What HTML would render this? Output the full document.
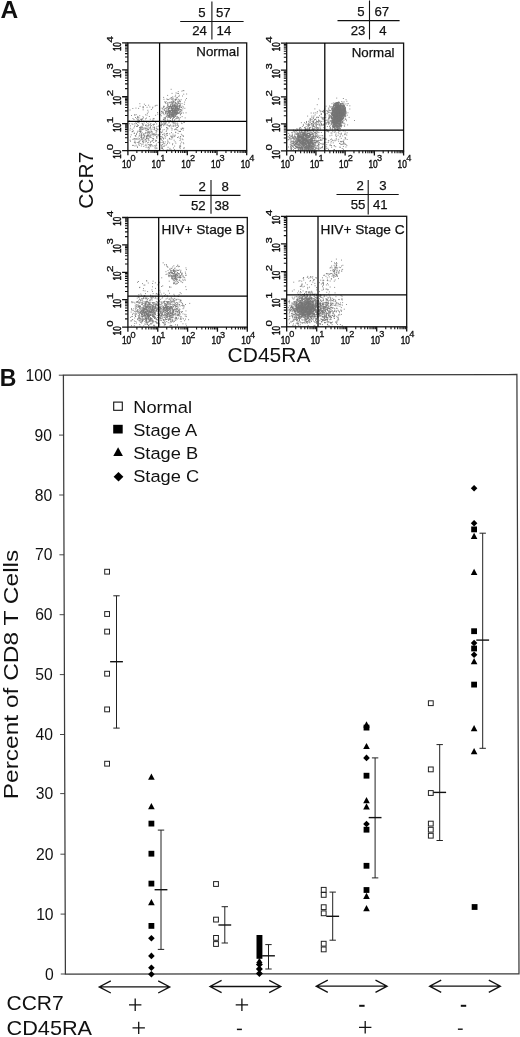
<!DOCTYPE html>
<html><head><meta charset="utf-8"><title>Figure</title>
<style>html,body{margin:0;padding:0;background:#fff}body{width:520px;height:1037px;overflow:hidden;font-family:"Liberation Sans",sans-serif}svg{display:block;will-change:transform}</style></head>
<body>
<svg width="520" height="1037" viewBox="0 0 520 1037">
<rect width="520" height="1037" fill="#fff"/>
<text x="0.4" y="18.3" font-family="Liberation Sans, sans-serif" font-size="24.5" font-weight="bold" fill="#111">A</text>
<text x="-0.3" y="386" font-family="Liberation Sans, sans-serif" font-size="23" font-weight="bold" fill="#111">B</text>
<path d="M171.2 113.6h0.9M171.4 108.4h0.9M167.9 110.2h0.9M177.9 110.8h0.9M177.6 109.9h0.9M174.4 110.5h0.9M164.3 118.0h0.9M175.0 112.3h0.9M164.2 101.9h0.9M168.1 108.5h0.9M174.0 109.2h0.9M175.1 105.2h0.9M174.0 111.9h0.9M169.3 121.7h0.9M175.2 116.5h0.9M169.5 106.4h0.9M170.8 109.9h0.9M175.6 110.5h0.9M170.3 104.8h0.9M169.9 118.4h0.9M168.5 112.8h0.9M174.6 100.1h0.9M172.7 118.0h0.9M162.6 111.2h0.9M172.0 105.1h0.9M174.9 108.8h0.9M165.3 117.5h0.9M175.8 114.8h0.9M179.6 109.9h0.9M173.1 101.8h0.9M175.5 105.2h0.9M170.3 102.9h0.9M167.8 108.3h0.9M178.8 95.3h0.9M165.4 113.8h0.9M179.6 111.3h0.9M163.2 97.4h0.9M174.3 104.9h0.9M167.0 117.8h0.9M177.9 109.2h0.9M173.7 112.3h0.9M180.3 111.3h0.9M175.0 112.6h0.9M164.8 120.5h0.9M177.2 111.8h0.9M162.8 109.2h0.9M176.6 97.4h0.9M171.6 116.6h0.9M166.1 122.1h0.9M175.2 108.2h0.9M174.1 113.5h0.9M173.1 116.9h0.9M169.3 108.5h0.9M177.6 108.5h0.9M168.2 117.3h0.9M179.7 104.9h0.9M165.7 111.4h0.9M171.8 108.4h0.9M179.4 101.4h0.9M178.7 100.1h0.9M168.6 115.2h0.9M178.0 113.5h0.9M174.2 110.3h0.9M173.2 113.3h0.9M171.6 112.0h0.9M175.3 109.1h0.9M176.2 112.3h0.9M182.4 108.8h0.9M170.4 108.4h0.9M172.4 115.7h0.9M170.9 112.9h0.9M181.5 91.2h0.9M167.0 113.3h0.9M174.5 110.8h0.9M170.4 114.7h0.9M173.9 106.3h0.9M184.4 108.3h0.9M169.8 110.3h0.9M171.4 110.0h0.9M159.1 111.3h0.9M177.4 101.1h0.9M172.2 116.0h0.9M176.7 117.9h0.9M164.2 110.5h0.9M170.8 114.4h0.9M177.8 91.6h0.9M177.8 99.3h0.9M175.8 99.7h0.9M173.4 117.1h0.9M171.8 111.4h0.9M176.4 109.6h0.9M172.1 119.6h0.9M177.6 106.5h0.9M186.0 98.5h0.9M177.0 106.9h0.9M173.1 114.2h0.9M173.6 113.6h0.9M165.0 103.1h0.9M175.5 103.0h0.9M167.5 102.5h0.9M178.7 112.6h0.9M179.7 101.8h0.9M172.5 102.9h0.9M176.3 118.6h0.9M168.1 121.1h0.9M177.3 107.3h0.9M162.8 121.9h0.9M172.0 106.4h0.9M174.5 111.9h0.9M179.8 101.3h0.9M178.1 117.4h0.9M179.6 106.6h0.9M168.9 117.5h0.9M173.1 110.6h0.9M179.5 106.1h0.9M161.2 111.3h0.9M163.4 118.0h0.9M174.1 105.7h0.9M172.5 115.2h0.9M172.9 118.1h0.9M172.2 116.5h0.9M179.8 117.6h0.9M169.2 116.5h0.9M163.3 106.3h0.9M162.9 119.8h0.9M166.5 111.9h0.9M171.6 110.1h0.9M169.6 112.4h0.9M181.3 107.4h0.9M175.1 115.4h0.9M171.5 102.5h0.9M169.8 117.5h0.9M164.4 108.9h0.9M177.4 113.3h0.9M172.5 115.0h0.9M173.3 102.4h0.9M164.8 108.5h0.9M177.0 105.0h0.9M168.1 106.7h0.9M165.0 111.7h0.9M166.7 114.1h0.9M160.9 115.8h0.9M169.4 99.0h0.9M176.1 107.1h0.9M161.6 108.1h0.9M173.9 106.7h0.9M176.3 113.4h0.9M175.8 111.0h0.9M179.0 112.0h0.9M174.7 96.4h0.9M176.9 116.7h0.9M171.0 107.6h0.9M182.0 96.0h0.9M174.8 124.3h0.9M168.0 115.8h0.9M181.7 106.2h0.9M175.2 114.7h0.9M168.1 110.9h0.9M173.9 114.6h0.9M172.3 108.8h0.9M167.5 109.4h0.9M176.9 109.2h0.9M168.3 106.1h0.9M185.6 112.8h0.9M175.6 92.9h0.9M175.5 112.0h0.9M180.8 110.0h0.9M172.2 113.3h0.9M163.0 119.5h0.9M174.1 105.1h0.9M179.0 119.1h0.9M165.6 108.1h0.9M173.9 110.7h0.9M170.5 104.6h0.9M182.9 113.0h0.9M166.6 103.6h0.9M180.8 113.4h0.9M181.4 112.1h0.9M168.2 113.0h0.9M161.9 108.8h0.9M172.2 113.3h0.9M168.9 110.4h0.9M174.7 111.6h0.9M175.6 110.3h0.9M170.9 115.4h0.9M172.7 104.8h0.9M169.4 111.0h0.9M172.0 111.1h0.9M172.5 111.1h0.9M171.8 102.4h0.9M174.6 115.9h0.9M174.6 108.1h0.9M174.7 103.3h0.9M163.2 113.4h0.9M167.9 116.1h0.9M167.2 95.4h0.9M167.4 121.4h0.9M170.6 102.1h0.9M168.8 114.4h0.9M174.9 110.3h0.9M179.8 112.0h0.9M172.4 113.7h0.9M180.6 113.4h0.9M177.5 101.7h0.9M171.8 114.8h0.9M171.0 117.1h0.9M175.4 114.7h0.9M171.5 126.1h0.9M178.6 106.7h0.9M172.9 125.9h0.9M170.8 116.0h0.9M177.3 108.5h0.9M166.8 113.0h0.9M174.3 116.4h0.9M176.3 108.9h0.9M176.7 112.0h0.9M173.5 110.0h0.9M171.3 114.6h0.9M167.3 107.8h0.9M172.5 100.9h0.9M170.4 98.2h0.9M169.2 114.6h0.9M175.3 108.8h0.9M171.4 101.6h0.9M181.5 110.3h0.9M177.9 102.8h0.9M171.6 99.0h0.9M176.3 114.5h0.9M163.2 112.7h0.9M175.6 98.1h0.9M163.6 106.3h0.9M169.4 102.3h0.9M172.7 111.5h0.9M175.6 113.3h0.9M179.9 114.8h0.9M166.1 109.0h0.9M167.3 105.0h0.9M172.1 110.2h0.9M174.9 99.4h0.9M166.4 111.8h0.9M171.5 108.4h0.9M172.2 105.4h0.9M175.9 111.1h0.9M172.1 106.0h0.9M171.6 93.4h0.9M167.7 111.8h0.9M165.1 113.6h0.9M173.2 101.2h0.9M171.3 108.5h0.9M174.8 113.1h0.9M172.3 104.8h0.9M171.8 109.8h0.9M176.1 110.6h0.9M169.0 102.8h0.9M170.7 106.0h0.9M167.1 111.1h0.9M170.1 111.4h0.9M175.1 106.6h0.9M183.9 104.3h0.9M177.9 109.0h0.9M178.0 93.5h0.9M168.8 112.7h0.9M175.5 123.5h0.9M174.1 117.4h0.9M176.3 114.6h0.9M175.0 108.2h0.9M175.0 102.5h0.9M178.3 101.8h0.9M173.7 122.7h0.9M171.4 110.5h0.9M178.2 108.3h0.9M168.5 112.9h0.9M175.4 113.5h0.9M168.7 122.1h0.9M180.7 107.4h0.9M173.8 106.9h0.9M179.4 103.4h0.9M175.8 105.9h0.9M169.1 115.6h0.9M179.0 107.8h0.9M169.2 116.1h0.9M172.3 112.0h0.9M180.0 114.6h0.9M170.0 125.0h0.9M172.5 114.9h0.9M169.3 110.8h0.9M163.9 123.9h0.9M179.2 100.3h0.9M165.1 102.4h0.9M178.3 105.3h0.9M172.2 108.2h0.9M171.9 103.5h0.9M172.6 101.1h0.9M172.1 112.0h0.9M174.8 107.8h0.9M168.1 112.4h0.9M170.1 120.5h0.9M176.3 108.1h0.9M170.2 106.4h0.9M167.9 109.3h0.9M173.9 112.7h0.9M175.3 122.1h0.9M169.0 111.2h0.9M186.2 94.0h0.9M169.9 111.9h0.9M173.3 112.3h0.9M171.3 112.7h0.9M172.8 114.7h0.9M163.2 107.5h0.9M172.5 103.6h0.9M167.4 115.6h0.9M169.3 115.0h0.9M176.2 110.7h0.9M175.0 108.5h0.9M165.6 112.1h0.9M174.7 106.0h0.9M172.0 114.8h0.9M168.2 115.4h0.9M181.6 103.6h0.9M173.2 108.8h0.9M180.0 109.5h0.9M176.9 104.3h0.9M172.4 110.0h0.9M163.8 121.8h0.9M176.9 97.7h0.9M176.1 108.0h0.9M174.7 111.6h0.9M165.2 111.1h0.9M179.8 104.0h0.9M167.5 103.2h0.9M166.5 114.0h0.9M180.8 110.0h0.9M173.7 123.4h0.9M170.0 106.7h0.9M175.1 112.6h0.9M167.5 104.4h0.9M173.9 111.1h0.9M166.1 110.8h0.9M169.8 113.7h0.9M171.9 109.7h0.9M170.8 117.1h0.9M179.3 105.5h0.9M176.6 104.0h0.9M172.9 114.5h0.9M179.9 105.2h0.9M172.1 111.3h0.9M165.2 112.5h0.9M169.2 113.4h0.9M167.0 99.6h0.9M172.7 111.6h0.9M169.8 116.4h0.9M171.2 106.7h0.9M174.8 99.5h0.9M169.2 111.0h0.9M176.7 107.6h0.9M174.0 105.4h0.9M174.0 119.8h0.9M169.1 125.8h0.9M169.3 111.1h0.9M173.3 116.1h0.9M166.4 99.0h0.9M175.5 114.0h0.9M175.6 125.3h0.9M173.5 111.2h0.9M177.1 110.8h0.9M180.7 99.7h0.9M170.7 89.3h0.9M176.5 106.4h0.9M177.0 121.9h0.9M172.5 108.4h0.9M170.1 105.6h0.9M169.4 115.0h0.9M172.7 110.4h0.9M171.7 115.9h0.9M174.9 108.3h0.9M175.8 108.0h0.9M166.9 120.9h0.9M174.8 103.3h0.9M177.8 110.4h0.9M164.8 122.5h0.9M174.1 115.0h0.9M173.5 108.8h0.9M164.9 118.5h0.9M172.6 108.2h0.9M174.2 109.9h0.9M175.8 106.6h0.9M172.3 96.8h0.9M170.4 114.9h0.9M179.0 105.6h0.9M171.9 120.0h0.9M170.9 115.1h0.9M180.7 107.6h0.9M178.5 103.6h0.9M173.5 109.2h0.9M173.1 116.8h0.9M184.2 102.1h0.9M169.7 114.0h0.9M167.3 114.8h0.9M175.3 107.4h0.9M175.1 99.5h0.9M176.2 99.2h0.9M169.1 107.7h0.9M170.5 116.0h0.9M172.9 107.4h0.9M175.2 118.9h0.9M172.5 112.3h0.9M178.6 109.7h0.9M166.2 127.5h0.9M183.3 94.2h0.9M172.3 112.6h0.9M177.2 112.6h0.9M171.2 103.9h0.9M173.0 116.2h0.9M167.2 105.4h0.9M172.4 98.0h0.9M171.2 107.7h0.9M174.7 104.9h0.9M168.2 109.0h0.9M172.3 106.0h0.9M172.6 114.6h0.9M178.3 118.7h0.9M168.7 108.7h0.9M160.3 125.7h0.9M168.9 111.0h0.9M175.1 100.7h0.9M174.8 109.1h0.9M163.6 114.7h0.9M178.4 96.5h0.9M176.5 110.0h0.9M174.8 112.0h0.9M178.9 106.5h0.9M176.8 106.1h0.9M176.1 103.8h0.9M172.0 120.9h0.9M174.7 108.3h0.9M166.9 106.9h0.9M173.4 115.5h0.9M174.6 112.6h0.9M172.3 118.4h0.9M170.6 107.2h0.9M176.9 109.0h0.9M171.1 106.9h0.9M171.2 114.3h0.9M174.2 101.9h0.9M174.6 110.4h0.9M167.6 116.4h0.9M171.1 108.4h0.9M176.4 116.9h0.9M169.1 113.8h0.9M168.2 125.7h0.9M170.1 118.2h0.9M169.3 116.1h0.9M183.4 90.7h0.9M170.4 113.8h0.9M172.0 106.0h0.9M183.0 107.0h0.9M164.4 117.9h0.9M164.1 119.9h0.9M169.7 111.8h0.9M178.7 108.7h0.9M165.7 101.7h0.9M178.3 112.7h0.9M168.5 116.6h0.9M174.9 113.2h0.9M161.4 111.7h0.9M176.9 113.1h0.9M176.8 93.4h0.9M173.3 112.8h0.9M185.0 100.0h0.9M170.9 110.7h0.9M176.8 105.8h0.9M178.1 103.3h0.9M173.8 106.3h0.9M173.3 105.5h0.9M164.7 119.3h0.9M174.0 106.1h0.9M173.5 115.8h0.9M167.7 110.9h0.9M175.1 112.4h0.9M170.9 97.5h0.9M178.6 110.0h0.9M172.6 108.3h0.9M173.8 106.9h0.9M167.5 107.1h0.9M169.6 107.2h0.9M166.8 115.8h0.9M166.1 116.2h0.9M167.5 113.8h0.9M179.2 109.1h0.9M168.9 111.5h0.9M173.2 99.0h0.9M169.5 112.0h0.9M170.2 111.2h0.9M176.1 113.6h0.9M176.9 112.2h0.9M171.1 110.3h0.9M171.2 108.5h0.9M171.6 99.6h0.9M170.9 110.4h0.9M167.7 111.4h0.9M175.0 108.2h0.9M182.7 90.5h0.9M171.5 99.0h0.9M177.3 124.9h0.9M160.2 114.8h0.9M175.0 107.3h0.9M175.2 95.2h0.9M176.7 110.9h0.9M172.6 106.3h0.9M175.6 106.0h0.9M173.6 106.5h0.9M161.5 113.4h0.9M173.5 114.4h0.9M168.2 111.2h0.9M175.5 109.9h0.9M178.6 120.4h0.9M168.0 99.6h0.9M176.7 118.1h0.9M177.0 113.6h0.9M169.5 106.6h0.9M176.9 102.9h0.9M163.6 106.7h0.9M184.7 117.9h0.9M169.1 106.6h0.9M173.6 105.0h0.9M178.9 107.4h0.9M167.2 119.8h0.9M169.6 112.3h0.9M172.4 108.1h0.9M174.1 105.2h0.9M163.5 99.3h0.9M166.3 107.3h0.9M172.4 110.4h0.9M175.2 109.9h0.9M168.6 106.9h0.9M162.1 112.3h0.9M174.9 112.5h0.9M171.9 109.1h0.9M177.1 108.6h0.9M176.1 112.4h0.9M147.8 144.5h0.9M141.1 131.1h0.9M139.1 127.6h0.9M159.2 148.1h0.9M146.2 138.5h0.9M156.0 140.5h0.9M156.2 123.9h0.9M140.6 137.6h0.9M158.2 134.8h0.9M138.7 131.2h0.9M140.4 127.1h0.9M158.8 129.0h0.9M156.1 136.7h0.9M140.8 137.3h0.9M159.8 139.0h0.9M156.7 134.8h0.9M150.4 132.4h0.9M149.6 144.4h0.9M133.8 133.5h0.9M148.0 129.4h0.9M143.4 140.3h0.9M163.0 139.0h0.9M148.8 121.6h0.9M162.4 134.6h0.9M145.7 125.1h0.9M145.5 125.2h0.9M146.6 137.7h0.9M146.3 136.2h0.9M138.8 145.4h0.9M140.4 119.5h0.9M144.4 127.9h0.9M137.4 131.2h0.9M148.5 124.5h0.9M144.8 145.4h0.9M151.8 132.8h0.9M147.1 133.0h0.9M145.6 139.9h0.9M145.2 114.8h0.9M145.8 126.9h0.9M151.5 129.1h0.9M137.1 125.0h0.9M134.0 114.8h0.9M130.0 136.9h0.9M140.6 119.1h0.9M133.4 138.9h0.9M139.4 131.1h0.9M148.8 144.9h0.9M162.5 142.3h0.9M147.2 135.5h0.9M161.3 145.4h0.9M143.4 137.7h0.9M148.4 134.4h0.9M141.7 123.4h0.9M141.5 121.6h0.9M156.4 138.3h0.9M135.7 145.2h0.9M153.6 118.7h0.9M161.7 140.5h0.9M163.5 124.2h0.9M150.5 137.4h0.9M147.7 135.4h0.9M155.0 122.0h0.9M135.4 122.8h0.9M141.3 129.2h0.9M149.1 136.1h0.9M146.3 128.6h0.9M142.2 141.6h0.9M152.5 134.8h0.9M143.3 146.4h0.9M140.9 139.2h0.9M155.8 131.9h0.9M153.0 125.1h0.9M154.6 135.6h0.9M132.5 139.4h0.9M138.4 144.3h0.9M140.2 132.7h0.9M148.4 131.3h0.9M148.2 129.6h0.9M151.7 134.0h0.9M147.8 112.0h0.9M155.9 134.3h0.9M130.8 134.8h0.9M150.0 142.6h0.9M136.8 146.4h0.9M144.8 139.4h0.9M142.9 125.1h0.9M155.3 141.3h0.9M159.1 140.9h0.9M141.1 120.7h0.9M140.5 128.6h0.9M139.1 138.7h0.9M148.8 131.8h0.9M147.5 132.8h0.9M147.8 140.0h0.9M154.2 128.5h0.9M133.2 145.4h0.9M147.0 142.8h0.9M132.0 131.4h0.9M146.2 122.5h0.9M141.6 139.8h0.9M155.2 146.8h0.9M138.7 122.8h0.9M150.4 141.5h0.9M147.6 123.6h0.9M152.6 140.3h0.9M150.7 130.1h0.9M148.6 140.3h0.9M141.3 119.3h0.9M148.8 137.8h0.9M146.1 141.1h0.9M141.0 133.3h0.9M143.4 138.6h0.9M159.6 132.0h0.9M163.5 146.2h0.9M152.7 138.7h0.9M161.1 132.6h0.9M145.0 125.5h0.9M150.0 144.8h0.9M150.5 137.4h0.9M144.3 135.4h0.9M133.9 142.4h0.9M142.5 125.2h0.9M139.6 127.4h0.9M153.3 142.5h0.9M134.5 141.4h0.9M153.5 129.4h0.9M133.4 128.0h0.9M140.6 136.7h0.9M143.0 117.8h0.9M148.0 121.7h0.9M153.7 124.3h0.9M140.1 127.2h0.9M141.4 144.4h0.9M153.2 138.8h0.9M148.7 121.6h0.9M141.6 129.6h0.9M137.7 138.1h0.9M139.7 128.3h0.9M137.1 117.5h0.9M151.1 144.6h0.9M147.5 126.2h0.9M156.3 136.4h0.9M153.9 145.8h0.9M155.6 130.5h0.9M154.9 140.2h0.9M132.9 130.8h0.9M133.9 133.1h0.9M150.9 125.5h0.9M149.2 145.8h0.9M134.7 142.5h0.9M144.2 136.2h0.9M144.7 142.0h0.9M154.8 134.7h0.9M134.4 139.9h0.9M142.0 139.0h0.9M148.2 147.0h0.9M155.7 130.4h0.9M149.0 148.1h0.9M141.4 137.5h0.9M156.1 144.1h0.9M150.4 123.4h0.9M135.3 136.0h0.9M138.7 143.1h0.9M152.5 120.6h0.9M139.0 135.3h0.9M141.8 132.8h0.9M150.0 127.5h0.9M150.0 128.9h0.9M141.4 138.3h0.9M141.1 136.3h0.9M159.6 134.2h0.9M144.8 139.9h0.9M142.9 142.7h0.9M135.1 138.9h0.9M141.6 127.6h0.9M161.0 127.2h0.9M160.9 139.3h0.9M158.4 126.2h0.9M156.2 145.7h0.9M145.0 133.0h0.9M166.9 135.4h0.9M142.4 129.0h0.9M149.8 136.6h0.9M147.5 147.8h0.9M143.2 137.8h0.9M158.4 126.0h0.9M154.8 148.7h0.9M134.5 125.2h0.9M137.2 119.2h0.9M149.8 119.2h0.9M150.2 145.6h0.9M132.3 131.5h0.9M129.7 140.2h0.9M139.7 131.9h0.9M146.5 138.4h0.9M143.1 134.1h0.9M141.4 134.9h0.9M136.0 134.5h0.9M129.6 130.1h0.9M162.3 134.6h0.9M135.3 136.1h0.9M137.7 120.8h0.9M139.7 139.9h0.9M149.3 133.2h0.9M138.1 125.4h0.9M157.5 136.0h0.9M137.9 117.1h0.9M136.2 133.4h0.9M147.8 132.7h0.9M143.6 123.0h0.9M137.1 147.5h0.9M139.6 140.8h0.9M131.6 131.8h0.9M148.2 142.3h0.9M136.5 138.8h0.9M149.3 128.1h0.9M150.1 126.8h0.9M139.2 133.8h0.9M137.5 122.3h0.9M142.4 140.1h0.9M142.6 144.1h0.9M136.1 123.5h0.9M159.2 137.2h0.9M154.0 127.4h0.9M152.8 136.1h0.9M151.5 134.2h0.9M156.3 128.8h0.9M137.8 122.2h0.9M155.9 128.1h0.9M137.1 126.5h0.9M142.2 123.8h0.9M143.5 129.0h0.9M141.3 126.3h0.9M146.3 130.3h0.9M147.0 136.0h0.9M148.9 116.5h0.9M141.4 127.6h0.9M152.6 121.4h0.9M139.9 131.6h0.9M143.1 141.9h0.9M142.2 141.7h0.9M133.5 119.5h0.9M156.4 137.5h0.9M150.1 135.0h0.9M150.1 124.3h0.9M154.1 129.7h0.9M154.4 134.7h0.9M129.2 123.7h0.9M155.6 132.9h0.9M142.6 135.9h0.9M142.4 129.6h0.9M146.9 135.2h0.9M158.9 134.4h0.9M162.0 148.4h0.9M160.6 142.5h0.9M147.1 135.1h0.9M144.8 128.2h0.9M145.4 128.9h0.9M159.9 138.3h0.9M142.2 118.7h0.9M145.5 130.7h0.9M136.8 124.9h0.9M145.7 132.8h0.9M158.3 135.1h0.9M147.4 131.0h0.9M140.9 146.0h0.9M154.5 147.7h0.9M143.0 134.2h0.9M138.5 141.7h0.9M134.2 138.5h0.9M155.3 145.3h0.9M138.0 142.7h0.9M139.9 127.9h0.9M134.8 143.2h0.9M160.0 129.2h0.9M139.5 131.3h0.9M167.3 142.0h0.9M141.4 119.6h0.9M140.3 143.5h0.9M161.9 131.9h0.9M140.1 129.9h0.9M130.0 141.3h0.9M136.8 142.5h0.9M131.5 123.8h0.9M148.5 127.9h0.9M152.6 134.1h0.9M136.0 139.0h0.9M153.2 118.7h0.9M161.5 138.0h0.9M152.5 119.1h0.9M139.9 131.2h0.9M155.2 122.3h0.9M138.5 117.8h0.9M144.0 136.8h0.9M131.7 129.3h0.9M150.3 146.7h0.9M151.6 131.6h0.9M136.0 126.5h0.9M140.4 135.2h0.9M145.6 147.3h0.9M148.4 125.4h0.9M159.1 141.6h0.9M146.9 128.2h0.9M130.1 125.8h0.9M153.7 127.6h0.9M134.8 135.6h0.9M148.1 138.9h0.9M151.6 145.3h0.9M138.9 141.8h0.9M137.6 139.6h0.9M147.5 135.9h0.9M154.2 133.9h0.9M155.5 141.0h0.9M147.2 129.5h0.9M139.6 129.8h0.9M144.3 133.8h0.9M171.3 139.1h0.9M152.5 127.1h0.9M140.0 131.4h0.9M147.6 125.7h0.9M159.7 129.5h0.9M155.2 115.3h0.9M145.9 136.2h0.9M147.6 138.8h0.9M148.4 135.3h0.9M129.9 128.3h0.9M148.6 132.4h0.9M139.0 129.3h0.9M161.7 147.8h0.9M145.5 144.3h0.9M132.5 118.5h0.9M141.9 127.0h0.9M141.2 135.5h0.9M171.7 128.7h0.9M146.4 136.2h0.9M145.7 141.4h0.9M161.1 124.1h0.9M147.4 131.9h0.9M149.0 121.7h0.9M131.1 115.5h0.9M150.5 135.5h0.9M146.6 115.1h0.9M142.8 128.0h0.9M134.0 126.7h0.9M151.9 138.4h0.9M145.8 138.1h0.9M140.9 134.6h0.9M146.3 138.4h0.9M145.4 132.9h0.9M144.9 128.8h0.9M165.0 138.1h0.9M157.9 121.5h0.9M151.9 140.7h0.9M162.0 144.5h0.9M152.6 124.6h0.9M138.6 136.2h0.9M150.3 125.8h0.9M175.1 126.0h0.9M165.3 123.6h0.9M177.1 137.5h0.9M163.5 146.4h0.9M166.4 133.5h0.9M163.7 129.6h0.9M180.1 131.4h0.9M164.0 135.7h0.9M167.6 147.3h0.9M162.7 149.4h0.9M161.4 147.1h0.9M176.0 127.9h0.9M171.5 130.0h0.9M166.2 127.6h0.9M168.7 149.7h0.9M184.0 147.9h0.9M162.3 130.1h0.9M181.5 123.6h0.9M177.4 130.2h0.9M183.5 122.4h0.9M179.4 131.5h0.9M163.4 122.1h0.9M180.0 136.7h0.9M164.5 134.2h0.9M181.9 128.1h0.9M173.7 125.9h0.9M164.3 143.6h0.9M177.1 127.5h0.9M161.9 124.4h0.9M174.6 135.9h0.9M166.6 127.8h0.9M174.7 141.8h0.9M179.5 138.3h0.9M164.9 123.8h0.9M177.6 133.4h0.9M177.3 123.6h0.9M179.5 131.4h0.9M180.2 146.2h0.9M171.8 122.4h0.9M181.8 135.3h0.9M180.9 129.5h0.9M164.5 145.3h0.9M168.8 126.6h0.9M168.9 138.7h0.9M160.1 136.6h0.9M170.7 136.4h0.9M162.9 142.0h0.9M179.6 146.2h0.9M167.7 141.9h0.9M169.2 143.0h0.9M161.5 146.4h0.9M182.9 135.9h0.9M172.3 136.9h0.9M172.9 122.6h0.9M183.2 128.3h0.9M164.4 124.9h0.9M166.0 144.9h0.9M160.7 124.7h0.9M176.8 127.5h0.9M160.4 138.8h0.9M173.8 136.6h0.9M176.9 124.9h0.9M180.9 142.1h0.9M161.1 125.4h0.9M171.8 136.0h0.9M166.7 125.4h0.9M169.7 125.8h0.9M174.2 146.1h0.9M163.5 138.0h0.9M177.9 126.6h0.9M179.8 148.3h0.9M169.3 133.8h0.9M180.2 136.7h0.9M169.5 148.4h0.9M178.6 131.5h0.9M165.8 131.4h0.9M170.5 149.5h0.9M179.3 147.6h0.9M179.6 145.7h0.9M161.3 136.5h0.9M183.0 148.2h0.9M166.0 133.8h0.9M175.2 132.2h0.9M172.7 123.9h0.9M170.4 136.1h0.9M160.5 125.9h0.9M183.3 143.7h0.9M182.5 139.7h0.9M179.4 146.8h0.9M181.2 123.0h0.9M175.4 129.4h0.9M176.3 129.7h0.9M173.0 147.9h0.9M174.9 129.0h0.9M172.5 134.1h0.9M182.8 130.1h0.9M167.3 140.1h0.9M162.9 138.6h0.9M182.9 136.4h0.9M166.4 135.1h0.9M172.8 126.2h0.9M163.0 125.7h0.9M167.0 133.4h0.9M166.9 128.8h0.9M162.1 137.3h0.9M180.2 139.1h0.9M173.7 140.2h0.9M164.8 141.9h0.9M171.1 137.3h0.9M174.7 135.1h0.9M167.5 128.8h0.9M165.3 136.3h0.9M169.2 138.4h0.9M160.3 131.9h0.9M180.7 128.7h0.9M173.4 135.8h0.9M166.8 149.7h0.9M167.1 143.6h0.9M163.8 123.9h0.9M180.9 134.3h0.9M132.4 124.3h0.9M153.2 138.9h0.9M135.0 117.5h0.9M181.8 139.0h0.9M137.5 122.2h0.9M148.4 136.4h0.9M162.9 143.7h0.9M174.2 129.7h0.9M169.6 139.2h0.9M170.8 128.0h0.9M172.2 137.8h0.9M179.3 113.3h0.9M176.9 108.2h0.9M171.1 132.6h0.9M156.4 148.4h0.9M160.5 125.6h0.9M172.1 144.7h0.9M162.4 123.9h0.9M153.9 127.2h0.9M168.8 120.3h0.9M150.5 131.3h0.9M150.1 121.5h0.9M172.3 143.7h0.9M156.5 126.6h0.9M139.1 120.8h0.9M137.0 132.2h0.9M161.0 111.7h0.9M179.6 121.6h0.9M175.4 143.2h0.9M181.7 116.6h0.9M152.5 146.2h0.9M129.6 110.0h0.9M160.1 128.9h0.9M179.6 140.5h0.9M157.5 129.7h0.9M166.7 124.4h0.9M148.7 133.0h0.9M148.3 147.8h0.9M166.2 130.1h0.9M134.4 123.7h0.9M151.0 131.6h0.9M160.6 145.0h0.9M182.0 128.4h0.9M153.2 134.2h0.9M183.8 122.4h0.9M158.2 142.3h0.9M138.4 121.4h0.9M182.8 142.7h0.9M157.2 112.6h0.9M178.2 137.0h0.9M174.1 149.6h0.9M177.8 125.7h0.9M137.6 120.2h0.9M157.1 129.2h0.9M139.3 115.7h0.9M163.7 133.3h0.9M148.4 149.7h0.9M164.0 109.8h0.9M151.6 141.1h0.9M145.9 137.0h0.9M129.2 120.8h0.9M175.3 132.6h0.9M165.7 116.3h0.9M156.4 131.2h0.9M143.6 135.2h0.9M160.6 125.3h0.9M135.7 114.6h0.9M170.8 112.5h0.9M134.5 115.2h0.9M157.7 142.6h0.9M162.7 141.9h0.9M132.4 108.5h0.9M171.4 121.6h0.9M168.4 122.9h0.9M138.3 119.2h0.9M134.5 146.0h0.9M161.0 122.7h0.9M153.7 124.2h0.9M132.0 145.4h0.9M161.0 148.3h0.9M153.2 134.0h0.9M142.7 109.8h0.9M180.2 143.9h0.9M146.3 145.8h0.9M173.9 120.8h0.9M162.1 148.3h0.9M156.3 147.9h0.9M142.4 124.4h0.9M152.4 107.2h0.9M141.3 119.6h0.9M146.1 118.1h0.9M139.6 106.3h0.9M142.7 106.5h0.9M159.2 108.5h0.9M148.2 105.2h0.9M147.4 110.3h0.9M143.9 104.2h0.9M136.3 118.7h0.9M142.5 107.7h0.9M138.2 108.4h0.9M139.4 103.7h0.9M150.9 109.5h0.9M137.2 116.4h0.9M135.5 108.1h0.9M155.5 105.4h0.9M145.0 118.9h0.9M154.7 106.0h0.9M142.5 116.7h0.9M143.2 121.2h0.9M138.6 121.1h0.9M146.6 107.3h0.9M145.2 105.5h0.9M152.1 108.0h0.9M157.3 114.2h0.9M142.9 107.7h0.9M149.4 107.0h0.9M156.6 105.3h0.9M146.9 113.3h0.9" stroke="#767676" stroke-width="0.90" fill="none"/>
<rect x="127.9" y="42.9" width="118.8" height="107.7" fill="none" stroke="#111" stroke-width="1.3"/>
<path d="M159.6 42.9V150.6M127.9 121.4H246.7" stroke="#000" stroke-width="1.25" fill="none"/>
<path d="M127.90 150.6v4.6M127.9 150.60h-5.8M157.60 150.6v4.6M127.9 123.67h-5.8M187.30 150.6v4.6M127.9 96.75h-5.8M217.00 150.6v4.6M127.9 69.83h-5.8M246.70 150.6v4.6M127.9 42.90h-5.8" stroke="#111" stroke-width="1.3" fill="none"/>
<path d="M136.84 150.6v2.4M127.9 142.49h-2.9M142.07 150.6v2.4M127.9 137.75h-2.9M145.78 150.6v2.4M127.9 134.39h-2.9M148.66 150.6v2.4M127.9 131.78h-2.9M151.01 150.6v2.4M127.9 129.65h-2.9M153.00 150.6v2.4M127.9 127.85h-2.9M154.72 150.6v2.4M127.9 126.28h-2.9M156.24 150.6v2.4M127.9 124.91h-2.9M166.54 150.6v2.4M127.9 115.57h-2.9M171.77 150.6v2.4M127.9 110.83h-2.9M175.48 150.6v2.4M127.9 107.46h-2.9M178.36 150.6v2.4M127.9 104.86h-2.9M180.71 150.6v2.4M127.9 102.72h-2.9M182.70 150.6v2.4M127.9 100.92h-2.9M184.42 150.6v2.4M127.9 99.36h-2.9M185.94 150.6v2.4M127.9 97.98h-2.9M196.24 150.6v2.4M127.9 88.64h-2.9M201.47 150.6v2.4M127.9 83.90h-2.9M205.18 150.6v2.4M127.9 80.54h-2.9M208.06 150.6v2.4M127.9 77.93h-2.9M210.41 150.6v2.4M127.9 75.80h-2.9M212.40 150.6v2.4M127.9 74.00h-2.9M214.12 150.6v2.4M127.9 72.43h-2.9M215.64 150.6v2.4M127.9 71.06h-2.9M225.94 150.6v2.4M127.9 61.72h-2.9M231.17 150.6v2.4M127.9 56.98h-2.9M234.88 150.6v2.4M127.9 53.61h-2.9M237.76 150.6v2.4M127.9 51.01h-2.9M240.11 150.6v2.4M127.9 48.87h-2.9M242.10 150.6v2.4M127.9 47.07h-2.9M243.82 150.6v2.4M127.9 45.51h-2.9M245.34 150.6v2.4M127.9 44.13h-2.9" stroke="#111" stroke-width="1.1" fill="none"/>
<text transform="translate(121.9 167.5) scale(0.76 1)" font-family="Liberation Sans, sans-serif" font-size="11" fill="#111" stroke="#111" stroke-width="0.45">10</text>
<text x="130.5" y="161.2" font-family="Liberation Sans, sans-serif" font-size="9.2" fill="#111" stroke="#111" stroke-width="0.3">0</text>
<text transform="translate(120.7 158.8) rotate(-90) scale(0.8 1)" font-family="Liberation Sans, sans-serif" font-size="10" fill="#111" stroke="#111" stroke-width="0.5">10</text>
<text transform="translate(113.4 150.2) rotate(-90) scale(1.3 1)" font-family="Liberation Sans, sans-serif" font-size="8.8" fill="#111" stroke="#111" stroke-width="0.3">0</text>
<text transform="translate(151.6 167.5) scale(0.76 1)" font-family="Liberation Sans, sans-serif" font-size="11" fill="#111" stroke="#111" stroke-width="0.45">10</text>
<text x="160.2" y="161.2" font-family="Liberation Sans, sans-serif" font-size="9.2" fill="#111" stroke="#111" stroke-width="0.3">1</text>
<text transform="translate(120.7 131.9) rotate(-90) scale(0.8 1)" font-family="Liberation Sans, sans-serif" font-size="10" fill="#111" stroke="#111" stroke-width="0.5">10</text>
<text transform="translate(113.4 123.3) rotate(-90) scale(1.3 1)" font-family="Liberation Sans, sans-serif" font-size="8.8" fill="#111" stroke="#111" stroke-width="0.3">1</text>
<text transform="translate(181.3 167.5) scale(0.76 1)" font-family="Liberation Sans, sans-serif" font-size="11" fill="#111" stroke="#111" stroke-width="0.45">10</text>
<text x="189.9" y="161.2" font-family="Liberation Sans, sans-serif" font-size="9.2" fill="#111" stroke="#111" stroke-width="0.3">2</text>
<text transform="translate(120.7 105.0) rotate(-90) scale(0.8 1)" font-family="Liberation Sans, sans-serif" font-size="10" fill="#111" stroke="#111" stroke-width="0.5">10</text>
<text transform="translate(113.4 96.3) rotate(-90) scale(1.3 1)" font-family="Liberation Sans, sans-serif" font-size="8.8" fill="#111" stroke="#111" stroke-width="0.3">2</text>
<text transform="translate(211.0 167.5) scale(0.76 1)" font-family="Liberation Sans, sans-serif" font-size="11" fill="#111" stroke="#111" stroke-width="0.45">10</text>
<text x="219.6" y="161.2" font-family="Liberation Sans, sans-serif" font-size="9.2" fill="#111" stroke="#111" stroke-width="0.3">3</text>
<text transform="translate(120.7 78.0) rotate(-90) scale(0.8 1)" font-family="Liberation Sans, sans-serif" font-size="10" fill="#111" stroke="#111" stroke-width="0.5">10</text>
<text transform="translate(113.4 69.4) rotate(-90) scale(1.3 1)" font-family="Liberation Sans, sans-serif" font-size="8.8" fill="#111" stroke="#111" stroke-width="0.3">3</text>
<text transform="translate(240.7 167.5) scale(0.76 1)" font-family="Liberation Sans, sans-serif" font-size="11" fill="#111" stroke="#111" stroke-width="0.45">10</text>
<text x="249.3" y="161.2" font-family="Liberation Sans, sans-serif" font-size="9.2" fill="#111" stroke="#111" stroke-width="0.3">4</text>
<text transform="translate(120.7 51.1) rotate(-90) scale(0.8 1)" font-family="Liberation Sans, sans-serif" font-size="10" fill="#111" stroke="#111" stroke-width="0.5">10</text>
<text transform="translate(113.4 42.5) rotate(-90) scale(1.3 1)" font-family="Liberation Sans, sans-serif" font-size="8.8" fill="#111" stroke="#111" stroke-width="0.3">4</text>
<text x="196.3" y="55.8" font-family="Liberation Sans, sans-serif" font-size="13.3" fill="#111" stroke="#111" stroke-width="0.25">Normal</text>
<path d="M211.9 1.5V39.4M180.2 21.5H243.6" stroke="#111" stroke-width="1.1" fill="none"/>
<text x="205.6" y="16.9" font-family="Liberation Sans, sans-serif" font-size="13.2" fill="#111" stroke="#111" stroke-width="0.25" text-anchor="end">5</text>
<text x="215.9" y="16.9" font-family="Liberation Sans, sans-serif" font-size="13.2" fill="#111" stroke="#111" stroke-width="0.25" text-anchor="start">57</text>
<text x="206.8" y="35.4" font-family="Liberation Sans, sans-serif" font-size="13.2" fill="#111" stroke="#111" stroke-width="0.25" text-anchor="end">24</text>
<text x="216.6" y="35.4" font-family="Liberation Sans, sans-serif" font-size="13.2" fill="#111" stroke="#111" stroke-width="0.25" text-anchor="start">14</text>
<path d="M337.3 120.7h0.9M333.5 116.7h0.9M334.8 109.6h0.9M336.8 113.0h0.9M335.5 118.7h0.9M342.5 115.9h0.9M334.9 116.4h0.9M337.7 113.4h0.9M337.0 115.1h0.9M343.0 117.6h0.9M337.3 116.9h0.9M344.4 106.4h0.9M340.5 114.7h0.9M344.6 113.0h0.9M336.1 107.2h0.9M332.8 115.6h0.9M337.2 107.6h0.9M340.5 107.4h0.9M336.3 109.0h0.9M337.5 103.0h0.9M339.4 111.9h0.9M339.7 114.6h0.9M336.8 116.5h0.9M341.8 112.6h0.9M336.5 108.9h0.9M341.2 105.6h0.9M337.5 107.5h0.9M332.2 114.8h0.9M338.1 111.7h0.9M342.0 103.4h0.9M337.9 113.1h0.9M341.8 105.6h0.9M341.3 112.7h0.9M338.2 109.2h0.9M336.7 106.4h0.9M337.8 113.8h0.9M342.5 109.6h0.9M344.2 108.0h0.9M334.9 107.2h0.9M344.5 114.3h0.9M333.6 114.3h0.9M340.2 110.3h0.9M338.3 109.9h0.9M337.8 118.3h0.9M344.2 110.0h0.9M335.1 110.4h0.9M342.0 113.4h0.9M335.7 113.4h0.9M337.3 114.2h0.9M336.5 103.7h0.9M338.4 115.5h0.9M333.6 110.9h0.9M341.9 109.5h0.9M341.7 116.9h0.9M331.3 108.8h0.9M341.3 118.5h0.9M334.3 108.0h0.9M340.9 114.4h0.9M336.3 114.3h0.9M341.4 113.1h0.9M340.4 119.4h0.9M336.2 112.3h0.9M336.0 116.9h0.9M336.5 114.0h0.9M338.8 111.8h0.9M345.4 111.1h0.9M344.1 115.8h0.9M343.7 110.6h0.9M342.1 115.5h0.9M335.6 112.9h0.9M337.7 111.3h0.9M343.6 107.7h0.9M336.3 108.1h0.9M338.3 114.4h0.9M345.5 113.1h0.9M340.1 107.7h0.9M340.6 118.6h0.9M341.6 103.7h0.9M336.9 114.6h0.9M339.9 107.3h0.9M334.5 116.5h0.9M338.3 113.1h0.9M332.7 108.4h0.9M341.1 103.9h0.9M333.1 111.7h0.9M340.2 115.3h0.9M336.7 110.4h0.9M337.2 108.5h0.9M339.2 112.3h0.9M335.6 112.8h0.9M338.1 111.1h0.9M339.2 106.0h0.9M336.9 119.3h0.9M333.7 111.0h0.9M335.8 116.4h0.9M340.3 109.7h0.9M336.9 117.1h0.9M334.5 109.6h0.9M338.8 113.6h0.9M336.1 116.9h0.9M344.0 109.7h0.9M338.8 109.7h0.9M335.6 104.9h0.9M336.6 118.2h0.9M342.9 109.7h0.9M336.0 107.9h0.9M340.9 112.1h0.9M336.2 106.2h0.9M343.6 115.5h0.9M334.3 116.6h0.9M333.6 114.8h0.9M334.2 109.4h0.9M340.2 113.7h0.9M342.4 107.2h0.9M338.2 113.9h0.9M335.0 110.7h0.9M332.7 112.0h0.9M339.0 118.5h0.9M342.1 115.7h0.9M336.7 110.3h0.9M336.8 112.7h0.9M331.7 108.8h0.9M338.3 108.8h0.9M345.1 111.0h0.9M336.1 113.6h0.9M343.6 109.8h0.9M338.6 108.6h0.9M338.4 109.7h0.9M338.5 116.7h0.9M343.9 112.2h0.9M339.0 115.9h0.9M337.0 106.0h0.9M342.8 106.7h0.9M342.0 106.5h0.9M341.7 119.3h0.9M334.2 119.2h0.9M341.2 115.1h0.9M338.0 109.9h0.9M336.6 110.0h0.9M336.7 107.8h0.9M339.8 117.0h0.9M341.2 105.4h0.9M338.9 112.2h0.9M340.4 117.8h0.9M336.6 119.5h0.9M336.4 113.6h0.9M342.0 106.8h0.9M338.9 111.2h0.9M336.9 114.1h0.9M338.6 110.1h0.9M336.4 106.6h0.9M335.7 112.0h0.9M340.6 107.0h0.9M342.3 106.2h0.9M341.6 113.7h0.9M337.1 110.6h0.9M340.2 116.0h0.9M332.7 112.9h0.9M335.1 114.8h0.9M343.9 111.8h0.9M337.8 112.5h0.9M340.5 112.4h0.9M336.6 107.7h0.9M337.5 117.8h0.9M337.8 118.5h0.9M339.3 111.4h0.9M331.3 108.1h0.9M343.4 104.8h0.9M334.1 105.8h0.9M335.9 114.8h0.9M344.2 108.4h0.9M335.8 120.1h0.9M337.9 105.1h0.9M335.6 107.7h0.9M334.0 109.8h0.9M341.8 113.3h0.9M334.1 112.1h0.9M338.3 115.4h0.9M336.8 113.9h0.9M333.7 113.2h0.9M334.9 109.6h0.9M339.0 113.2h0.9M337.0 115.9h0.9M337.4 104.7h0.9M341.8 109.6h0.9M343.2 108.1h0.9M340.6 113.1h0.9M333.6 118.8h0.9M342.7 114.1h0.9M341.0 108.9h0.9M338.2 112.7h0.9M339.9 115.2h0.9M337.3 107.9h0.9M335.9 113.6h0.9M336.5 108.6h0.9M336.8 110.2h0.9M336.9 114.0h0.9M340.2 117.7h0.9M342.6 106.1h0.9M340.8 109.8h0.9M334.9 119.5h0.9M335.6 107.1h0.9M336.5 107.1h0.9M342.4 113.5h0.9M344.0 113.6h0.9M335.7 116.9h0.9M335.5 109.1h0.9M337.5 111.7h0.9M343.1 108.4h0.9M339.7 111.4h0.9M333.0 105.8h0.9M337.3 113.6h0.9M339.5 114.0h0.9M338.4 109.2h0.9M340.0 106.3h0.9M332.6 109.8h0.9M332.3 108.8h0.9M335.1 108.6h0.9M338.0 107.3h0.9M336.4 102.6h0.9M338.8 106.9h0.9M334.9 112.8h0.9M338.6 112.0h0.9M332.0 112.7h0.9M338.8 106.4h0.9M341.3 111.2h0.9M338.3 109.2h0.9M340.5 112.0h0.9M342.9 113.9h0.9M335.6 110.3h0.9M342.0 109.6h0.9M339.8 114.2h0.9M338.7 112.6h0.9M338.8 107.5h0.9M343.2 110.8h0.9M335.6 107.8h0.9M339.7 105.8h0.9M343.6 117.0h0.9M343.9 114.6h0.9M343.4 114.1h0.9M343.9 108.9h0.9M338.7 115.6h0.9M337.8 117.2h0.9M338.5 115.1h0.9M338.6 103.8h0.9M339.4 118.4h0.9M340.5 108.4h0.9M337.4 116.2h0.9M341.6 118.5h0.9M334.3 108.1h0.9M333.4 118.7h0.9M340.0 108.9h0.9M337.9 112.6h0.9M342.3 118.7h0.9M340.3 113.4h0.9M337.4 109.4h0.9M339.3 111.3h0.9M337.8 110.1h0.9M335.1 111.4h0.9M336.4 112.6h0.9M341.8 115.8h0.9M341.2 115.8h0.9M341.0 118.9h0.9M342.4 118.6h0.9M336.1 111.5h0.9M335.1 116.5h0.9M341.7 109.1h0.9M343.4 105.6h0.9M337.8 114.8h0.9M338.1 113.5h0.9M343.1 113.2h0.9M333.6 115.3h0.9M337.8 112.1h0.9M335.8 104.2h0.9M333.0 109.6h0.9M343.0 105.4h0.9M335.2 114.3h0.9M335.0 115.0h0.9M336.2 113.1h0.9M338.6 111.5h0.9M338.0 118.9h0.9M335.9 114.3h0.9M338.9 114.0h0.9M339.4 110.6h0.9M336.9 107.0h0.9M334.9 106.1h0.9M345.3 111.6h0.9M341.3 106.4h0.9M338.8 119.1h0.9M338.0 106.2h0.9M337.2 106.3h0.9M332.4 110.3h0.9M336.5 107.2h0.9M334.5 106.6h0.9M339.2 118.8h0.9M331.4 112.9h0.9M333.4 110.7h0.9M338.6 114.4h0.9M342.9 108.6h0.9M333.0 110.5h0.9M339.4 107.8h0.9M332.2 113.4h0.9M339.1 110.3h0.9M339.1 109.0h0.9M340.1 114.9h0.9M341.4 114.6h0.9M339.9 105.3h0.9M336.4 112.2h0.9M336.6 105.9h0.9M338.3 108.4h0.9M336.5 106.8h0.9M335.1 111.0h0.9M335.5 115.1h0.9M337.6 112.2h0.9M339.9 118.2h0.9M340.7 112.7h0.9M337.5 107.3h0.9M336.8 115.1h0.9M339.1 109.5h0.9M339.5 116.9h0.9M339.8 104.3h0.9M337.3 112.7h0.9M334.4 113.3h0.9M337.4 107.1h0.9M333.0 115.8h0.9M339.7 106.8h0.9M334.0 116.2h0.9M340.7 109.9h0.9M344.9 110.0h0.9M333.8 117.2h0.9M337.4 113.3h0.9M338.4 106.2h0.9M333.2 110.5h0.9M344.1 106.2h0.9M343.9 112.7h0.9M333.5 112.9h0.9M340.6 106.8h0.9M333.6 113.8h0.9M334.8 103.7h0.9M337.2 112.4h0.9M335.9 105.3h0.9M339.1 102.3h0.9M340.4 114.1h0.9M339.7 112.9h0.9M338.3 104.5h0.9M344.3 114.3h0.9M337.0 105.5h0.9M344.4 114.3h0.9M333.2 115.0h0.9M339.9 109.3h0.9M335.6 117.1h0.9M337.7 115.7h0.9M336.9 115.3h0.9M341.7 106.2h0.9M333.7 111.1h0.9M341.7 113.0h0.9M340.3 108.2h0.9M338.6 113.2h0.9M334.2 110.3h0.9M333.3 112.9h0.9M334.7 108.9h0.9M339.1 108.1h0.9M343.0 108.2h0.9M341.7 113.0h0.9M333.9 110.4h0.9M334.7 109.6h0.9M336.5 119.7h0.9M340.1 104.7h0.9M342.5 113.5h0.9M337.3 110.2h0.9M339.3 109.9h0.9M336.0 109.6h0.9M343.1 108.3h0.9M339.8 105.5h0.9M335.2 104.3h0.9M337.4 115.1h0.9M339.5 108.9h0.9M340.7 109.7h0.9M339.8 112.9h0.9M332.8 115.5h0.9M337.2 108.6h0.9M344.4 114.4h0.9M337.4 115.3h0.9M334.9 109.2h0.9M335.9 110.3h0.9M341.4 109.0h0.9M339.5 108.9h0.9M337.3 112.4h0.9M333.7 116.8h0.9M339.1 118.2h0.9M342.2 114.8h0.9M337.6 105.8h0.9M337.3 109.1h0.9M339.2 109.1h0.9M343.1 109.0h0.9M337.2 116.3h0.9M338.2 105.2h0.9M339.9 110.5h0.9M333.8 107.6h0.9M340.2 113.1h0.9M339.9 108.3h0.9M339.2 110.9h0.9M337.4 110.1h0.9M335.9 116.6h0.9M338.3 120.4h0.9M337.7 113.5h0.9M336.4 110.6h0.9M334.3 108.1h0.9M343.2 112.9h0.9M343.3 116.0h0.9M342.0 116.7h0.9M335.7 115.7h0.9M336.9 108.7h0.9M341.6 107.1h0.9M339.3 113.4h0.9M339.8 109.6h0.9M332.9 111.7h0.9M341.8 115.6h0.9M340.9 117.2h0.9M334.1 111.3h0.9M339.6 116.7h0.9M338.8 114.2h0.9M332.3 108.0h0.9M339.1 120.4h0.9M340.1 115.0h0.9M342.4 112.5h0.9M334.6 111.0h0.9M339.6 110.1h0.9M335.4 109.6h0.9M337.8 109.6h0.9M338.4 118.8h0.9M339.4 111.3h0.9M333.3 105.9h0.9M339.8 107.0h0.9M340.0 105.9h0.9M338.8 111.1h0.9M342.3 109.5h0.9M336.7 112.8h0.9M338.4 120.3h0.9M337.1 108.7h0.9M336.9 114.0h0.9M339.2 115.1h0.9M333.2 112.3h0.9M338.3 103.8h0.9M340.1 118.7h0.9M343.9 116.2h0.9M336.7 114.1h0.9M344.5 109.8h0.9M338.1 108.6h0.9M344.1 106.5h0.9M334.3 108.4h0.9M340.7 108.2h0.9M343.3 109.9h0.9M340.2 110.6h0.9M338.5 115.1h0.9M335.1 112.5h0.9M335.5 103.7h0.9M340.0 103.6h0.9M336.7 112.8h0.9M335.1 117.6h0.9M343.2 111.7h0.9M340.3 111.8h0.9M339.9 106.3h0.9M334.4 107.8h0.9M336.7 114.7h0.9M335.6 108.4h0.9M341.1 113.8h0.9M336.8 105.9h0.9M342.9 117.1h0.9M339.6 115.4h0.9M342.1 110.2h0.9M334.2 115.4h0.9M343.1 109.7h0.9M341.0 111.2h0.9M339.4 108.7h0.9M338.1 111.5h0.9M338.2 116.5h0.9M342.6 115.6h0.9M341.5 106.6h0.9M343.2 106.5h0.9M343.5 115.0h0.9M334.1 117.6h0.9M335.4 107.6h0.9M331.8 110.4h0.9M342.4 108.0h0.9M336.0 105.2h0.9M331.4 114.4h0.9M343.6 106.0h0.9M338.2 110.1h0.9M337.1 114.1h0.9M341.7 117.2h0.9M337.0 110.7h0.9M332.6 117.1h0.9M336.0 108.1h0.9M338.5 107.0h0.9M333.9 110.0h0.9M344.4 110.4h0.9M340.4 103.9h0.9M336.5 103.5h0.9M337.8 114.7h0.9M339.3 106.7h0.9M341.5 116.5h0.9M340.0 109.3h0.9M338.0 108.2h0.9M337.7 113.2h0.9M337.0 116.6h0.9M339.6 115.8h0.9M340.9 110.3h0.9M336.2 116.7h0.9M340.8 114.1h0.9M334.9 114.8h0.9M341.5 110.5h0.9M333.3 104.4h0.9M337.2 114.3h0.9M338.4 105.4h0.9M332.2 108.6h0.9M338.3 107.2h0.9M334.7 110.7h0.9M335.9 108.4h0.9M338.4 109.9h0.9M340.8 105.3h0.9M337.9 115.5h0.9M343.1 114.4h0.9M338.4 103.4h0.9M341.0 114.5h0.9M333.8 105.3h0.9M338.9 106.2h0.9M344.8 108.2h0.9M335.9 116.0h0.9M339.6 106.8h0.9M333.1 110.2h0.9M340.8 115.2h0.9M342.3 113.7h0.9M335.4 105.3h0.9M333.6 115.5h0.9M341.9 118.1h0.9M338.3 105.1h0.9M342.8 117.7h0.9M336.5 104.4h0.9M337.9 113.5h0.9M337.8 115.2h0.9M338.5 113.9h0.9M339.5 106.7h0.9M337.7 109.5h0.9M340.2 107.4h0.9M344.3 111.7h0.9M340.4 114.8h0.9M342.6 113.6h0.9M340.6 114.0h0.9M335.5 107.9h0.9M335.5 117.6h0.9M340.1 105.2h0.9M345.5 113.3h0.9M343.2 112.6h0.9M336.8 112.4h0.9M333.5 105.2h0.9M334.5 108.7h0.9M332.5 111.0h0.9M341.9 110.3h0.9M339.8 111.3h0.9M335.9 111.9h0.9M332.0 113.8h0.9M337.0 105.8h0.9M336.7 114.4h0.9M335.3 114.0h0.9M340.6 119.8h0.9M333.6 110.9h0.9M340.4 119.5h0.9M339.3 115.5h0.9M332.0 108.4h0.9M345.2 110.0h0.9M337.0 103.0h0.9M340.9 112.9h0.9M337.1 104.0h0.9M337.9 116.5h0.9M341.3 118.0h0.9M341.9 111.3h0.9M340.8 112.4h0.9M339.8 105.9h0.9M339.8 113.0h0.9M342.4 119.2h0.9M339.6 113.4h0.9M333.5 109.0h0.9M339.0 115.5h0.9M342.8 110.8h0.9M337.7 106.2h0.9M338.7 112.1h0.9M339.5 118.5h0.9M337.8 112.0h0.9M337.0 111.9h0.9M342.3 107.2h0.9M341.6 113.6h0.9M332.1 112.2h0.9M339.1 115.4h0.9M341.7 108.5h0.9M342.8 115.9h0.9M340.2 114.1h0.9M332.7 113.4h0.9M333.8 105.1h0.9M336.7 112.2h0.9M338.0 109.7h0.9M333.9 112.5h0.9M335.0 103.9h0.9M338.6 119.3h0.9M336.5 105.8h0.9M336.9 110.4h0.9M338.8 116.8h0.9M333.5 104.9h0.9M340.1 112.1h0.9M339.5 111.9h0.9M339.4 119.4h0.9M343.8 108.2h0.9M341.1 109.5h0.9M338.7 112.4h0.9M338.3 109.0h0.9M344.9 110.1h0.9M340.9 117.0h0.9M332.2 111.4h0.9M339.5 112.3h0.9M334.8 110.2h0.9M337.8 111.9h0.9M338.2 110.3h0.9M336.1 112.2h0.9M336.5 108.5h0.9M336.3 112.6h0.9M343.5 110.5h0.9M337.1 113.4h0.9M339.4 109.5h0.9M335.7 114.9h0.9M338.4 108.5h0.9M338.3 110.9h0.9M340.1 112.7h0.9M336.1 104.7h0.9M333.5 110.7h0.9M333.3 115.6h0.9M338.0 110.2h0.9M331.9 114.5h0.9M338.1 116.1h0.9M336.0 115.4h0.9M342.1 114.8h0.9M344.4 110.6h0.9M344.8 107.7h0.9M338.3 107.2h0.9M338.2 117.1h0.9M341.3 112.0h0.9M334.7 119.7h0.9M339.7 105.1h0.9M335.8 118.5h0.9M334.6 116.5h0.9M340.7 110.8h0.9M332.1 110.0h0.9M340.7 113.5h0.9M341.5 111.9h0.9M340.3 116.7h0.9M335.7 103.9h0.9M338.0 102.5h0.9M338.2 115.7h0.9M344.7 112.9h0.9M339.0 115.5h0.9M344.2 109.8h0.9M332.9 107.2h0.9M332.8 106.7h0.9M337.7 113.4h0.9M338.9 111.9h0.9M336.7 113.8h0.9M342.0 115.6h0.9M344.6 109.9h0.9M337.1 120.7h0.9M339.1 113.7h0.9M336.8 116.7h0.9M336.5 106.1h0.9M337.9 109.1h0.9M341.8 109.5h0.9M338.7 110.3h0.9M339.7 108.1h0.9M336.5 107.7h0.9M341.0 111.7h0.9M340.3 109.7h0.9M335.1 105.5h0.9M336.8 108.6h0.9M339.4 113.4h0.9M342.4 110.9h0.9M335.0 105.8h0.9M338.5 113.4h0.9M333.7 118.0h0.9M338.2 116.7h0.9M336.1 111.1h0.9M337.3 116.7h0.9M338.5 107.7h0.9M339.2 115.1h0.9M335.1 114.9h0.9M335.1 106.8h0.9M339.1 110.2h0.9M338.3 112.8h0.9M336.2 112.5h0.9M331.6 113.6h0.9M340.0 113.0h0.9M335.6 111.9h0.9M338.8 117.3h0.9M339.4 112.9h0.9M335.1 116.2h0.9M343.2 108.8h0.9M340.9 113.2h0.9M338.0 104.6h0.9M339.5 109.5h0.9M343.1 109.2h0.9M338.4 114.8h0.9M340.2 108.7h0.9M341.1 113.6h0.9M342.4 108.7h0.9M338.0 109.4h0.9M334.6 112.9h0.9M340.0 119.2h0.9M336.8 113.6h0.9M343.1 110.9h0.9M338.5 112.2h0.9M335.2 106.2h0.9M343.0 112.4h0.9M337.9 104.8h0.9M338.7 117.8h0.9M333.3 106.7h0.9M344.9 108.5h0.9M340.8 107.5h0.9M340.4 109.5h0.9M339.0 118.7h0.9M339.6 110.2h0.9M338.4 112.9h0.9M336.0 112.6h0.9M340.8 119.9h0.9M332.9 116.2h0.9M338.7 117.6h0.9M336.0 108.9h0.9M339.7 108.4h0.9M342.9 111.5h0.9M336.3 116.5h0.9M334.7 118.2h0.9M342.3 112.3h0.9M344.1 111.5h0.9M338.0 117.4h0.9M331.9 108.3h0.9M340.3 114.5h0.9M339.6 113.9h0.9M332.6 110.5h0.9M339.3 110.3h0.9M338.5 114.8h0.9M334.1 108.5h0.9M341.5 110.4h0.9M342.3 109.5h0.9M338.8 112.1h0.9M337.3 115.8h0.9M333.6 114.7h0.9M335.3 106.2h0.9M340.6 114.2h0.9M335.1 105.5h0.9M340.9 110.7h0.9M335.7 110.0h0.9M337.0 107.6h0.9M338.5 116.6h0.9M331.8 110.3h0.9M344.5 115.5h0.9M334.7 107.2h0.9M343.1 111.9h0.9M335.2 103.9h0.9M336.6 108.8h0.9M338.7 117.2h0.9M341.0 110.5h0.9M340.7 109.2h0.9M337.8 106.4h0.9M334.4 103.6h0.9M340.3 114.3h0.9M338.9 115.6h0.9M340.5 112.1h0.9M334.5 114.6h0.9M343.2 114.9h0.9M343.5 109.0h0.9M334.1 118.1h0.9M335.7 112.8h0.9M337.4 111.6h0.9M337.1 108.6h0.9M334.4 105.5h0.9M340.6 120.2h0.9M337.2 115.4h0.9M340.7 104.9h0.9M335.8 109.6h0.9M343.5 112.1h0.9M337.7 107.2h0.9M338.6 111.7h0.9M341.3 118.9h0.9M341.3 111.6h0.9M337.6 120.0h0.9M339.0 111.4h0.9M340.6 110.9h0.9M335.5 117.1h0.9M336.3 116.6h0.9M334.9 112.1h0.9M339.9 112.3h0.9M339.2 113.5h0.9M333.5 105.6h0.9M337.7 106.6h0.9M335.4 111.7h0.9M343.2 108.5h0.9M340.6 112.5h0.9M336.7 106.5h0.9M337.6 107.7h0.9M342.9 115.5h0.9M340.6 119.4h0.9M338.4 113.9h0.9M335.3 105.5h0.9M340.0 114.2h0.9M336.4 110.2h0.9M336.1 108.5h0.9M338.0 117.2h0.9M331.4 109.7h0.9M345.0 113.2h0.9M338.8 115.9h0.9M334.0 105.1h0.9M339.2 116.0h0.9M336.5 107.9h0.9M339.9 114.7h0.9M339.2 107.0h0.9M335.5 119.4h0.9M343.7 114.0h0.9M339.4 112.4h0.9M335.7 111.2h0.9M335.4 112.4h0.9M341.9 115.9h0.9M334.2 110.8h0.9M337.1 105.0h0.9M338.5 109.0h0.9M342.0 113.8h0.9M334.9 111.9h0.9M336.7 108.2h0.9M336.2 117.1h0.9M336.5 102.5h0.9M335.0 115.7h0.9M336.7 109.8h0.9M332.3 113.6h0.9M338.0 113.0h0.9M341.5 115.9h0.9M335.5 108.4h0.9M344.7 115.3h0.9M338.8 105.8h0.9M341.9 114.3h0.9M341.6 112.9h0.9M338.5 108.6h0.9M339.5 112.8h0.9M340.9 117.2h0.9M339.5 108.7h0.9M341.6 119.7h0.9M334.7 113.7h0.9M340.5 114.3h0.9M340.3 111.0h0.9M337.8 120.4h0.9M335.4 108.8h0.9M331.5 113.4h0.9M338.0 108.7h0.9M336.5 115.0h0.9M338.0 117.6h0.9M340.6 111.3h0.9M340.5 107.7h0.9M341.5 119.4h0.9M336.7 114.4h0.9M341.9 106.1h0.9M345.5 112.1h0.9M341.9 110.1h0.9M337.8 116.6h0.9M335.4 115.1h0.9M336.7 113.3h0.9M333.0 115.6h0.9M343.7 105.6h0.9M337.2 102.5h0.9M339.5 107.7h0.9M335.9 107.1h0.9M339.4 109.1h0.9M334.4 110.3h0.9M339.9 107.0h0.9M339.9 109.5h0.9M344.8 108.1h0.9M335.4 104.5h0.9M333.7 109.7h0.9M334.2 119.5h0.9M339.1 116.3h0.9M338.2 114.0h0.9M337.7 112.6h0.9M339.1 107.8h0.9M339.7 112.4h0.9M338.0 107.9h0.9M334.0 112.8h0.9M336.0 118.6h0.9M342.0 107.8h0.9M343.9 106.3h0.9M336.4 110.4h0.9M333.3 110.8h0.9M336.7 108.3h0.9M335.5 115.4h0.9M344.6 109.4h0.9M343.8 113.1h0.9M332.0 115.0h0.9M336.5 112.5h0.9M339.2 106.6h0.9M339.4 120.3h0.9M339.2 107.9h0.9M334.4 113.6h0.9M339.3 115.9h0.9M334.9 119.2h0.9M340.3 117.8h0.9M331.8 111.5h0.9M343.7 111.5h0.9M339.0 108.2h0.9M342.8 107.8h0.9M338.4 112.6h0.9M336.0 110.4h0.9M333.0 114.9h0.9M338.0 115.8h0.9M333.7 114.6h0.9M336.3 112.0h0.9M342.1 111.7h0.9M336.7 102.7h0.9M338.5 115.6h0.9M335.5 111.1h0.9M339.9 118.3h0.9M336.9 102.7h0.9M336.6 103.2h0.9M339.5 110.7h0.9M342.6 109.5h0.9M339.6 112.6h0.9M340.1 103.7h0.9M341.2 116.2h0.9M334.4 119.4h0.9M338.3 115.1h0.9M340.5 116.2h0.9M335.5 108.4h0.9M339.8 114.7h0.9M340.6 113.3h0.9M336.2 117.4h0.9M340.2 117.1h0.9M335.4 112.1h0.9M336.2 109.9h0.9M339.0 113.3h0.9M334.9 114.4h0.9M334.6 113.8h0.9M336.6 106.5h0.9M337.8 111.2h0.9M342.3 104.4h0.9M334.5 117.5h0.9M342.0 108.9h0.9M334.9 113.4h0.9M332.2 108.8h0.9M340.7 115.6h0.9M332.7 107.1h0.9M334.0 109.8h0.9M339.1 113.9h0.9M341.9 112.3h0.9M333.2 112.3h0.9M335.1 116.9h0.9M343.7 108.2h0.9M334.4 112.2h0.9M333.7 116.3h0.9M338.9 107.4h0.9M335.3 115.4h0.9M334.8 110.4h0.9M341.7 118.5h0.9M341.0 112.0h0.9M340.1 114.6h0.9M341.3 113.0h0.9M337.5 102.9h0.9M335.6 112.9h0.9M336.8 113.1h0.9M343.2 105.0h0.9M339.6 111.9h0.9M338.8 112.3h0.9M336.6 104.1h0.9M340.1 113.6h0.9M340.7 118.2h0.9M334.3 113.7h0.9M338.1 115.4h0.9M337.5 108.3h0.9M339.3 114.3h0.9M334.0 118.6h0.9M343.1 113.9h0.9M337.7 110.2h0.9M334.0 108.8h0.9M342.5 106.5h0.9M336.0 116.1h0.9M342.9 108.0h0.9M339.9 114.1h0.9M333.3 117.0h0.9M339.4 105.2h0.9M332.7 115.6h0.9M331.9 107.8h0.9M335.4 108.4h0.9M335.8 114.5h0.9M344.8 111.0h0.9M335.2 119.8h0.9M337.7 118.9h0.9M334.8 111.8h0.9M339.8 110.5h0.9M344.7 107.6h0.9M342.5 118.9h0.9M334.3 108.6h0.9M337.6 120.2h0.9M336.6 118.8h0.9M336.0 123.3h0.9M338.8 117.2h0.9M335.9 117.3h0.9M335.7 114.1h0.9M339.5 124.2h0.9M335.9 117.7h0.9M334.7 117.8h0.9M332.3 123.8h0.9M338.4 113.4h0.9M334.6 121.4h0.9M336.3 118.3h0.9M335.8 119.6h0.9M340.5 120.6h0.9M336.2 118.5h0.9M334.1 117.5h0.9M340.1 122.1h0.9M337.0 120.2h0.9M332.6 122.2h0.9M335.2 113.4h0.9M337.0 123.4h0.9M337.0 118.8h0.9M337.9 126.2h0.9M335.3 123.5h0.9M339.8 118.7h0.9M336.9 117.4h0.9M338.4 119.2h0.9M340.2 117.3h0.9M342.0 119.5h0.9M333.4 116.7h0.9M338.6 116.9h0.9M338.1 114.2h0.9M336.2 117.5h0.9M339.1 127.2h0.9M333.0 119.4h0.9M337.2 123.3h0.9M332.4 122.0h0.9M335.9 125.6h0.9M330.9 118.3h0.9M334.6 119.5h0.9M338.8 118.0h0.9M339.2 125.9h0.9M339.6 120.0h0.9M333.5 119.8h0.9M338.6 121.6h0.9M338.3 123.8h0.9M333.3 116.5h0.9M341.2 118.7h0.9M333.5 116.5h0.9M339.6 115.6h0.9M333.3 126.0h0.9M336.7 121.3h0.9M334.1 119.9h0.9M334.6 120.9h0.9M338.9 114.9h0.9M341.4 120.6h0.9M336.3 120.7h0.9M339.7 122.5h0.9M339.2 120.2h0.9M335.9 120.7h0.9M338.6 121.3h0.9M333.3 120.6h0.9M339.7 120.0h0.9M335.9 119.3h0.9M340.6 126.1h0.9M336.1 123.7h0.9M333.0 126.3h0.9M341.0 120.7h0.9M335.2 118.7h0.9M335.7 115.0h0.9M336.2 123.7h0.9M337.4 123.3h0.9M331.1 116.4h0.9M338.5 125.8h0.9M332.4 118.2h0.9M332.7 124.1h0.9M337.5 121.2h0.9M334.1 122.6h0.9M336.4 117.4h0.9M337.4 117.8h0.9M339.5 124.0h0.9M334.0 123.8h0.9M336.5 117.6h0.9M332.5 122.7h0.9M340.4 118.0h0.9M336.8 122.7h0.9M339.0 123.1h0.9M340.5 124.7h0.9M333.7 122.9h0.9M336.4 123.8h0.9M335.3 125.0h0.9M340.8 117.0h0.9M334.5 122.3h0.9M338.0 121.7h0.9M339.1 115.3h0.9M338.9 126.6h0.9M340.1 123.0h0.9M335.5 122.9h0.9M336.0 113.4h0.9M334.2 120.8h0.9M334.5 116.5h0.9M335.5 119.2h0.9M336.5 120.8h0.9M336.9 125.8h0.9M336.8 123.0h0.9M334.9 124.3h0.9M335.1 118.0h0.9M332.1 125.3h0.9M334.5 122.2h0.9M340.1 123.6h0.9M339.6 124.3h0.9M334.1 121.2h0.9M334.4 116.1h0.9M337.3 117.3h0.9M334.4 121.4h0.9M334.5 121.3h0.9M334.2 114.2h0.9M341.5 123.1h0.9M336.8 118.8h0.9M335.8 122.4h0.9M331.6 117.2h0.9M333.3 127.0h0.9M332.7 126.6h0.9M336.0 121.2h0.9M340.9 125.2h0.9M339.5 115.9h0.9M336.0 118.7h0.9M332.6 125.9h0.9M337.3 121.0h0.9M339.3 120.9h0.9M341.3 116.4h0.9M339.3 116.2h0.9M341.1 119.7h0.9M340.5 119.0h0.9M337.7 126.5h0.9M333.2 121.5h0.9M333.4 125.1h0.9M334.2 119.2h0.9M335.6 126.6h0.9M332.8 120.9h0.9M335.2 118.4h0.9M333.6 120.2h0.9M337.0 113.6h0.9M337.1 115.3h0.9M333.0 120.7h0.9M335.4 125.7h0.9M330.8 121.9h0.9M337.2 126.1h0.9M334.5 124.2h0.9M332.7 127.2h0.9M336.1 117.7h0.9M336.9 129.4h0.9M333.4 115.0h0.9M332.8 115.5h0.9M336.1 122.7h0.9M335.7 121.9h0.9M340.3 119.6h0.9M337.1 117.7h0.9M335.5 123.0h0.9M337.9 113.5h0.9M333.0 121.4h0.9M335.8 126.5h0.9M333.0 122.9h0.9M337.1 123.6h0.9M338.1 117.6h0.9M334.3 122.4h0.9M336.8 116.4h0.9M333.1 122.8h0.9M334.1 118.9h0.9M339.7 121.6h0.9M335.9 121.5h0.9M332.3 126.9h0.9M333.7 127.3h0.9M334.7 118.8h0.9M341.4 121.9h0.9M334.1 118.4h0.9M338.4 119.1h0.9M332.5 117.8h0.9M335.9 122.2h0.9M334.1 127.1h0.9M333.0 117.6h0.9M338.0 123.3h0.9M335.0 125.6h0.9M336.5 127.4h0.9M335.6 121.9h0.9M335.6 129.2h0.9M339.4 122.6h0.9M337.0 127.7h0.9M333.1 119.6h0.9M336.8 118.9h0.9M335.9 129.0h0.9M339.5 123.9h0.9M336.4 121.3h0.9M337.5 122.2h0.9M333.8 124.7h0.9M333.5 120.8h0.9M335.1 115.5h0.9M338.4 120.7h0.9M332.3 120.6h0.9M334.4 124.4h0.9M333.0 116.9h0.9M336.0 123.0h0.9M339.4 119.7h0.9M340.0 125.6h0.9M333.3 120.1h0.9M334.4 125.2h0.9M339.4 119.8h0.9M334.6 122.6h0.9M333.7 114.9h0.9M333.0 122.6h0.9M337.0 129.4h0.9M332.4 126.5h0.9M338.7 121.6h0.9M341.3 119.2h0.9M334.5 116.0h0.9M334.1 121.6h0.9M338.6 127.1h0.9M335.4 117.5h0.9M335.2 119.0h0.9M334.7 119.1h0.9M333.4 120.8h0.9M334.6 120.2h0.9M331.6 121.7h0.9M338.2 124.1h0.9M334.4 115.6h0.9M331.9 115.4h0.9M334.1 119.5h0.9M331.1 117.7h0.9M333.9 124.9h0.9M335.4 119.1h0.9M335.6 120.2h0.9M335.9 117.2h0.9M337.5 118.5h0.9M338.2 115.9h0.9M334.7 115.5h0.9M337.8 118.5h0.9M338.8 118.4h0.9M339.3 121.7h0.9M337.5 121.7h0.9M335.1 119.3h0.9M337.8 124.4h0.9M340.0 120.7h0.9M337.1 117.3h0.9M336.0 117.6h0.9M331.9 118.9h0.9M337.5 119.0h0.9M335.1 115.9h0.9M337.1 115.8h0.9M335.2 128.8h0.9M337.6 117.8h0.9M335.1 116.5h0.9M336.7 124.3h0.9M339.4 119.7h0.9M332.3 120.6h0.9M341.9 122.3h0.9M334.8 123.6h0.9M333.1 127.4h0.9M334.4 116.9h0.9M334.4 120.6h0.9M339.6 118.3h0.9M330.3 120.6h0.9M338.1 128.3h0.9M338.6 123.2h0.9M333.7 116.9h0.9M333.1 125.4h0.9M337.0 126.0h0.9M342.4 121.1h0.9M331.9 118.9h0.9M335.1 119.2h0.9M336.8 117.1h0.9M340.2 114.6h0.9M331.6 123.8h0.9M338.4 120.1h0.9M339.1 123.9h0.9M334.4 120.8h0.9M334.8 122.8h0.9M338.1 126.7h0.9M337.7 126.1h0.9M332.7 119.8h0.9M336.6 122.3h0.9M336.8 114.8h0.9M334.0 120.2h0.9M336.9 117.0h0.9M335.9 117.6h0.9M331.9 117.9h0.9M333.6 125.0h0.9M340.8 123.7h0.9M335.6 118.4h0.9M331.1 118.6h0.9M337.1 119.9h0.9M336.3 123.0h0.9M336.3 123.0h0.9M333.7 121.2h0.9M335.1 126.1h0.9M332.2 127.1h0.9M336.0 118.7h0.9M336.4 121.6h0.9M335.5 123.0h0.9M334.4 113.1h0.9M338.6 120.9h0.9M341.9 122.8h0.9M334.0 123.6h0.9M332.6 120.6h0.9M330.9 124.2h0.9M338.2 116.2h0.9M337.8 125.4h0.9M339.0 117.9h0.9M334.0 115.8h0.9M332.0 122.5h0.9M336.4 127.1h0.9M337.2 119.5h0.9M336.9 120.9h0.9M332.9 116.1h0.9M338.4 116.5h0.9M338.3 124.0h0.9M335.0 113.5h0.9M337.7 127.6h0.9M333.5 115.1h0.9M339.9 121.7h0.9M334.2 126.8h0.9M335.4 123.1h0.9M335.0 117.5h0.9M337.0 117.0h0.9M340.4 126.2h0.9M341.7 122.2h0.9M334.8 123.2h0.9M333.1 124.5h0.9M334.8 122.2h0.9M333.5 120.4h0.9M339.6 120.0h0.9M334.1 122.4h0.9M339.2 120.2h0.9M331.8 126.0h0.9M336.0 123.3h0.9M339.9 122.4h0.9M337.9 118.7h0.9M330.9 124.0h0.9M336.0 123.7h0.9M332.7 120.4h0.9M336.6 127.1h0.9M335.5 121.6h0.9M334.8 127.0h0.9M336.0 119.3h0.9M337.8 119.9h0.9M334.6 128.2h0.9M339.6 121.6h0.9M339.0 124.9h0.9M338.2 121.3h0.9M336.5 122.9h0.9M338.2 122.7h0.9M334.5 120.7h0.9M337.8 116.5h0.9M336.3 124.6h0.9M336.9 119.7h0.9M336.2 118.8h0.9M339.6 119.3h0.9M337.3 122.0h0.9M334.7 115.0h0.9M335.8 117.2h0.9M334.1 121.1h0.9M333.7 122.5h0.9M333.8 118.9h0.9M335.5 127.8h0.9M341.5 125.4h0.9M333.8 121.1h0.9M339.3 124.8h0.9M330.9 120.8h0.9M333.8 124.5h0.9M338.4 118.6h0.9M334.5 118.9h0.9M341.2 120.9h0.9M337.9 115.3h0.9M337.5 124.3h0.9M334.6 118.9h0.9M331.1 122.8h0.9M340.4 125.0h0.9M339.4 124.3h0.9M333.2 115.1h0.9M338.4 121.8h0.9M339.6 119.8h0.9M333.4 123.1h0.9M334.4 113.6h0.9M334.3 117.1h0.9M332.6 118.6h0.9M342.1 119.2h0.9M340.1 120.7h0.9M337.6 118.0h0.9M336.1 113.4h0.9M338.2 118.4h0.9M337.2 115.7h0.9M335.1 125.3h0.9M339.1 115.1h0.9M337.2 123.4h0.9M334.2 119.6h0.9M335.5 122.9h0.9M339.3 127.3h0.9M335.4 124.6h0.9M335.9 121.5h0.9M333.2 122.8h0.9M336.2 121.1h0.9M338.7 120.1h0.9M336.3 122.1h0.9M340.6 125.4h0.9M332.8 118.2h0.9M336.4 124.9h0.9M339.5 120.1h0.9M341.6 122.0h0.9M338.2 114.1h0.9M338.7 125.9h0.9M336.0 125.8h0.9M338.2 128.0h0.9M331.0 117.3h0.9M333.1 116.3h0.9M333.5 119.3h0.9M339.2 119.0h0.9M338.8 123.6h0.9M333.2 115.4h0.9M341.7 117.8h0.9M332.7 122.8h0.9M336.5 116.8h0.9M339.9 125.2h0.9M337.2 117.6h0.9M337.6 122.9h0.9M333.2 121.2h0.9M330.6 123.9h0.9M334.9 118.8h0.9M338.4 120.5h0.9M339.6 123.4h0.9M340.2 121.6h0.9M337.1 114.7h0.9M336.5 125.1h0.9M332.9 121.3h0.9M333.8 116.5h0.9M334.2 126.9h0.9M338.6 120.9h0.9M336.0 121.6h0.9M337.3 121.9h0.9M338.6 115.6h0.9M335.8 120.6h0.9M334.3 123.5h0.9M335.4 119.8h0.9M333.1 119.8h0.9M332.8 121.2h0.9M340.7 125.7h0.9M337.7 114.8h0.9M339.7 125.3h0.9M336.4 119.5h0.9M339.9 116.1h0.9M336.4 127.3h0.9M334.2 123.8h0.9M336.6 114.4h0.9M334.2 126.2h0.9M340.3 118.3h0.9M340.1 117.8h0.9M337.1 120.9h0.9M332.1 122.5h0.9M333.5 117.2h0.9M333.5 116.6h0.9M339.3 121.4h0.9M337.2 119.8h0.9M336.5 119.8h0.9M332.7 114.1h0.9M336.5 125.7h0.9M337.1 128.4h0.9M331.7 119.8h0.9M334.2 126.7h0.9M342.0 118.6h0.9M338.7 119.9h0.9M333.0 120.5h0.9M338.3 126.5h0.9M339.0 121.4h0.9M332.9 124.6h0.9M337.4 120.2h0.9M335.4 123.5h0.9M338.2 124.0h0.9M334.9 115.0h0.9M340.7 127.0h0.9M334.4 120.9h0.9M337.2 117.8h0.9M347.5 112.8h0.9M338.1 112.4h0.9M337.9 101.9h0.9M330.4 106.8h0.9M341.6 113.9h0.9M342.9 98.5h0.9M333.9 128.2h0.9M332.9 103.0h0.9M333.2 114.6h0.9M336.9 126.1h0.9M343.8 125.8h0.9M340.0 111.2h0.9M334.5 105.4h0.9M343.5 123.6h0.9M337.5 109.0h0.9M340.5 118.7h0.9M337.8 106.8h0.9M338.2 111.3h0.9M340.8 119.4h0.9M339.3 112.0h0.9M344.8 119.5h0.9M343.5 120.4h0.9M340.4 118.0h0.9M331.5 103.7h0.9M332.2 122.3h0.9M341.7 116.0h0.9M337.5 130.0h0.9M335.0 102.9h0.9M329.1 116.0h0.9M340.6 120.6h0.9M335.9 122.7h0.9M336.8 110.5h0.9M335.1 122.4h0.9M341.9 105.8h0.9M332.0 118.5h0.9M347.8 103.6h0.9M330.6 121.2h0.9M339.6 110.5h0.9M336.9 119.8h0.9M328.1 118.6h0.9M340.1 122.2h0.9M342.9 113.6h0.9M329.6 128.7h0.9M340.9 109.9h0.9M342.3 122.3h0.9M336.3 98.1h0.9M334.6 110.9h0.9M332.7 116.7h0.9M331.5 120.7h0.9M346.6 103.8h0.9M342.3 110.2h0.9M339.8 114.1h0.9M343.5 108.5h0.9M340.7 108.9h0.9M338.2 115.5h0.9M342.5 102.1h0.9M330.1 128.9h0.9M339.0 128.5h0.9M331.8 119.3h0.9M340.1 128.6h0.9M336.7 112.6h0.9M340.6 114.1h0.9M333.2 123.1h0.9M327.3 111.2h0.9M343.9 110.0h0.9M335.4 119.4h0.9M342.7 118.3h0.9M332.1 113.2h0.9M342.3 113.4h0.9M333.8 123.7h0.9M342.8 130.9h0.9M331.5 112.3h0.9M333.5 119.8h0.9M334.6 125.4h0.9M323.3 127.7h0.9M333.7 114.9h0.9M339.9 116.7h0.9M331.9 129.2h0.9M339.9 111.3h0.9M338.1 107.1h0.9M330.8 115.7h0.9M338.9 116.2h0.9M333.1 106.6h0.9M328.5 131.0h0.9M338.9 109.2h0.9M343.0 118.3h0.9M334.9 111.9h0.9M342.8 116.7h0.9M345.3 116.2h0.9M334.0 112.3h0.9M333.4 119.1h0.9M338.3 120.3h0.9M339.3 107.2h0.9M336.0 109.1h0.9M339.4 105.1h0.9M334.1 110.3h0.9M333.9 115.0h0.9M344.7 111.6h0.9M329.7 116.0h0.9M340.8 119.1h0.9M338.2 131.0h0.9M342.6 114.9h0.9M343.2 103.7h0.9M336.1 109.6h0.9M337.9 128.2h0.9M334.5 129.1h0.9M331.8 128.6h0.9M328.4 112.2h0.9M342.1 113.7h0.9M337.7 115.7h0.9M337.9 114.3h0.9M332.1 115.3h0.9M337.6 108.9h0.9M339.4 128.8h0.9M328.7 114.4h0.9M335.6 116.6h0.9M337.5 110.3h0.9M336.8 116.1h0.9M336.6 128.0h0.9M337.7 104.4h0.9M329.1 123.1h0.9M335.3 111.8h0.9M330.2 115.8h0.9M336.5 110.9h0.9M335.2 123.4h0.9M341.0 119.0h0.9M336.1 105.8h0.9M340.9 126.3h0.9M343.4 122.9h0.9M338.4 118.5h0.9M336.9 125.7h0.9M335.6 133.0h0.9M340.9 112.3h0.9M337.0 103.6h0.9M333.3 114.9h0.9M349.4 105.8h0.9M341.6 115.1h0.9M335.5 121.3h0.9M326.9 126.5h0.9M346.8 115.2h0.9M336.7 117.3h0.9M340.3 111.2h0.9M337.6 119.7h0.9M335.2 119.6h0.9M338.7 121.0h0.9M332.0 113.4h0.9M334.8 125.9h0.9M338.3 102.9h0.9M330.6 133.0h0.9M338.7 105.5h0.9M332.4 118.5h0.9M344.2 126.2h0.9M335.2 114.3h0.9M346.7 105.4h0.9M344.9 116.1h0.9M337.5 125.8h0.9M339.4 108.8h0.9M329.3 118.6h0.9M339.6 125.7h0.9M323.8 130.5h0.9M340.1 126.7h0.9M341.0 116.4h0.9M339.2 118.4h0.9M333.8 116.1h0.9M337.6 112.3h0.9M329.6 107.2h0.9M339.5 119.2h0.9M337.5 106.8h0.9M341.3 111.6h0.9M326.5 131.4h0.9M329.5 135.8h0.9M339.7 111.8h0.9M325.1 114.3h0.9M344.5 124.1h0.9M338.3 102.4h0.9M335.1 114.4h0.9M339.3 114.3h0.9M338.7 102.9h0.9M333.8 128.2h0.9M329.7 125.4h0.9M348.7 117.4h0.9M330.0 127.8h0.9M327.6 121.6h0.9M334.9 126.2h0.9M343.0 115.6h0.9M346.0 120.7h0.9M334.6 109.2h0.9M349.4 109.0h0.9M339.1 114.4h0.9M334.6 104.3h0.9M336.3 115.3h0.9M342.0 110.5h0.9M329.1 110.2h0.9M336.8 118.0h0.9M340.7 111.9h0.9M339.7 116.3h0.9M345.5 112.9h0.9M337.7 120.1h0.9M343.2 106.9h0.9M334.6 114.6h0.9M326.2 129.5h0.9M342.4 114.5h0.9M354.0 120.5h0.9M347.2 124.9h0.9M341.6 103.6h0.9M344.7 116.8h0.9M331.0 118.3h0.9M340.8 122.4h0.9M337.9 111.7h0.9M340.9 108.9h0.9M336.6 122.0h0.9M329.7 121.2h0.9M327.1 111.9h0.9M330.8 117.3h0.9M340.6 114.5h0.9M341.6 115.3h0.9M336.0 120.1h0.9M335.8 117.4h0.9M342.3 109.9h0.9M342.8 105.6h0.9M335.9 102.9h0.9M334.3 129.2h0.9M338.8 125.3h0.9M329.6 110.5h0.9M339.4 121.7h0.9M341.2 101.7h0.9M339.6 114.6h0.9M337.6 119.5h0.9M335.6 103.3h0.9M331.6 106.5h0.9M330.3 117.1h0.9M343.6 108.4h0.9M333.1 108.3h0.9M328.3 119.3h0.9M334.5 114.9h0.9M332.1 121.3h0.9M330.9 122.2h0.9M333.7 123.2h0.9M332.5 120.9h0.9M339.2 114.7h0.9M345.3 114.8h0.9M332.5 122.8h0.9M332.8 113.1h0.9M337.1 117.4h0.9M345.6 99.7h0.9M335.7 125.2h0.9M336.2 118.7h0.9M344.7 104.0h0.9M337.2 122.1h0.9M334.0 103.3h0.9M331.9 119.1h0.9M338.0 130.0h0.9M343.7 101.9h0.9M342.3 121.4h0.9M345.2 112.2h0.9M334.2 118.0h0.9M344.8 118.4h0.9M345.6 119.4h0.9M334.0 109.1h0.9M346.4 101.3h0.9M302.6 141.0h0.9M298.8 139.4h0.9M304.6 139.7h0.9M305.8 148.9h0.9M299.4 140.5h0.9M293.1 147.4h0.9M311.0 141.3h0.9M302.3 141.1h0.9M296.7 147.8h0.9M300.9 138.5h0.9M308.5 143.7h0.9M301.0 141.5h0.9M311.8 138.4h0.9M308.0 147.2h0.9M290.8 148.3h0.9M307.3 146.7h0.9M308.3 146.3h0.9M301.5 148.7h0.9M305.4 136.4h0.9M298.1 144.0h0.9M307.3 129.1h0.9M290.9 149.6h0.9M294.5 141.4h0.9M300.9 146.5h0.9M296.7 144.9h0.9M306.2 146.9h0.9M304.5 142.9h0.9M303.2 136.3h0.9M309.9 145.1h0.9M299.1 141.2h0.9M305.1 148.4h0.9M303.8 148.9h0.9M308.1 131.9h0.9M300.3 130.2h0.9M303.0 140.4h0.9M309.0 144.1h0.9M309.1 135.2h0.9M300.3 145.1h0.9M316.6 141.8h0.9M303.8 144.7h0.9M310.3 142.4h0.9M307.0 140.3h0.9M301.2 138.0h0.9M309.5 139.5h0.9M308.8 145.6h0.9M311.7 126.1h0.9M298.4 135.3h0.9M303.9 148.1h0.9M314.3 145.4h0.9M302.4 146.4h0.9M290.1 148.9h0.9M305.1 146.9h0.9M298.0 136.1h0.9M300.6 142.7h0.9M307.4 140.8h0.9M307.4 147.3h0.9M297.1 142.4h0.9M294.4 139.5h0.9M311.2 138.5h0.9M317.7 146.2h0.9M311.1 143.7h0.9M310.9 149.9h0.9M305.7 139.7h0.9M303.7 140.1h0.9M300.2 132.4h0.9M301.6 145.1h0.9M301.7 138.2h0.9M307.8 145.9h0.9M302.0 144.9h0.9M298.3 148.4h0.9M298.3 140.9h0.9M305.9 140.4h0.9M315.4 132.0h0.9M305.8 135.0h0.9M307.1 134.8h0.9M309.0 146.4h0.9M301.9 149.0h0.9M301.9 142.3h0.9M301.6 131.9h0.9M309.1 130.1h0.9M303.4 146.3h0.9M305.8 133.0h0.9M300.6 147.3h0.9M292.6 145.9h0.9M301.7 147.8h0.9M293.5 142.1h0.9M309.8 138.9h0.9M302.5 136.8h0.9M312.6 134.6h0.9M298.8 140.9h0.9M306.9 137.7h0.9M309.0 145.2h0.9M306.9 142.6h0.9M308.2 135.6h0.9M296.8 140.3h0.9M297.4 147.4h0.9M308.1 145.1h0.9M300.3 134.8h0.9M308.8 133.6h0.9M307.1 142.1h0.9M310.1 143.3h0.9M305.7 139.3h0.9M293.2 140.8h0.9M309.8 149.6h0.9M314.4 136.7h0.9M298.6 147.4h0.9M307.2 133.4h0.9M292.5 144.0h0.9M301.9 136.5h0.9M293.3 138.5h0.9M287.5 140.0h0.9M319.9 143.6h0.9M303.2 135.7h0.9M307.3 140.0h0.9M308.0 137.4h0.9M315.1 142.7h0.9M308.4 143.9h0.9M313.1 146.9h0.9M302.6 147.5h0.9M302.3 143.8h0.9M316.2 136.3h0.9M297.9 140.5h0.9M315.8 140.2h0.9M306.3 140.7h0.9M309.6 147.2h0.9M310.1 147.9h0.9M318.2 141.9h0.9M309.8 141.8h0.9M305.3 144.4h0.9M304.6 145.2h0.9M299.2 142.0h0.9M300.9 135.6h0.9M300.2 139.8h0.9M304.0 133.1h0.9M303.2 135.8h0.9M299.4 144.2h0.9M312.6 144.8h0.9M301.7 140.2h0.9M314.2 132.7h0.9M312.8 133.5h0.9M300.7 143.3h0.9M308.4 142.7h0.9M311.5 143.2h0.9M302.1 147.9h0.9M293.9 136.5h0.9M313.1 146.1h0.9M302.9 124.4h0.9M308.0 141.8h0.9M287.9 139.5h0.9M305.0 144.5h0.9M310.2 141.3h0.9M298.9 140.7h0.9M290.6 135.9h0.9M318.5 138.6h0.9M312.2 143.8h0.9M310.0 141.3h0.9M298.8 149.4h0.9M303.2 140.6h0.9M307.4 141.8h0.9M302.9 137.3h0.9M306.7 145.1h0.9M317.6 142.8h0.9M293.0 146.0h0.9M320.7 140.2h0.9M299.5 141.9h0.9M303.7 133.4h0.9M309.0 137.4h0.9M292.3 138.4h0.9M313.6 144.2h0.9M301.5 141.3h0.9M311.6 139.7h0.9M307.9 149.1h0.9M298.8 139.3h0.9M308.1 143.1h0.9M304.1 139.6h0.9M314.3 132.7h0.9M305.3 143.6h0.9M305.3 134.2h0.9M304.1 143.9h0.9M300.3 145.0h0.9M288.3 133.4h0.9M305.7 145.5h0.9M303.9 140.1h0.9M306.3 149.9h0.9M311.2 142.5h0.9M301.8 149.8h0.9M308.7 148.6h0.9M303.1 137.5h0.9M306.3 139.0h0.9M312.9 148.4h0.9M290.0 147.2h0.9M314.2 149.6h0.9M301.7 137.5h0.9M311.7 149.5h0.9M305.4 135.7h0.9M294.5 144.7h0.9M299.3 138.7h0.9M308.1 149.7h0.9M290.8 138.7h0.9M313.9 142.7h0.9M302.6 147.1h0.9M297.2 135.2h0.9M312.0 143.0h0.9M312.0 140.4h0.9M296.9 132.3h0.9M306.9 148.7h0.9M307.6 142.8h0.9M302.2 149.9h0.9M304.7 133.8h0.9M314.4 138.9h0.9M307.7 143.0h0.9M312.2 144.6h0.9M313.4 144.3h0.9M301.8 139.8h0.9M309.5 137.7h0.9M311.4 141.5h0.9M298.6 137.4h0.9M310.3 143.1h0.9M303.1 143.0h0.9M306.2 140.1h0.9M306.3 136.6h0.9M297.8 142.0h0.9M318.7 135.9h0.9M304.0 133.0h0.9M306.2 144.4h0.9M310.1 134.5h0.9M300.9 138.9h0.9M303.6 142.7h0.9M301.5 148.1h0.9M315.5 136.2h0.9M312.3 143.2h0.9M313.6 149.7h0.9M309.5 132.3h0.9M305.9 139.8h0.9M308.1 143.2h0.9M312.2 132.8h0.9M299.9 142.5h0.9M307.2 140.4h0.9M304.8 143.4h0.9M312.2 142.3h0.9M306.7 131.4h0.9M307.5 128.3h0.9M307.8 142.4h0.9M305.0 138.3h0.9M302.1 148.3h0.9M307.5 142.8h0.9M301.6 144.4h0.9M313.2 142.9h0.9M302.5 135.5h0.9M305.7 137.1h0.9M295.1 148.6h0.9M300.7 130.0h0.9M304.3 134.5h0.9M297.4 147.6h0.9M307.8 144.4h0.9M303.7 146.1h0.9M315.6 146.1h0.9M303.9 134.1h0.9M309.5 135.0h0.9M300.6 146.2h0.9M294.0 131.8h0.9M307.6 147.5h0.9M302.6 142.9h0.9M289.8 144.6h0.9M296.2 138.7h0.9M294.4 137.2h0.9M304.8 143.2h0.9M317.3 141.6h0.9M307.4 145.3h0.9M306.0 144.0h0.9M304.2 143.0h0.9M304.6 149.4h0.9M305.1 143.4h0.9M304.7 147.8h0.9M301.7 149.0h0.9M301.1 147.4h0.9M318.2 144.5h0.9M304.4 135.4h0.9M310.1 143.1h0.9M311.3 138.8h0.9M307.8 140.9h0.9M296.0 142.9h0.9M309.5 146.8h0.9M297.3 136.4h0.9M298.3 136.5h0.9M303.1 144.7h0.9M318.3 144.3h0.9M315.0 132.4h0.9M315.6 148.1h0.9M308.0 148.3h0.9M310.6 131.8h0.9M302.6 138.8h0.9M302.6 145.0h0.9M306.3 139.0h0.9M308.7 147.0h0.9M298.7 135.9h0.9M291.4 141.0h0.9M305.1 138.5h0.9M300.8 142.1h0.9M305.2 146.7h0.9M310.8 145.8h0.9M312.7 136.8h0.9M309.2 145.4h0.9M297.8 138.7h0.9M308.1 143.5h0.9M296.3 139.5h0.9M315.5 148.4h0.9M298.7 141.9h0.9M311.6 140.8h0.9M297.3 146.8h0.9M316.1 126.7h0.9M306.1 135.0h0.9M302.9 133.9h0.9M323.0 138.6h0.9M305.3 138.5h0.9M298.2 140.1h0.9M297.6 143.5h0.9M302.0 132.9h0.9M330.8 141.4h0.9M306.7 138.2h0.9M301.0 136.4h0.9M312.1 140.4h0.9M304.0 144.2h0.9M296.5 144.5h0.9M303.8 145.9h0.9M302.3 143.2h0.9M308.6 149.2h0.9M300.2 149.2h0.9M298.2 141.8h0.9M305.9 143.9h0.9M287.7 136.7h0.9M303.7 148.9h0.9M292.5 143.5h0.9M308.7 143.1h0.9M306.8 149.0h0.9M299.4 146.8h0.9M312.4 141.5h0.9M289.0 135.4h0.9M299.1 136.2h0.9M308.0 137.8h0.9M322.2 146.7h0.9M296.0 141.2h0.9M315.6 147.4h0.9M298.0 149.6h0.9M301.2 146.8h0.9M308.9 140.1h0.9M308.4 142.6h0.9M311.4 146.1h0.9M307.3 133.0h0.9M305.9 139.9h0.9M310.1 139.1h0.9M308.1 136.2h0.9M311.2 138.3h0.9M304.8 146.7h0.9M302.8 143.0h0.9M292.5 137.2h0.9M309.7 149.0h0.9M301.7 143.6h0.9M303.6 135.4h0.9M294.3 134.8h0.9M314.0 140.5h0.9M318.5 147.1h0.9M307.6 147.1h0.9M310.5 148.9h0.9M298.2 139.4h0.9M301.2 143.7h0.9M303.3 135.1h0.9M319.7 137.5h0.9M307.6 142.8h0.9M299.1 147.6h0.9M308.2 141.0h0.9M310.9 138.4h0.9M311.1 147.4h0.9M292.8 141.7h0.9M307.2 147.8h0.9M306.1 142.9h0.9M302.6 141.1h0.9M305.0 136.2h0.9M309.4 140.9h0.9M308.6 139.7h0.9M307.8 143.8h0.9M311.2 146.0h0.9M311.5 141.9h0.9M304.6 141.3h0.9M296.3 142.2h0.9M312.5 147.9h0.9M299.1 144.9h0.9M310.2 134.3h0.9M307.4 145.1h0.9M310.2 144.6h0.9M293.0 130.1h0.9M318.7 140.5h0.9M305.6 135.7h0.9M314.5 142.8h0.9M308.6 146.1h0.9M311.6 149.5h0.9M295.2 134.0h0.9M306.0 143.1h0.9M310.4 142.1h0.9M312.2 138.0h0.9M304.4 142.6h0.9M297.4 137.4h0.9M306.1 135.2h0.9M308.7 146.0h0.9M303.4 140.8h0.9M309.2 146.1h0.9M307.5 135.2h0.9M300.5 140.7h0.9M292.4 137.9h0.9M299.9 148.1h0.9M302.1 139.9h0.9M299.6 140.2h0.9M294.1 144.7h0.9M313.3 144.0h0.9M308.4 136.4h0.9M301.0 139.1h0.9M300.1 142.1h0.9M305.8 135.4h0.9M301.7 146.9h0.9M312.8 131.0h0.9M309.9 141.1h0.9M313.9 147.0h0.9M318.6 145.0h0.9M302.3 137.7h0.9M295.1 146.5h0.9M308.6 148.2h0.9M307.4 133.4h0.9M302.2 141.4h0.9M306.1 147.9h0.9M314.8 144.8h0.9M290.7 136.5h0.9M290.2 138.1h0.9M296.7 144.5h0.9M312.5 140.1h0.9M311.5 143.1h0.9M297.1 142.6h0.9M315.6 138.1h0.9M306.5 143.8h0.9M302.1 134.7h0.9M300.3 136.7h0.9M312.5 144.6h0.9M309.9 135.4h0.9M308.5 143.9h0.9M312.3 138.4h0.9M317.5 137.1h0.9M297.2 133.7h0.9M311.7 146.8h0.9M307.4 137.5h0.9M304.8 142.2h0.9M313.2 146.2h0.9M314.3 140.4h0.9M307.4 140.8h0.9M301.1 141.1h0.9M303.0 146.2h0.9M302.9 143.5h0.9M299.4 135.2h0.9M314.9 136.7h0.9M317.6 149.0h0.9M289.2 138.9h0.9M302.1 143.1h0.9M303.8 139.2h0.9M313.7 142.2h0.9M311.7 138.6h0.9M303.1 136.0h0.9M303.8 149.7h0.9M303.9 138.4h0.9M309.4 149.3h0.9M303.6 141.0h0.9M304.0 145.6h0.9M290.9 144.1h0.9M305.4 141.0h0.9M302.2 134.3h0.9M294.7 144.1h0.9M300.6 142.4h0.9M303.8 139.8h0.9M297.4 139.8h0.9M303.0 135.7h0.9M298.4 148.5h0.9M311.5 143.8h0.9M327.4 148.3h0.9M313.5 137.8h0.9M299.4 135.8h0.9M304.7 137.9h0.9M309.4 136.0h0.9M305.6 130.6h0.9M304.8 149.7h0.9M303.2 145.0h0.9M312.6 136.0h0.9M296.2 143.5h0.9M306.9 141.3h0.9M297.0 141.4h0.9M304.7 147.6h0.9M301.9 137.8h0.9M318.9 137.6h0.9M310.5 142.0h0.9M301.7 142.7h0.9M303.3 145.0h0.9M305.5 136.8h0.9M317.8 147.1h0.9M306.6 141.1h0.9M314.6 140.2h0.9M299.4 147.4h0.9M298.3 138.0h0.9M315.0 132.8h0.9M304.6 143.8h0.9M306.8 133.8h0.9M303.5 140.9h0.9M318.3 149.4h0.9M299.8 148.6h0.9M309.5 142.3h0.9M303.4 141.3h0.9M294.4 139.0h0.9M317.8 140.6h0.9M309.3 127.7h0.9M303.2 135.0h0.9M310.7 132.5h0.9M297.8 136.0h0.9M307.8 148.3h0.9M306.1 137.7h0.9M307.4 142.9h0.9M310.8 145.2h0.9M300.6 148.0h0.9M310.3 136.7h0.9M299.9 137.9h0.9M288.0 147.0h0.9M301.2 143.5h0.9M310.0 149.1h0.9M307.2 136.4h0.9M320.3 148.5h0.9M314.7 145.6h0.9M308.3 147.0h0.9M294.7 148.2h0.9M298.3 145.7h0.9M298.1 147.5h0.9M306.4 146.2h0.9M298.8 141.2h0.9M304.6 141.2h0.9M302.0 137.5h0.9M310.3 140.6h0.9M299.4 145.3h0.9M299.4 141.9h0.9M301.5 137.1h0.9M303.5 137.8h0.9M296.4 145.2h0.9M303.0 133.7h0.9M302.3 144.2h0.9M308.0 145.4h0.9M306.8 146.8h0.9M301.6 137.9h0.9M309.3 140.4h0.9M305.1 147.1h0.9M300.3 140.7h0.9M308.9 133.9h0.9M296.4 146.9h0.9M300.8 137.2h0.9M310.6 146.4h0.9M311.4 140.9h0.9M303.1 140.9h0.9M307.1 130.2h0.9M300.3 147.5h0.9M299.7 142.6h0.9M305.9 146.3h0.9M301.8 135.8h0.9M322.3 138.5h0.9M316.8 131.9h0.9M305.8 141.8h0.9M311.8 136.6h0.9M299.5 138.2h0.9M301.5 144.7h0.9M299.6 141.4h0.9M292.2 137.0h0.9M299.2 141.0h0.9M312.1 146.6h0.9M292.2 141.3h0.9M306.3 147.0h0.9M307.8 143.5h0.9M302.9 135.6h0.9M311.0 147.8h0.9M311.5 140.6h0.9M298.2 140.6h0.9M302.9 142.9h0.9M311.8 137.3h0.9M301.7 147.4h0.9M308.7 137.7h0.9M297.9 138.0h0.9M305.6 144.6h0.9M304.6 139.1h0.9M303.8 142.5h0.9M309.2 143.5h0.9M299.5 135.6h0.9M315.3 142.5h0.9M303.9 142.9h0.9M312.8 141.0h0.9M306.3 141.5h0.9M309.1 136.6h0.9M306.5 149.5h0.9M313.2 146.9h0.9M296.8 136.1h0.9M310.6 141.3h0.9M302.1 137.0h0.9M315.3 135.5h0.9M305.8 134.2h0.9M321.8 139.9h0.9M299.2 131.8h0.9M307.5 136.2h0.9M300.1 136.3h0.9M306.2 141.8h0.9M312.8 143.6h0.9M305.6 146.4h0.9M305.2 133.2h0.9M297.0 147.7h0.9M288.9 137.8h0.9M296.3 142.6h0.9M298.0 144.6h0.9M303.7 140.1h0.9M299.3 129.0h0.9M305.6 134.9h0.9M303.1 145.3h0.9M312.3 147.4h0.9M315.2 134.1h0.9M307.8 136.0h0.9M307.8 139.8h0.9M300.7 149.7h0.9M303.9 136.0h0.9M299.3 147.3h0.9M303.2 137.1h0.9M300.7 136.5h0.9M322.9 144.2h0.9M309.6 141.9h0.9M309.4 144.7h0.9M303.0 142.8h0.9M307.7 147.9h0.9M311.3 139.0h0.9M311.4 148.1h0.9M303.2 140.8h0.9M299.3 141.3h0.9M304.7 134.0h0.9M313.1 138.2h0.9M306.8 146.8h0.9M301.3 131.6h0.9M311.7 145.6h0.9M311.2 137.0h0.9M304.6 131.9h0.9M299.4 148.2h0.9M294.8 141.2h0.9M308.2 147.8h0.9M316.9 127.7h0.9M322.0 146.8h0.9M305.6 144.7h0.9M305.3 139.2h0.9M305.0 142.2h0.9M309.7 147.3h0.9M311.8 146.7h0.9M307.4 139.7h0.9M317.9 136.2h0.9M297.1 139.8h0.9M308.0 148.0h0.9M305.9 147.2h0.9M300.3 139.2h0.9M306.0 134.6h0.9M306.4 140.5h0.9M309.8 136.7h0.9M301.5 139.5h0.9M302.6 136.7h0.9M303.3 134.5h0.9M308.8 147.2h0.9M305.0 141.8h0.9M299.1 137.0h0.9M303.6 137.3h0.9M297.1 144.1h0.9M305.0 140.5h0.9M299.6 142.7h0.9M300.4 140.3h0.9M306.4 147.5h0.9M310.3 139.2h0.9M313.3 135.8h0.9M321.2 143.8h0.9M302.7 140.7h0.9M296.9 142.1h0.9M302.2 138.3h0.9M313.2 138.1h0.9M316.6 148.3h0.9M309.5 139.3h0.9M301.7 130.5h0.9M307.0 141.3h0.9M307.7 138.8h0.9M308.4 133.6h0.9M290.3 146.0h0.9M312.4 123.3h0.9M313.8 140.8h0.9M304.0 133.4h0.9M298.3 147.5h0.9M300.1 142.8h0.9M311.1 134.7h0.9M301.9 135.8h0.9M295.7 138.7h0.9M312.6 143.3h0.9M309.7 142.2h0.9M302.2 143.5h0.9M317.3 145.4h0.9M309.2 130.5h0.9M299.7 148.1h0.9M313.4 140.5h0.9M303.6 140.1h0.9M310.5 143.2h0.9M303.0 139.2h0.9M303.5 137.5h0.9M302.3 142.6h0.9M311.1 133.1h0.9M295.6 138.2h0.9M303.0 145.9h0.9M301.5 141.7h0.9M307.1 143.2h0.9M301.4 144.1h0.9M307.8 140.8h0.9M304.9 131.4h0.9M314.7 142.6h0.9M302.3 149.3h0.9M312.9 136.3h0.9M303.6 135.4h0.9M307.0 140.5h0.9M295.0 136.4h0.9M306.7 133.4h0.9M312.4 145.8h0.9M298.8 147.3h0.9M295.9 141.0h0.9M309.4 139.6h0.9M304.3 147.1h0.9M308.2 141.4h0.9M317.7 129.4h0.9M310.9 142.7h0.9M309.8 145.0h0.9M303.8 143.0h0.9M303.3 139.6h0.9M309.5 147.1h0.9M308.0 144.8h0.9M306.5 141.7h0.9M309.5 131.2h0.9M301.6 138.5h0.9M306.2 140.6h0.9M321.7 147.7h0.9M305.1 141.0h0.9M313.4 148.2h0.9M302.6 138.8h0.9M300.2 143.7h0.9M311.8 136.4h0.9M301.5 134.6h0.9M318.5 148.1h0.9M306.5 135.3h0.9M298.1 138.9h0.9M305.3 135.0h0.9M305.2 143.6h0.9M291.0 141.3h0.9M304.1 138.6h0.9M295.7 142.6h0.9M298.2 139.5h0.9M294.3 142.4h0.9M311.2 137.7h0.9M307.2 133.4h0.9M309.0 146.4h0.9M302.5 148.6h0.9M299.2 143.3h0.9M316.4 142.9h0.9M308.7 141.3h0.9M292.8 131.1h0.9M307.0 137.6h0.9M299.4 146.1h0.9M294.0 145.4h0.9M317.3 134.1h0.9M305.4 139.0h0.9M304.4 143.6h0.9M306.9 148.6h0.9M308.5 149.6h0.9M311.9 150.0h0.9M300.5 145.6h0.9M302.6 137.7h0.9M318.2 144.9h0.9M305.4 129.7h0.9M303.5 147.9h0.9M303.7 139.5h0.9M315.0 141.0h0.9M302.8 142.4h0.9M303.5 149.7h0.9M308.9 142.6h0.9M302.6 141.6h0.9M316.4 141.1h0.9M309.5 133.0h0.9M307.2 147.4h0.9M313.6 145.0h0.9M308.9 145.0h0.9M306.4 137.8h0.9M309.1 142.3h0.9M309.4 147.9h0.9M306.1 140.2h0.9M307.1 135.1h0.9M306.9 137.4h0.9M308.1 143.8h0.9M303.6 135.4h0.9M305.4 138.7h0.9M304.1 147.4h0.9M311.5 134.8h0.9M312.6 144.8h0.9M302.9 133.3h0.9M305.7 144.8h0.9M298.1 135.3h0.9M318.3 143.7h0.9M310.3 139.3h0.9M294.9 141.9h0.9M314.1 138.8h0.9M293.1 141.9h0.9M303.2 143.1h0.9M298.1 141.0h0.9M301.4 148.6h0.9M306.1 148.5h0.9M304.7 129.5h0.9M292.0 146.4h0.9M310.9 148.6h0.9M304.6 131.7h0.9M301.8 145.6h0.9M314.3 140.8h0.9M301.3 138.1h0.9M311.9 148.5h0.9M298.9 133.7h0.9M294.4 138.4h0.9M296.7 138.7h0.9M306.1 145.6h0.9M301.9 132.9h0.9M302.3 138.7h0.9M293.1 143.9h0.9M295.3 132.0h0.9M315.2 149.0h0.9M314.8 143.8h0.9M302.3 142.5h0.9M295.9 147.7h0.9M306.9 141.1h0.9M292.6 142.3h0.9M310.9 140.8h0.9M306.0 146.5h0.9M306.4 149.6h0.9M300.6 128.3h0.9M288.8 137.2h0.9M295.8 147.2h0.9M312.3 143.0h0.9M308.7 143.5h0.9M306.2 140.0h0.9M303.3 142.7h0.9M313.1 149.2h0.9M302.5 144.6h0.9M296.7 141.6h0.9M297.4 140.5h0.9M321.0 123.5h0.9M294.0 135.9h0.9M324.5 108.0h0.9M297.6 135.7h0.9M305.1 129.3h0.9M313.5 128.6h0.9M311.4 117.7h0.9M312.8 126.2h0.9M300.7 134.2h0.9M303.3 139.1h0.9M328.8 122.1h0.9M309.5 133.9h0.9M321.1 114.0h0.9M310.2 127.3h0.9M314.8 112.8h0.9M305.0 139.2h0.9M313.2 121.3h0.9M316.9 124.5h0.9M328.5 116.9h0.9M304.2 131.3h0.9M302.6 138.6h0.9M304.4 132.7h0.9M313.2 113.1h0.9M322.4 111.4h0.9M298.8 132.0h0.9M328.4 120.3h0.9M300.4 134.2h0.9M331.1 114.3h0.9M331.5 113.4h0.9M315.9 133.7h0.9M311.4 116.1h0.9M312.8 117.9h0.9M297.5 137.0h0.9M305.6 134.7h0.9M297.7 137.2h0.9M314.9 127.7h0.9M316.1 123.1h0.9M312.9 118.6h0.9M313.1 129.4h0.9M303.6 140.1h0.9M311.0 123.6h0.9M314.6 119.6h0.9M324.6 120.5h0.9M289.9 140.0h0.9M330.2 113.0h0.9M317.5 132.2h0.9M316.7 135.4h0.9M298.4 144.2h0.9M329.4 117.1h0.9M314.4 129.3h0.9M295.9 143.8h0.9M328.1 122.4h0.9M332.3 115.5h0.9M293.1 139.1h0.9M299.3 145.0h0.9M316.2 128.0h0.9M304.6 134.5h0.9M323.5 124.4h0.9M301.5 137.9h0.9M310.1 120.3h0.9M315.5 119.1h0.9M317.9 122.1h0.9M315.9 133.7h0.9M312.7 122.5h0.9M319.8 111.8h0.9M327.7 110.4h0.9M299.9 136.5h0.9M331.3 113.0h0.9M318.9 110.2h0.9M314.4 126.5h0.9M316.3 121.5h0.9M312.5 129.3h0.9M316.9 111.6h0.9M316.1 120.9h0.9M303.4 135.5h0.9M321.0 124.5h0.9M309.5 134.8h0.9M312.0 134.1h0.9M314.4 128.9h0.9M329.0 126.6h0.9M308.2 133.5h0.9M307.8 125.5h0.9M291.5 132.6h0.9M309.4 127.9h0.9M296.2 140.2h0.9M309.2 125.1h0.9M313.2 126.4h0.9M327.2 113.7h0.9M309.8 122.6h0.9M314.4 108.9h0.9M319.0 121.0h0.9M316.5 128.8h0.9M328.5 117.7h0.9M298.9 128.5h0.9M290.6 136.9h0.9M314.2 127.0h0.9M313.0 126.0h0.9M319.7 121.0h0.9M312.6 124.1h0.9M298.5 137.1h0.9M305.8 135.2h0.9M317.4 121.6h0.9M305.4 129.0h0.9M321.6 111.6h0.9M296.0 143.8h0.9M318.4 128.2h0.9M296.7 129.9h0.9M311.6 119.6h0.9M294.5 133.0h0.9M323.6 118.5h0.9M323.1 125.1h0.9M297.6 135.0h0.9M304.7 128.3h0.9M299.9 127.5h0.9M302.3 139.0h0.9M320.4 125.7h0.9M299.6 139.7h0.9M307.6 135.8h0.9M324.4 117.5h0.9M297.6 139.6h0.9M303.5 134.9h0.9M331.1 114.1h0.9M320.2 128.3h0.9M325.3 115.2h0.9M306.6 131.2h0.9M325.7 123.0h0.9M295.0 130.5h0.9M313.4 131.8h0.9M323.5 110.8h0.9M310.5 119.3h0.9M309.7 147.0h0.9M304.6 130.4h0.9M323.8 120.5h0.9M318.1 120.8h0.9M328.9 117.6h0.9M322.8 111.8h0.9M320.7 114.2h0.9M290.6 139.0h0.9M299.3 139.8h0.9M329.5 116.2h0.9M316.6 113.0h0.9M318.5 132.4h0.9M313.0 121.1h0.9M315.0 119.3h0.9M309.8 119.3h0.9M306.5 126.5h0.9M308.9 129.9h0.9M325.9 110.7h0.9M300.0 133.6h0.9M302.1 134.2h0.9M325.6 106.2h0.9M316.9 121.6h0.9M328.1 112.2h0.9M296.0 134.4h0.9M301.1 130.9h0.9M316.8 104.7h0.9M327.9 124.1h0.9M301.9 126.4h0.9M316.3 127.9h0.9M308.0 124.7h0.9M319.6 123.2h0.9M300.0 136.2h0.9M320.8 114.0h0.9M312.3 129.6h0.9M320.6 117.0h0.9M305.4 132.5h0.9M309.2 127.8h0.9M328.3 108.1h0.9M312.9 131.4h0.9M318.6 121.2h0.9M302.0 144.1h0.9M308.8 125.6h0.9M305.6 135.3h0.9M315.9 130.8h0.9M304.8 139.7h0.9M306.1 122.3h0.9M316.4 132.1h0.9M306.0 122.0h0.9M313.1 125.4h0.9M322.2 111.4h0.9M329.4 112.3h0.9M291.6 136.1h0.9M314.6 122.8h0.9M320.6 121.6h0.9M299.3 141.5h0.9M314.8 125.1h0.9M299.3 137.6h0.9M304.9 128.3h0.9M289.4 135.0h0.9M306.4 138.7h0.9M303.9 134.8h0.9M298.7 136.7h0.9M291.7 145.9h0.9M324.3 109.2h0.9M306.4 124.3h0.9M303.3 132.8h0.9M298.4 136.4h0.9M322.9 119.4h0.9M309.0 134.1h0.9M322.4 124.7h0.9M296.5 128.6h0.9M295.5 137.3h0.9M314.1 120.0h0.9M300.9 138.2h0.9M329.8 110.5h0.9M304.4 130.6h0.9M311.8 127.4h0.9M310.9 138.8h0.9M303.0 132.3h0.9M308.2 121.3h0.9M317.9 117.3h0.9M301.7 132.6h0.9M323.9 109.9h0.9M312.2 133.6h0.9M321.4 121.4h0.9M308.2 123.8h0.9M318.3 128.2h0.9M298.8 130.1h0.9M312.6 121.2h0.9M321.1 124.6h0.9M311.6 125.4h0.9M318.2 119.8h0.9M314.7 114.9h0.9M310.7 113.0h0.9M295.3 141.1h0.9M315.6 124.6h0.9M302.2 142.0h0.9M308.8 128.3h0.9M311.9 128.5h0.9M299.8 142.6h0.9M297.4 136.3h0.9M321.7 117.8h0.9M299.3 137.7h0.9M316.0 117.4h0.9M328.3 123.2h0.9M331.8 110.6h0.9M299.3 127.9h0.9M307.1 131.4h0.9M308.8 143.6h0.9M296.8 142.8h0.9M315.0 123.0h0.9M303.6 142.3h0.9M312.4 128.4h0.9M298.1 137.6h0.9M316.8 117.2h0.9M308.8 124.5h0.9M323.7 121.5h0.9M304.1 122.7h0.9M323.5 124.1h0.9M320.2 122.3h0.9M294.9 137.6h0.9M308.0 126.3h0.9M315.6 122.3h0.9M300.9 122.7h0.9M323.0 117.8h0.9M313.5 116.0h0.9M323.4 112.6h0.9M329.8 127.2h0.9M318.8 124.4h0.9M311.5 134.4h0.9M298.0 133.3h0.9M321.6 125.5h0.9M307.2 116.1h0.9M323.3 110.7h0.9M297.7 146.0h0.9M295.9 133.3h0.9M311.6 121.3h0.9M313.1 122.6h0.9M332.7 111.3h0.9M298.8 137.1h0.9M297.0 134.2h0.9M317.9 117.6h0.9M331.4 116.3h0.9M328.2 109.1h0.9M328.5 115.6h0.9M292.2 143.4h0.9M309.5 135.3h0.9M297.3 136.7h0.9M320.9 132.5h0.9M293.6 131.9h0.9M297.0 130.3h0.9M317.0 129.2h0.9M319.0 115.7h0.9M306.9 130.2h0.9M305.0 127.1h0.9M302.6 145.9h0.9M308.1 133.5h0.9M304.9 143.2h0.9M320.7 124.4h0.9M294.9 143.5h0.9M309.4 120.1h0.9M325.6 113.4h0.9M298.1 134.2h0.9M325.4 117.2h0.9M321.6 117.6h0.9M317.4 127.6h0.9M306.1 121.7h0.9M319.6 127.0h0.9M326.4 120.3h0.9M315.8 124.0h0.9M311.2 123.5h0.9M327.5 122.0h0.9M305.4 123.8h0.9M313.2 136.1h0.9M309.8 118.6h0.9M325.6 123.0h0.9M319.7 129.8h0.9M311.4 130.0h0.9M332.7 108.9h0.9M300.4 132.1h0.9M311.5 124.4h0.9M299.2 134.0h0.9M300.1 137.1h0.9M309.6 121.7h0.9M313.3 117.1h0.9M297.2 138.7h0.9M301.7 133.7h0.9M308.7 129.7h0.9M329.1 106.0h0.9M313.9 123.7h0.9M318.6 124.6h0.9M313.0 124.5h0.9M320.3 110.9h0.9M304.3 132.9h0.9M310.5 124.2h0.9M323.9 117.7h0.9M328.3 124.1h0.9M308.1 130.3h0.9M307.4 127.9h0.9M293.0 149.7h0.9M318.8 125.6h0.9M307.3 125.2h0.9M302.7 130.7h0.9M308.7 122.9h0.9M293.0 143.8h0.9M297.5 138.1h0.9M310.8 139.8h0.9M299.0 137.1h0.9M307.8 124.2h0.9M318.3 120.8h0.9M300.1 148.2h0.9M314.3 119.5h0.9M303.0 125.6h0.9M326.7 120.1h0.9M321.8 118.9h0.9M325.7 124.1h0.9M304.1 127.5h0.9M300.0 143.1h0.9M322.2 118.8h0.9M298.5 134.7h0.9M312.6 121.7h0.9M297.2 147.4h0.9M316.4 121.9h0.9M312.4 126.1h0.9M306.2 129.2h0.9M326.8 122.7h0.9M299.6 136.7h0.9M307.8 139.0h0.9M326.8 130.2h0.9M299.1 141.2h0.9M295.9 131.2h0.9M292.0 134.2h0.9M299.9 137.6h0.9M324.3 111.3h0.9M291.4 145.4h0.9M303.4 133.2h0.9M291.7 132.8h0.9M290.1 142.0h0.9M298.9 132.3h0.9M309.1 128.5h0.9M318.2 98.9h0.9M301.0 132.3h0.9M317.7 123.1h0.9M296.8 134.4h0.9M316.0 125.4h0.9M309.7 130.6h0.9M345.5 144.5h0.9M343.1 142.0h0.9M338.6 133.7h0.9M343.3 143.5h0.9M339.3 136.9h0.9M341.8 141.3h0.9M342.0 144.2h0.9M343.5 144.6h0.9M333.5 149.6h0.9M344.9 144.1h0.9M334.6 140.8h0.9M326.0 148.3h0.9M343.3 142.6h0.9M335.3 146.7h0.9M325.5 138.8h0.9M330.5 142.9h0.9M332.8 142.8h0.9M344.7 139.0h0.9M327.5 131.3h0.9M343.4 140.1h0.9M334.7 131.6h0.9M327.3 131.0h0.9M344.7 131.9h0.9M332.1 140.2h0.9M337.6 135.3h0.9M339.2 143.5h0.9M346.7 132.8h0.9M331.5 133.0h0.9M331.4 135.2h0.9M325.7 146.7h0.9M331.1 145.5h0.9M342.9 146.5h0.9M325.5 142.4h0.9M343.7 143.3h0.9M338.3 139.3h0.9M343.1 141.4h0.9M332.7 140.7h0.9M335.4 134.7h0.9M339.8 147.3h0.9M339.4 131.2h0.9M333.9 145.9h0.9M327.9 140.9h0.9M340.0 141.4h0.9M332.3 131.3h0.9M340.5 134.2h0.9M338.2 141.2h0.9M340.9 133.2h0.9M346.4 145.6h0.9M344.2 134.6h0.9M340.8 138.4h0.9M340.4 144.6h0.9M334.0 149.5h0.9M334.6 140.1h0.9M340.7 134.0h0.9M344.7 137.5h0.9M344.5 133.8h0.9M327.7 142.5h0.9M330.3 139.6h0.9M329.4 145.1h0.9M341.2 144.4h0.9M328.0 131.9h0.9M337.8 132.6h0.9M340.8 141.7h0.9M345.5 147.0h0.9M339.4 147.1h0.9M336.2 136.7h0.9M326.3 144.7h0.9M339.6 143.3h0.9M336.3 139.9h0.9M345.2 138.3h0.9M328.1 149.5h0.9M341.8 148.5h0.9M346.7 139.5h0.9M328.4 140.6h0.9M335.8 138.6h0.9M342.3 135.9h0.9M346.3 135.1h0.9M331.2 147.2h0.9M330.1 145.1h0.9M331.0 139.0h0.9M335.3 135.8h0.9M343.1 149.3h0.9M345.3 134.1h0.9M325.6 139.6h0.9M341.3 141.7h0.9M340.0 136.1h0.9M333.8 132.3h0.9M333.7 145.6h0.9M301.1 136.2h0.9M308.9 148.7h0.9M312.6 134.9h0.9M305.1 137.0h0.9M318.4 140.3h0.9M305.5 148.4h0.9M300.4 140.9h0.9M324.3 138.4h0.9M308.9 144.3h0.9M301.7 144.0h0.9M304.8 147.5h0.9M309.5 145.7h0.9M310.1 145.2h0.9M303.6 135.6h0.9M302.7 138.7h0.9M290.5 146.5h0.9M308.4 141.4h0.9M314.7 134.2h0.9M294.4 145.5h0.9M291.4 148.2h0.9M307.8 149.9h0.9M320.1 140.1h0.9M302.0 140.6h0.9M316.9 141.1h0.9M316.2 142.0h0.9M316.0 141.6h0.9M310.3 140.4h0.9M309.9 142.8h0.9M293.6 142.9h0.9M322.5 137.2h0.9M317.1 137.5h0.9M315.0 137.9h0.9M310.8 146.6h0.9M291.1 147.7h0.9M308.3 137.3h0.9M300.8 142.7h0.9M315.9 136.1h0.9M292.5 137.0h0.9M312.2 140.1h0.9M316.7 145.7h0.9M302.9 143.3h0.9M295.1 143.7h0.9M312.7 137.1h0.9M313.3 135.4h0.9M324.0 142.6h0.9M322.3 144.7h0.9M297.5 145.8h0.9M311.5 139.6h0.9M314.3 146.3h0.9M313.8 136.8h0.9M323.8 148.9h0.9M305.2 149.2h0.9M324.8 139.0h0.9M296.7 137.3h0.9M307.1 135.5h0.9M298.3 145.8h0.9M290.7 143.7h0.9M304.3 145.4h0.9M299.1 141.4h0.9M297.5 133.3h0.9M320.3 139.4h0.9M300.3 149.4h0.9M303.0 142.5h0.9M294.9 140.2h0.9M320.6 147.4h0.9M318.6 149.0h0.9M298.1 133.9h0.9M294.6 144.4h0.9M309.1 139.5h0.9M314.9 136.8h0.9M311.3 140.3h0.9M294.9 146.6h0.9M296.5 147.0h0.9M316.6 140.6h0.9M305.9 136.6h0.9M294.9 145.2h0.9M303.0 142.8h0.9M302.9 137.7h0.9M295.7 146.3h0.9M305.2 135.7h0.9M320.6 135.7h0.9M298.0 135.8h0.9M309.6 146.6h0.9M291.1 149.2h0.9M314.6 147.5h0.9M304.8 140.6h0.9M293.3 137.6h0.9M320.5 138.0h0.9M321.5 147.6h0.9M322.2 135.5h0.9M304.8 147.6h0.9M300.9 137.3h0.9M290.7 142.3h0.9M309.3 136.7h0.9M299.1 144.1h0.9M296.0 146.8h0.9M320.5 140.4h0.9M294.6 143.0h0.9M300.3 134.8h0.9M314.8 142.8h0.9M299.5 137.3h0.9M315.3 149.0h0.9M302.3 143.2h0.9M297.7 141.1h0.9M310.3 138.3h0.9M311.2 142.5h0.9M291.5 135.1h0.9M304.5 135.6h0.9M309.1 143.4h0.9M311.9 148.5h0.9M311.3 146.5h0.9M294.0 148.3h0.9M322.5 143.3h0.9M319.0 142.6h0.9M305.2 135.8h0.9M306.8 145.5h0.9M317.8 148.6h0.9M308.1 149.5h0.9M303.0 133.3h0.9M304.9 142.5h0.9M317.0 137.1h0.9M290.9 145.6h0.9M296.7 147.9h0.9M309.8 135.4h0.9M308.2 146.5h0.9M297.8 149.7h0.9M292.0 135.6h0.9M310.8 144.8h0.9" stroke="#767676" stroke-width="0.90" fill="none"/>
<rect x="286.7" y="43.1" width="116.9" height="107.7" fill="none" stroke="#111" stroke-width="1.3"/>
<path d="M324.8 43.1V150.8M286.7 130.2H403.6" stroke="#000" stroke-width="1.25" fill="none"/>
<path d="M286.70 150.8v4.6M286.7 150.80h-5.8M315.93 150.8v4.6M286.7 123.88h-5.8M345.15 150.8v4.6M286.7 96.95h-5.8M374.38 150.8v4.6M286.7 70.03h-5.8M403.60 150.8v4.6M286.7 43.10h-5.8" stroke="#111" stroke-width="1.3" fill="none"/>
<path d="M295.50 150.8v2.4M286.7 142.69h-2.9M300.64 150.8v2.4M286.7 137.95h-2.9M304.30 150.8v2.4M286.7 134.59h-2.9M307.13 150.8v2.4M286.7 131.98h-2.9M309.44 150.8v2.4M286.7 129.85h-2.9M311.40 150.8v2.4M286.7 128.05h-2.9M313.09 150.8v2.4M286.7 126.48h-2.9M314.59 150.8v2.4M286.7 125.11h-2.9M324.72 150.8v2.4M286.7 115.77h-2.9M329.87 150.8v2.4M286.7 111.03h-2.9M333.52 150.8v2.4M286.7 107.66h-2.9M336.35 150.8v2.4M286.7 105.06h-2.9M338.67 150.8v2.4M286.7 102.92h-2.9M340.62 150.8v2.4M286.7 101.12h-2.9M342.32 150.8v2.4M286.7 99.56h-2.9M343.81 150.8v2.4M286.7 98.18h-2.9M353.95 150.8v2.4M286.7 88.84h-2.9M359.09 150.8v2.4M286.7 84.10h-2.9M362.75 150.8v2.4M286.7 80.74h-2.9M365.58 150.8v2.4M286.7 78.13h-2.9M367.89 150.8v2.4M286.7 76.00h-2.9M369.85 150.8v2.4M286.7 74.20h-2.9M371.54 150.8v2.4M286.7 72.63h-2.9M373.04 150.8v2.4M286.7 71.26h-2.9M383.17 150.8v2.4M286.7 61.92h-2.9M388.32 150.8v2.4M286.7 57.18h-2.9M391.97 150.8v2.4M286.7 53.81h-2.9M394.80 150.8v2.4M286.7 51.21h-2.9M397.12 150.8v2.4M286.7 49.07h-2.9M399.07 150.8v2.4M286.7 47.27h-2.9M400.77 150.8v2.4M286.7 45.71h-2.9M402.26 150.8v2.4M286.7 44.33h-2.9" stroke="#111" stroke-width="1.1" fill="none"/>
<text transform="translate(280.7 167.7) scale(0.76 1)" font-family="Liberation Sans, sans-serif" font-size="11" fill="#111" stroke="#111" stroke-width="0.45">10</text>
<text x="289.3" y="161.4" font-family="Liberation Sans, sans-serif" font-size="9.2" fill="#111" stroke="#111" stroke-width="0.3">0</text>
<text transform="translate(279.5 159.0) rotate(-90) scale(0.8 1)" font-family="Liberation Sans, sans-serif" font-size="10" fill="#111" stroke="#111" stroke-width="0.5">10</text>
<text transform="translate(272.2 150.4) rotate(-90) scale(1.3 1)" font-family="Liberation Sans, sans-serif" font-size="8.8" fill="#111" stroke="#111" stroke-width="0.3">0</text>
<text transform="translate(309.9 167.7) scale(0.76 1)" font-family="Liberation Sans, sans-serif" font-size="11" fill="#111" stroke="#111" stroke-width="0.45">10</text>
<text x="318.5" y="161.4" font-family="Liberation Sans, sans-serif" font-size="9.2" fill="#111" stroke="#111" stroke-width="0.3">1</text>
<text transform="translate(279.5 132.1) rotate(-90) scale(0.8 1)" font-family="Liberation Sans, sans-serif" font-size="10" fill="#111" stroke="#111" stroke-width="0.5">10</text>
<text transform="translate(272.2 123.5) rotate(-90) scale(1.3 1)" font-family="Liberation Sans, sans-serif" font-size="8.8" fill="#111" stroke="#111" stroke-width="0.3">1</text>
<text transform="translate(339.1 167.7) scale(0.76 1)" font-family="Liberation Sans, sans-serif" font-size="11" fill="#111" stroke="#111" stroke-width="0.45">10</text>
<text x="347.8" y="161.4" font-family="Liberation Sans, sans-serif" font-size="9.2" fill="#111" stroke="#111" stroke-width="0.3">2</text>
<text transform="translate(279.5 105.2) rotate(-90) scale(0.8 1)" font-family="Liberation Sans, sans-serif" font-size="10" fill="#111" stroke="#111" stroke-width="0.5">10</text>
<text transform="translate(272.2 96.5) rotate(-90) scale(1.3 1)" font-family="Liberation Sans, sans-serif" font-size="8.8" fill="#111" stroke="#111" stroke-width="0.3">2</text>
<text transform="translate(368.4 167.7) scale(0.76 1)" font-family="Liberation Sans, sans-serif" font-size="11" fill="#111" stroke="#111" stroke-width="0.45">10</text>
<text x="377.0" y="161.4" font-family="Liberation Sans, sans-serif" font-size="9.2" fill="#111" stroke="#111" stroke-width="0.3">3</text>
<text transform="translate(279.5 78.2) rotate(-90) scale(0.8 1)" font-family="Liberation Sans, sans-serif" font-size="10" fill="#111" stroke="#111" stroke-width="0.5">10</text>
<text transform="translate(272.2 69.6) rotate(-90) scale(1.3 1)" font-family="Liberation Sans, sans-serif" font-size="8.8" fill="#111" stroke="#111" stroke-width="0.3">3</text>
<text transform="translate(397.6 167.7) scale(0.76 1)" font-family="Liberation Sans, sans-serif" font-size="11" fill="#111" stroke="#111" stroke-width="0.45">10</text>
<text x="406.2" y="161.4" font-family="Liberation Sans, sans-serif" font-size="9.2" fill="#111" stroke="#111" stroke-width="0.3">4</text>
<text transform="translate(279.5 51.3) rotate(-90) scale(0.8 1)" font-family="Liberation Sans, sans-serif" font-size="10" fill="#111" stroke="#111" stroke-width="0.5">10</text>
<text transform="translate(272.2 42.7) rotate(-90) scale(1.3 1)" font-family="Liberation Sans, sans-serif" font-size="8.8" fill="#111" stroke="#111" stroke-width="0.3">4</text>
<text x="351.7" y="56.6" font-family="Liberation Sans, sans-serif" font-size="13.3" fill="#111" stroke="#111" stroke-width="0.25">Normal</text>
<path d="M369.5 0.6V39.4M337.5 20.6H399.6" stroke="#111" stroke-width="1.1" fill="none"/>
<text x="364.6" y="16.0" font-family="Liberation Sans, sans-serif" font-size="13.2" fill="#111" stroke="#111" stroke-width="0.25" text-anchor="end">5</text>
<text x="374.4" y="16.0" font-family="Liberation Sans, sans-serif" font-size="13.2" fill="#111" stroke="#111" stroke-width="0.25" text-anchor="start">67</text>
<text x="365.3" y="35.4" font-family="Liberation Sans, sans-serif" font-size="13.2" fill="#111" stroke="#111" stroke-width="0.25" text-anchor="end">23</text>
<text x="379.2" y="35.4" font-family="Liberation Sans, sans-serif" font-size="13.2" fill="#111" stroke="#111" stroke-width="0.25" text-anchor="start">4</text>
<path d="M167.4 267.3h0.9M175.4 276.3h0.9M171.2 273.0h0.9M171.7 276.4h0.9M177.5 273.5h0.9M173.1 269.6h0.9M173.0 283.0h0.9M174.9 278.3h0.9M177.3 281.5h0.9M173.6 271.0h0.9M179.2 279.9h0.9M172.2 278.5h0.9M174.9 274.8h0.9M182.4 279.3h0.9M176.2 274.1h0.9M175.7 279.4h0.9M176.8 272.6h0.9M176.8 275.1h0.9M176.2 274.6h0.9M166.0 265.9h0.9M173.4 265.8h0.9M168.8 281.2h0.9M177.8 274.0h0.9M176.3 266.5h0.9M175.9 279.2h0.9M175.7 270.0h0.9M178.9 274.1h0.9M172.6 275.1h0.9M173.7 282.7h0.9M174.4 283.3h0.9M176.8 270.6h0.9M174.9 275.2h0.9M180.8 281.8h0.9M185.4 275.5h0.9M173.1 283.7h0.9M171.3 275.3h0.9M181.5 272.9h0.9M173.5 271.6h0.9M177.1 277.2h0.9M174.8 277.5h0.9M171.7 272.5h0.9M176.8 283.6h0.9M174.8 275.2h0.9M180.3 276.9h0.9M180.3 277.5h0.9M179.7 277.1h0.9M171.2 270.5h0.9M176.7 283.0h0.9M182.6 276.0h0.9M185.2 273.6h0.9M171.5 277.6h0.9M168.7 276.7h0.9M176.5 277.9h0.9M170.0 275.0h0.9M178.8 275.9h0.9M179.2 276.3h0.9M176.3 274.1h0.9M169.4 272.7h0.9M177.0 272.6h0.9M166.9 266.4h0.9M180.3 275.7h0.9M171.8 279.0h0.9M174.2 268.8h0.9M173.1 270.9h0.9M174.2 271.1h0.9M175.2 276.9h0.9M172.6 273.5h0.9M174.3 278.1h0.9M172.0 277.1h0.9M180.1 275.7h0.9M171.0 272.6h0.9M167.6 270.6h0.9M170.0 272.8h0.9M173.4 276.6h0.9M175.4 276.8h0.9M174.7 276.0h0.9M170.3 276.2h0.9M180.3 281.0h0.9M169.4 275.0h0.9M168.2 276.0h0.9M174.1 272.9h0.9M171.9 273.1h0.9M174.9 271.1h0.9M175.2 276.1h0.9M177.1 275.5h0.9M174.9 284.2h0.9M179.1 277.5h0.9M169.2 275.7h0.9M177.3 265.1h0.9M174.3 276.3h0.9M175.1 275.4h0.9M174.3 280.3h0.9M176.5 274.3h0.9M174.0 283.1h0.9M171.4 271.8h0.9M176.3 276.0h0.9M176.2 280.8h0.9M179.6 278.1h0.9M175.1 274.8h0.9M174.0 278.7h0.9M169.7 269.3h0.9M173.1 270.6h0.9M171.9 278.9h0.9M165.6 274.5h0.9M169.5 272.4h0.9M172.6 270.3h0.9M168.8 273.4h0.9M162.7 262.8h0.9M173.3 278.9h0.9M182.6 276.1h0.9M171.6 272.8h0.9M176.9 279.3h0.9M171.0 275.7h0.9M174.8 279.5h0.9M173.3 273.6h0.9M171.4 268.6h0.9M176.1 278.2h0.9M179.6 277.5h0.9M173.0 270.7h0.9M170.1 270.6h0.9M176.3 275.8h0.9M165.5 271.7h0.9M173.8 270.4h0.9M174.9 277.1h0.9M170.7 268.3h0.9M173.6 275.6h0.9M173.9 280.9h0.9M175.6 271.2h0.9M178.2 273.4h0.9M177.8 276.2h0.9M180.1 272.5h0.9M178.0 277.6h0.9M171.2 276.7h0.9M184.4 279.2h0.9M171.8 273.4h0.9M180.4 277.6h0.9M181.1 274.2h0.9M180.4 270.3h0.9M174.3 273.6h0.9M172.9 279.3h0.9M172.5 275.6h0.9M182.7 280.6h0.9M173.2 271.5h0.9M166.6 274.0h0.9M178.7 280.5h0.9M176.0 283.9h0.9M178.2 266.7h0.9M171.3 277.1h0.9M173.3 277.8h0.9M185.6 275.1h0.9M184.2 277.4h0.9M168.8 273.5h0.9M178.7 273.8h0.9M181.5 273.5h0.9M174.2 278.4h0.9M174.1 272.5h0.9M174.9 277.6h0.9M182.2 282.6h0.9M182.8 277.2h0.9M168.0 272.8h0.9M173.3 270.5h0.9M172.8 274.1h0.9M175.2 278.7h0.9M171.2 278.4h0.9M175.2 278.0h0.9M180.2 271.6h0.9M181.6 274.1h0.9M176.6 279.9h0.9M178.8 269.9h0.9M175.7 279.8h0.9M174.5 274.5h0.9M175.3 281.7h0.9M172.7 270.5h0.9M170.4 271.5h0.9M174.0 276.1h0.9M174.6 268.0h0.9M168.4 275.7h0.9M178.0 270.5h0.9M178.9 266.4h0.9M184.7 280.3h0.9M168.0 275.0h0.9M174.8 273.1h0.9M173.4 273.6h0.9M174.6 271.2h0.9M172.6 276.5h0.9M177.2 270.3h0.9M172.9 280.7h0.9M178.0 282.5h0.9M169.3 269.1h0.9M165.9 264.5h0.9M144.9 303.9h0.9M140.1 306.5h0.9M146.2 317.5h0.9M151.3 298.8h0.9M157.6 309.1h0.9M140.7 311.3h0.9M144.8 301.5h0.9M158.1 307.3h0.9M143.4 315.4h0.9M158.9 315.0h0.9M141.4 314.7h0.9M155.0 314.2h0.9M151.9 308.0h0.9M147.0 299.4h0.9M142.6 303.3h0.9M147.5 322.3h0.9M132.2 302.0h0.9M141.2 310.9h0.9M155.4 305.9h0.9M142.2 320.3h0.9M150.0 315.3h0.9M153.2 306.2h0.9M149.0 306.8h0.9M142.6 312.5h0.9M150.5 302.3h0.9M142.2 315.9h0.9M148.6 316.3h0.9M145.3 305.7h0.9M152.8 315.8h0.9M142.3 316.3h0.9M158.2 309.5h0.9M140.9 313.4h0.9M148.1 315.6h0.9M137.9 313.3h0.9M153.6 316.6h0.9M151.8 320.2h0.9M141.9 320.3h0.9M148.9 304.3h0.9M145.5 313.5h0.9M149.8 321.3h0.9M148.8 307.8h0.9M162.4 309.1h0.9M141.9 318.2h0.9M144.7 305.8h0.9M140.2 320.1h0.9M140.2 312.2h0.9M144.4 310.1h0.9M141.9 312.6h0.9M151.6 319.1h0.9M145.0 303.1h0.9M137.4 311.6h0.9M130.6 321.1h0.9M147.7 312.4h0.9M138.0 306.9h0.9M142.4 316.4h0.9M144.7 316.0h0.9M151.0 297.6h0.9M145.9 320.6h0.9M144.0 312.5h0.9M146.6 302.7h0.9M162.4 310.6h0.9M151.9 308.3h0.9M157.1 319.8h0.9M155.6 318.4h0.9M152.3 321.5h0.9M150.2 312.5h0.9M153.0 305.1h0.9M130.2 317.4h0.9M148.5 306.5h0.9M145.7 304.7h0.9M141.8 312.9h0.9M148.3 317.6h0.9M146.9 316.1h0.9M152.2 306.5h0.9M136.0 306.6h0.9M145.8 307.7h0.9M162.6 306.6h0.9M150.7 306.0h0.9M152.2 302.5h0.9M154.0 312.9h0.9M144.8 303.0h0.9M158.9 307.4h0.9M157.3 294.2h0.9M139.3 324.6h0.9M159.7 311.7h0.9M154.3 315.9h0.9M145.1 312.5h0.9M139.7 301.9h0.9M148.3 316.8h0.9M148.6 302.7h0.9M153.3 312.2h0.9M152.6 309.5h0.9M145.7 319.1h0.9M156.9 302.9h0.9M139.9 318.5h0.9M150.0 312.0h0.9M140.8 318.9h0.9M148.8 313.1h0.9M150.1 307.8h0.9M150.2 312.5h0.9M152.4 314.3h0.9M138.8 306.5h0.9M145.7 319.9h0.9M143.1 319.7h0.9M154.9 317.9h0.9M162.9 311.5h0.9M149.7 320.4h0.9M150.3 318.7h0.9M146.6 321.8h0.9M149.9 297.8h0.9M154.9 310.2h0.9M141.5 309.5h0.9M145.6 319.8h0.9M149.8 311.1h0.9M147.4 305.1h0.9M143.1 308.2h0.9M146.0 303.2h0.9M144.8 318.8h0.9M150.6 311.6h0.9M149.9 309.9h0.9M139.4 317.9h0.9M162.8 315.3h0.9M139.2 315.4h0.9M145.2 309.6h0.9M136.2 311.0h0.9M150.2 300.1h0.9M146.0 308.1h0.9M140.7 316.1h0.9M158.7 314.6h0.9M154.5 317.1h0.9M147.1 315.8h0.9M156.5 308.6h0.9M146.5 301.7h0.9M134.8 305.8h0.9M153.6 314.2h0.9M149.3 321.0h0.9M135.4 321.5h0.9M148.1 317.2h0.9M156.9 305.8h0.9M141.6 314.5h0.9M147.1 307.4h0.9M146.6 306.4h0.9M148.4 308.9h0.9M159.1 304.1h0.9M151.5 312.1h0.9M158.3 304.7h0.9M144.3 324.0h0.9M143.0 308.9h0.9M144.8 304.6h0.9M155.8 322.4h0.9M146.5 306.2h0.9M138.3 316.3h0.9M143.9 315.5h0.9M131.1 308.6h0.9M151.8 314.6h0.9M148.4 311.5h0.9M145.2 308.4h0.9M148.5 315.2h0.9M153.9 310.0h0.9M155.8 304.9h0.9M160.6 318.5h0.9M157.3 322.9h0.9M139.3 310.8h0.9M150.7 319.1h0.9M148.0 302.3h0.9M155.8 310.4h0.9M150.5 309.3h0.9M146.7 301.8h0.9M152.1 307.1h0.9M135.4 314.5h0.9M147.3 318.4h0.9M153.1 302.9h0.9M146.3 311.6h0.9M148.1 304.1h0.9M148.0 318.6h0.9M156.0 322.0h0.9M152.7 293.6h0.9M145.6 307.7h0.9M153.7 311.5h0.9M150.0 315.1h0.9M146.0 321.4h0.9M160.0 317.4h0.9M143.7 313.4h0.9M154.2 316.7h0.9M142.8 318.4h0.9M152.5 315.7h0.9M144.6 311.4h0.9M134.5 311.4h0.9M144.5 309.5h0.9M145.6 309.3h0.9M148.1 312.3h0.9M143.3 310.6h0.9M146.9 315.1h0.9M150.5 309.0h0.9M141.9 299.9h0.9M139.0 314.5h0.9M141.2 323.0h0.9M146.4 308.8h0.9M146.4 307.7h0.9M143.2 312.0h0.9M137.6 312.5h0.9M146.9 305.1h0.9M154.5 314.2h0.9M154.9 306.8h0.9M139.0 303.1h0.9M136.8 298.1h0.9M158.2 308.2h0.9M148.8 307.8h0.9M146.5 322.8h0.9M135.7 304.6h0.9M148.4 305.1h0.9M152.2 320.8h0.9M153.6 316.9h0.9M146.4 318.7h0.9M142.0 303.1h0.9M145.7 309.8h0.9M155.9 304.5h0.9M155.3 306.0h0.9M138.9 299.5h0.9M147.3 301.3h0.9M149.0 311.9h0.9M144.8 297.9h0.9M144.0 314.7h0.9M135.3 316.5h0.9M147.6 307.7h0.9M148.9 316.2h0.9M147.4 306.0h0.9M152.9 306.7h0.9M150.0 318.5h0.9M156.4 322.9h0.9M154.5 312.6h0.9M146.1 312.9h0.9M152.0 305.7h0.9M157.9 300.2h0.9M154.3 302.5h0.9M140.1 308.0h0.9M145.6 302.0h0.9M151.7 310.7h0.9M156.7 304.3h0.9M135.1 316.4h0.9M146.0 318.5h0.9M131.6 302.7h0.9M148.1 325.4h0.9M139.1 298.0h0.9M144.4 321.6h0.9M158.3 301.9h0.9M143.3 298.4h0.9M141.8 304.7h0.9M150.4 319.6h0.9M163.8 309.0h0.9M153.1 313.1h0.9M148.4 325.3h0.9M152.3 322.7h0.9M149.6 317.7h0.9M151.0 310.9h0.9M142.8 308.7h0.9M147.6 308.8h0.9M145.2 306.5h0.9M153.4 309.8h0.9M146.7 310.0h0.9M156.4 307.7h0.9M157.1 305.4h0.9M157.9 315.9h0.9M144.2 314.8h0.9M155.3 304.8h0.9M146.0 313.8h0.9M146.1 309.5h0.9M147.6 313.8h0.9M152.8 322.0h0.9M145.3 324.2h0.9M146.6 301.2h0.9M144.5 309.1h0.9M154.8 297.2h0.9M143.2 310.6h0.9M152.0 314.3h0.9M153.3 310.4h0.9M145.9 320.1h0.9M159.2 314.2h0.9M148.6 305.4h0.9M161.8 314.4h0.9M151.7 300.1h0.9M146.4 310.1h0.9M158.0 310.2h0.9M153.3 325.4h0.9M139.6 305.6h0.9M152.1 312.4h0.9M147.8 310.3h0.9M148.4 314.1h0.9M144.3 309.6h0.9M149.1 303.8h0.9M150.5 295.9h0.9M151.9 310.7h0.9M139.5 321.1h0.9M139.6 326.3h0.9M142.6 320.2h0.9M147.1 323.0h0.9M146.0 318.9h0.9M145.4 298.2h0.9M150.2 314.9h0.9M150.2 323.4h0.9M142.5 301.3h0.9M149.3 306.6h0.9M146.8 311.5h0.9M142.0 319.3h0.9M146.7 324.3h0.9M149.2 319.1h0.9M145.6 306.8h0.9M143.9 305.3h0.9M150.6 312.5h0.9M140.2 300.6h0.9M141.7 298.5h0.9M141.5 300.7h0.9M152.3 303.3h0.9M143.5 310.7h0.9M147.7 314.5h0.9M152.7 316.1h0.9M145.2 320.4h0.9M150.0 306.5h0.9M157.7 303.1h0.9M150.7 320.5h0.9M148.3 314.0h0.9M148.4 316.3h0.9M149.0 311.6h0.9M152.3 298.0h0.9M149.2 309.4h0.9M160.8 313.6h0.9M143.1 316.2h0.9M144.9 303.1h0.9M145.6 315.1h0.9M155.6 319.0h0.9M149.1 310.4h0.9M148.9 320.2h0.9M146.7 319.8h0.9M142.2 311.4h0.9M152.8 316.5h0.9M148.9 307.9h0.9M135.4 308.4h0.9M141.8 308.7h0.9M158.2 306.0h0.9M153.2 311.4h0.9M140.1 312.3h0.9M152.6 303.1h0.9M139.7 308.8h0.9M152.4 307.2h0.9M150.4 314.8h0.9M147.6 314.7h0.9M156.1 310.2h0.9M149.7 303.9h0.9M142.7 310.8h0.9M153.0 306.7h0.9M138.2 318.1h0.9M163.5 293.2h0.9M140.4 312.4h0.9M150.8 304.8h0.9M149.8 319.3h0.9M145.7 316.7h0.9M148.4 304.9h0.9M143.4 307.2h0.9M156.4 319.8h0.9M149.2 300.4h0.9M144.3 308.7h0.9M134.6 311.4h0.9M149.4 302.1h0.9M144.7 308.3h0.9M159.9 316.2h0.9M152.7 312.1h0.9M139.0 318.1h0.9M143.0 297.8h0.9M152.4 309.1h0.9M147.5 315.2h0.9M146.0 314.4h0.9M156.1 309.2h0.9M145.2 311.6h0.9M151.8 308.7h0.9M148.1 306.7h0.9M147.0 315.4h0.9M142.1 310.2h0.9M137.8 306.5h0.9M148.0 315.3h0.9M140.7 310.8h0.9M141.3 313.8h0.9M149.3 314.7h0.9M146.1 301.4h0.9M143.8 302.0h0.9M143.0 311.1h0.9M154.7 306.9h0.9M142.4 313.0h0.9M133.8 325.6h0.9M137.3 318.7h0.9M154.0 318.4h0.9M146.8 316.7h0.9M145.2 318.3h0.9M143.2 305.7h0.9M150.0 308.3h0.9M152.0 305.4h0.9M149.3 304.5h0.9M140.4 302.8h0.9M136.9 309.9h0.9M158.3 308.3h0.9M153.7 310.2h0.9M143.3 325.8h0.9M154.7 298.5h0.9M141.0 314.4h0.9M151.8 309.9h0.9M149.6 315.3h0.9M145.2 318.6h0.9M141.9 316.9h0.9M153.6 312.9h0.9M145.2 311.4h0.9M132.8 313.3h0.9M138.1 297.2h0.9M152.6 305.0h0.9M149.9 311.8h0.9M135.9 305.1h0.9M145.7 314.8h0.9M148.0 302.6h0.9M144.0 312.3h0.9M139.1 308.4h0.9M143.9 296.5h0.9M158.9 317.7h0.9M144.4 318.2h0.9M140.6 322.4h0.9M145.1 312.5h0.9M143.7 312.2h0.9M149.7 311.7h0.9M142.1 316.9h0.9M151.2 311.5h0.9M154.4 306.3h0.9M155.9 310.4h0.9M157.5 308.4h0.9M145.8 313.0h0.9M154.7 321.7h0.9M144.5 306.3h0.9M152.5 320.3h0.9M152.1 309.2h0.9M155.9 311.3h0.9M148.6 315.9h0.9M143.8 295.5h0.9M149.0 316.6h0.9M150.4 315.4h0.9M148.6 318.9h0.9M148.3 322.1h0.9M147.8 317.2h0.9M143.9 313.6h0.9M150.3 312.5h0.9M157.7 311.8h0.9M154.9 314.0h0.9M154.7 305.1h0.9M145.1 318.4h0.9M142.1 314.3h0.9M151.2 312.9h0.9M150.4 315.3h0.9M146.0 314.4h0.9M144.1 308.3h0.9M137.1 310.8h0.9M136.3 311.7h0.9M148.9 303.8h0.9M148.0 313.6h0.9M145.2 305.0h0.9M146.8 314.4h0.9M153.6 325.2h0.9M134.5 313.9h0.9M150.4 307.0h0.9M148.3 321.2h0.9M154.5 308.4h0.9M132.3 319.7h0.9M157.6 299.0h0.9M146.2 306.6h0.9M148.9 311.9h0.9M155.0 307.3h0.9M160.2 299.4h0.9M146.9 316.0h0.9M153.4 309.0h0.9M134.9 313.0h0.9M152.3 297.0h0.9M144.3 315.5h0.9M131.7 310.1h0.9M137.1 302.0h0.9M150.2 319.6h0.9M155.2 306.8h0.9M150.9 298.9h0.9M137.8 315.4h0.9M144.9 304.3h0.9M135.2 309.8h0.9M162.2 297.2h0.9M140.6 319.5h0.9M134.9 307.1h0.9M148.0 319.6h0.9M147.0 324.5h0.9M147.3 310.7h0.9M150.4 314.0h0.9M137.6 304.8h0.9M146.0 313.9h0.9M139.4 306.4h0.9M142.6 313.9h0.9M144.7 315.8h0.9M150.1 305.0h0.9M145.5 302.7h0.9M148.2 317.3h0.9M141.0 298.9h0.9M150.9 309.4h0.9M147.3 314.8h0.9M150.0 318.1h0.9M144.5 295.8h0.9M144.3 309.3h0.9M144.8 314.3h0.9M145.9 320.8h0.9M143.3 311.5h0.9M141.2 304.4h0.9M145.0 317.0h0.9M147.6 310.2h0.9M137.8 296.7h0.9M146.1 309.8h0.9M159.2 314.2h0.9M150.3 318.4h0.9M141.6 302.7h0.9M145.1 322.1h0.9M154.0 307.3h0.9M139.3 318.1h0.9M154.7 303.7h0.9M158.1 306.0h0.9M152.5 310.0h0.9M145.3 307.1h0.9M152.1 315.9h0.9M152.9 309.5h0.9M158.9 310.1h0.9M139.9 322.2h0.9M148.4 311.9h0.9M153.2 314.0h0.9M148.2 325.7h0.9M135.0 316.1h0.9M141.0 312.0h0.9M146.4 313.4h0.9M131.5 316.5h0.9M163.0 308.5h0.9M153.5 316.0h0.9M149.5 307.9h0.9M151.7 313.4h0.9M157.1 317.5h0.9M142.8 290.6h0.9M157.6 315.0h0.9M148.7 307.2h0.9M164.2 321.1h0.9M148.1 308.9h0.9M151.3 321.2h0.9M151.0 318.3h0.9M149.3 314.1h0.9M139.0 312.4h0.9M147.8 311.0h0.9M145.9 313.7h0.9M143.6 310.1h0.9M141.5 302.9h0.9M143.9 308.5h0.9M140.3 294.0h0.9M158.5 318.8h0.9M145.0 315.5h0.9M140.1 299.9h0.9M149.7 315.6h0.9M142.9 311.5h0.9M154.6 312.7h0.9M148.7 315.7h0.9M133.5 302.3h0.9M139.0 313.2h0.9M143.3 298.0h0.9M153.5 310.2h0.9M154.2 325.9h0.9M136.4 302.3h0.9M154.8 321.6h0.9M150.2 314.1h0.9M152.2 316.2h0.9M138.9 316.8h0.9M154.2 308.6h0.9M141.3 308.0h0.9M143.5 315.3h0.9M152.7 311.7h0.9M145.4 298.8h0.9M144.6 304.4h0.9M143.8 314.0h0.9M141.6 307.7h0.9M139.8 309.7h0.9M145.6 318.7h0.9M134.3 318.0h0.9M151.8 307.7h0.9M142.9 312.9h0.9M151.0 310.4h0.9M146.4 311.6h0.9M140.2 313.4h0.9M151.4 311.9h0.9M139.8 311.5h0.9M146.8 313.8h0.9M144.7 317.4h0.9M154.8 317.4h0.9M149.1 320.2h0.9M147.2 310.3h0.9M137.8 311.6h0.9M155.7 304.7h0.9M152.7 302.5h0.9M149.5 324.5h0.9M147.8 303.2h0.9M149.4 310.5h0.9M152.9 307.8h0.9M135.8 308.1h0.9M151.5 318.8h0.9M149.3 311.7h0.9M152.1 310.1h0.9M144.4 313.1h0.9M154.9 308.0h0.9M150.8 307.0h0.9M142.5 312.7h0.9M138.5 305.5h0.9M139.4 307.3h0.9M151.6 312.0h0.9M138.4 294.7h0.9M150.4 307.1h0.9M154.5 308.7h0.9M138.6 307.0h0.9M137.2 301.5h0.9M152.3 307.8h0.9M152.1 307.6h0.9M145.9 307.6h0.9M143.8 306.9h0.9M157.6 311.1h0.9M134.3 323.5h0.9M155.9 319.4h0.9M146.7 310.4h0.9M144.2 312.4h0.9M150.6 311.5h0.9M141.9 304.7h0.9M158.7 323.4h0.9M139.1 307.0h0.9M147.2 315.6h0.9M146.7 313.2h0.9M149.9 319.5h0.9M138.6 319.2h0.9M150.4 315.3h0.9M137.2 309.9h0.9M145.7 316.0h0.9M152.1 316.3h0.9M138.7 320.3h0.9M147.9 318.1h0.9M147.4 306.6h0.9M165.2 316.1h0.9M152.6 308.3h0.9M145.9 319.3h0.9M150.5 323.8h0.9M155.6 304.0h0.9M137.0 319.6h0.9M151.5 309.7h0.9M145.4 307.6h0.9M159.6 310.4h0.9M138.1 317.9h0.9M146.8 314.0h0.9M144.8 311.3h0.9M134.7 315.3h0.9M142.8 308.9h0.9M149.6 320.4h0.9M132.8 310.6h0.9M151.1 318.6h0.9M141.2 313.8h0.9M150.1 318.0h0.9M143.2 310.2h0.9M143.9 319.5h0.9M154.8 308.5h0.9M146.5 313.1h0.9M141.3 310.8h0.9M153.3 316.9h0.9M142.8 307.0h0.9M146.6 301.4h0.9M149.5 312.4h0.9M138.3 309.9h0.9M142.9 309.7h0.9M141.5 321.0h0.9M140.8 316.8h0.9M148.8 321.5h0.9M147.0 311.6h0.9M147.8 298.5h0.9M163.7 310.1h0.9M145.2 303.8h0.9M146.5 322.7h0.9M142.3 314.6h0.9M154.4 318.1h0.9M165.6 299.0h0.9M171.1 315.0h0.9M166.2 308.1h0.9M180.3 300.2h0.9M164.9 306.9h0.9M157.8 306.3h0.9M163.0 319.6h0.9M156.5 301.6h0.9M170.2 300.4h0.9M154.8 306.8h0.9M160.2 304.4h0.9M167.3 314.2h0.9M164.0 309.2h0.9M173.2 310.0h0.9M173.4 307.0h0.9M171.7 319.8h0.9M166.2 308.8h0.9M167.3 314.3h0.9M160.2 311.4h0.9M164.4 320.9h0.9M156.7 315.5h0.9M166.2 306.0h0.9M169.3 309.5h0.9M168.7 312.7h0.9M176.5 308.3h0.9M179.7 292.6h0.9M180.7 319.4h0.9M179.0 312.5h0.9M170.3 304.2h0.9M177.4 303.2h0.9M163.0 311.1h0.9M170.0 313.4h0.9M160.5 308.7h0.9M171.7 319.2h0.9M173.6 313.9h0.9M166.6 307.4h0.9M164.9 310.4h0.9M172.0 307.7h0.9M182.3 304.3h0.9M173.9 309.7h0.9M167.4 308.5h0.9M178.8 309.1h0.9M172.1 311.9h0.9M173.5 315.1h0.9M179.6 306.1h0.9M162.8 322.6h0.9M177.0 311.6h0.9M166.4 312.8h0.9M177.2 305.9h0.9M178.2 310.7h0.9M165.9 308.4h0.9M154.2 313.3h0.9M159.5 307.3h0.9M162.3 312.7h0.9M173.3 311.4h0.9M169.7 313.9h0.9M179.3 315.0h0.9M179.0 310.7h0.9M170.8 306.7h0.9M172.4 305.3h0.9M171.6 306.8h0.9M166.0 319.4h0.9M169.4 316.5h0.9M166.7 298.4h0.9M178.4 309.9h0.9M164.0 317.5h0.9M160.7 306.0h0.9M176.1 306.4h0.9M176.0 309.0h0.9M166.9 311.6h0.9M165.0 318.4h0.9M175.8 311.6h0.9M172.5 314.8h0.9M179.8 300.3h0.9M175.3 317.3h0.9M166.3 311.2h0.9M166.0 319.5h0.9M160.6 315.2h0.9M177.1 315.0h0.9M165.1 308.0h0.9M154.0 304.1h0.9M175.8 304.7h0.9M157.3 309.4h0.9M158.3 314.2h0.9M162.5 317.6h0.9M167.6 301.5h0.9M163.2 306.7h0.9M162.7 319.5h0.9M161.6 313.6h0.9M164.4 315.1h0.9M158.7 300.5h0.9M171.8 320.8h0.9M159.0 309.0h0.9M164.9 304.8h0.9M174.9 311.5h0.9M159.0 309.7h0.9M177.4 306.3h0.9M164.9 305.5h0.9M169.5 307.4h0.9M174.4 305.5h0.9M158.5 314.2h0.9M146.9 304.7h0.9M170.3 312.8h0.9M164.5 308.1h0.9M162.9 309.9h0.9M165.3 314.9h0.9M168.5 314.9h0.9M179.5 309.3h0.9M166.4 313.7h0.9M182.6 308.7h0.9M179.8 319.2h0.9M149.8 304.4h0.9M161.7 313.8h0.9M177.4 311.5h0.9M169.5 325.8h0.9M170.8 325.7h0.9M162.3 322.3h0.9M165.0 294.7h0.9M162.8 307.9h0.9M168.1 316.3h0.9M173.1 314.7h0.9M163.3 323.2h0.9M176.5 311.4h0.9M164.5 310.8h0.9M166.9 306.4h0.9M168.3 306.6h0.9M172.8 306.7h0.9M171.7 313.3h0.9M169.5 314.7h0.9M163.7 316.1h0.9M168.5 308.2h0.9M180.2 318.6h0.9M166.5 314.9h0.9M173.0 321.9h0.9M175.3 310.0h0.9M166.7 303.2h0.9M170.2 317.0h0.9M165.8 315.6h0.9M169.3 308.0h0.9M160.1 318.7h0.9M185.6 314.8h0.9M161.1 304.1h0.9M170.1 315.5h0.9M178.7 294.7h0.9M181.0 312.2h0.9M169.3 313.7h0.9M166.0 309.2h0.9M175.6 299.3h0.9M167.6 314.9h0.9M157.2 310.0h0.9M178.8 313.7h0.9M173.2 315.9h0.9M169.9 313.5h0.9M162.9 309.7h0.9M181.0 302.7h0.9M167.3 302.5h0.9M164.8 305.8h0.9M160.1 312.8h0.9M162.0 314.7h0.9M180.7 293.7h0.9M167.3 296.8h0.9M167.6 313.7h0.9M169.9 319.4h0.9M169.5 299.3h0.9M178.7 304.6h0.9M167.8 313.3h0.9M162.5 311.7h0.9M178.6 299.6h0.9M157.1 308.0h0.9M167.3 302.4h0.9M152.8 317.3h0.9M171.1 302.0h0.9M172.3 310.7h0.9M169.5 302.0h0.9M167.0 314.4h0.9M156.5 303.9h0.9M175.0 324.8h0.9M173.0 310.6h0.9M161.1 308.3h0.9M166.7 314.1h0.9M177.5 296.1h0.9M160.5 311.1h0.9M175.1 313.9h0.9M149.7 299.8h0.9M177.6 315.1h0.9M185.9 316.6h0.9M171.6 321.6h0.9M165.4 307.4h0.9M161.6 312.8h0.9M171.5 317.5h0.9M178.3 315.4h0.9M176.9 309.4h0.9M161.9 316.1h0.9M175.4 320.3h0.9M167.3 307.9h0.9M166.0 313.6h0.9M168.1 309.8h0.9M170.2 309.1h0.9M170.8 307.0h0.9M158.0 308.9h0.9M181.4 305.5h0.9M174.7 320.3h0.9M164.8 312.9h0.9M152.9 315.0h0.9M179.0 312.4h0.9M154.9 307.1h0.9M163.4 311.8h0.9M170.4 308.2h0.9M166.4 305.4h0.9M172.4 312.4h0.9M170.8 307.6h0.9M171.8 309.0h0.9M170.5 310.0h0.9M164.0 303.5h0.9M155.8 301.6h0.9M157.3 305.4h0.9M167.1 303.0h0.9M171.3 325.5h0.9M149.4 303.0h0.9M176.9 303.0h0.9M167.8 306.7h0.9M173.7 301.0h0.9M170.6 312.6h0.9M172.3 314.0h0.9M169.5 298.8h0.9M166.3 304.5h0.9M172.1 309.4h0.9M169.5 318.7h0.9M167.8 322.7h0.9M174.2 300.8h0.9M164.5 319.5h0.9M165.1 319.3h0.9M164.7 310.2h0.9M175.5 300.1h0.9M169.0 307.9h0.9M169.6 322.9h0.9M171.8 301.7h0.9M175.0 307.9h0.9M169.6 319.1h0.9M166.4 317.7h0.9M169.7 304.8h0.9M166.4 301.6h0.9M176.6 312.2h0.9M175.1 303.3h0.9M174.3 302.7h0.9M170.4 310.9h0.9M164.5 313.2h0.9M168.7 305.0h0.9M163.4 302.0h0.9M177.8 312.1h0.9M166.0 315.8h0.9M162.6 302.9h0.9M170.9 322.1h0.9M170.5 312.1h0.9M180.4 300.3h0.9M189.3 303.4h0.9M168.0 301.7h0.9M160.2 309.4h0.9M185.1 304.5h0.9M164.3 312.9h0.9M161.6 309.2h0.9M174.1 295.8h0.9M166.4 309.0h0.9M165.0 310.2h0.9M156.3 308.0h0.9M165.0 303.8h0.9M177.1 325.0h0.9M173.9 305.0h0.9M178.2 314.5h0.9M162.9 315.2h0.9M164.6 315.0h0.9M174.8 319.1h0.9M161.3 310.1h0.9M168.5 302.5h0.9M171.3 315.8h0.9M159.1 307.2h0.9M161.0 302.1h0.9M161.2 320.6h0.9M164.0 308.3h0.9M175.2 318.2h0.9M178.1 296.5h0.9M173.6 298.8h0.9M164.2 308.1h0.9M164.6 324.7h0.9M167.4 319.2h0.9M167.3 310.6h0.9M172.0 314.1h0.9M171.9 298.9h0.9M172.0 313.2h0.9M172.6 310.6h0.9M171.3 301.9h0.9M176.2 302.5h0.9M178.0 318.1h0.9M168.1 308.9h0.9M173.8 308.9h0.9M160.4 312.9h0.9M160.2 307.8h0.9M180.7 316.7h0.9M165.4 310.5h0.9M164.1 310.9h0.9M158.6 315.8h0.9M168.6 306.7h0.9M165.5 307.7h0.9M164.5 307.5h0.9M177.4 315.7h0.9M171.4 313.6h0.9M160.8 294.1h0.9M178.8 316.0h0.9M170.0 313.0h0.9M169.9 311.2h0.9M166.7 295.4h0.9M172.4 311.3h0.9M175.1 313.2h0.9M166.6 315.2h0.9M169.8 307.9h0.9M165.9 308.0h0.9M166.5 307.9h0.9M167.7 318.8h0.9M155.1 288.4h0.9M165.3 309.9h0.9M163.5 301.5h0.9M162.7 307.4h0.9M169.5 308.6h0.9M160.3 308.4h0.9M178.8 304.8h0.9M168.9 318.1h0.9M163.0 307.0h0.9M188.2 319.7h0.9M164.9 312.1h0.9M169.2 312.0h0.9M171.7 308.9h0.9M153.4 304.3h0.9M169.5 301.4h0.9M166.3 321.5h0.9M170.1 306.4h0.9M169.4 318.3h0.9M156.9 302.2h0.9M164.0 307.9h0.9M167.9 306.9h0.9M169.2 311.6h0.9M160.6 306.6h0.9M160.1 313.0h0.9M170.3 315.6h0.9M162.5 307.3h0.9M153.4 311.1h0.9M157.5 313.4h0.9M175.8 314.1h0.9M172.8 312.6h0.9M171.0 317.6h0.9M177.1 325.1h0.9M166.7 316.8h0.9M174.4 314.0h0.9M170.3 302.2h0.9M175.9 304.8h0.9M164.1 305.0h0.9M172.3 304.2h0.9M171.6 314.9h0.9M169.2 308.6h0.9M172.5 320.2h0.9M165.4 303.7h0.9M164.4 304.9h0.9M166.9 309.9h0.9M152.9 321.2h0.9M163.0 308.0h0.9M155.2 297.2h0.9M161.6 312.6h0.9M174.3 298.4h0.9M170.0 321.6h0.9M166.6 317.4h0.9M170.6 304.5h0.9M175.2 306.7h0.9M170.9 308.2h0.9M167.0 312.1h0.9M177.5 299.2h0.9M160.9 311.7h0.9M175.1 309.7h0.9M167.2 314.7h0.9M179.2 304.7h0.9M157.7 309.0h0.9M173.7 301.8h0.9M176.1 317.6h0.9M173.8 305.1h0.9M159.7 315.6h0.9M170.3 315.8h0.9M159.4 290.4h0.9M176.1 318.0h0.9M166.6 311.0h0.9M171.6 316.2h0.9M167.2 307.4h0.9M161.9 318.2h0.9M169.2 287.2h0.9M170.8 307.0h0.9M159.9 307.4h0.9M159.8 307.9h0.9M164.8 314.6h0.9M161.6 298.3h0.9M164.4 301.4h0.9M173.5 309.6h0.9M157.1 304.9h0.9M168.3 310.7h0.9M156.0 310.1h0.9M170.5 317.9h0.9M175.9 310.1h0.9M159.7 308.4h0.9M172.9 304.6h0.9M177.0 304.3h0.9M160.9 316.8h0.9M167.8 313.2h0.9M166.4 311.2h0.9M164.5 324.2h0.9M172.9 310.1h0.9M171.7 316.8h0.9M164.9 312.2h0.9M169.9 307.1h0.9M163.2 309.6h0.9M166.5 308.1h0.9M155.3 311.5h0.9M172.9 311.5h0.9M180.1 317.0h0.9M166.1 306.3h0.9M171.9 308.4h0.9M157.5 311.8h0.9M166.5 309.4h0.9M172.6 312.3h0.9M182.2 305.8h0.9M167.8 313.1h0.9M165.5 307.4h0.9M180.4 300.9h0.9M170.9 298.8h0.9M170.8 297.6h0.9M160.6 318.9h0.9M178.9 311.9h0.9M150.1 318.0h0.9M170.2 303.3h0.9M166.1 301.8h0.9M167.9 310.4h0.9M169.3 316.5h0.9M164.1 295.7h0.9M160.6 302.2h0.9M166.0 307.9h0.9M168.2 320.5h0.9M168.7 303.5h0.9M166.4 304.9h0.9M166.9 315.0h0.9M160.8 315.9h0.9M180.6 321.6h0.9M179.5 311.6h0.9M159.3 324.9h0.9M168.1 312.6h0.9M166.1 304.5h0.9M172.7 301.3h0.9M159.2 314.8h0.9M166.0 305.2h0.9M171.9 320.9h0.9M166.6 310.1h0.9M172.3 317.5h0.9M175.5 315.7h0.9M164.0 314.7h0.9M168.5 299.2h0.9M176.9 315.0h0.9M177.8 310.5h0.9M173.4 310.5h0.9M169.6 317.3h0.9M168.9 315.2h0.9M168.3 319.5h0.9M172.9 299.5h0.9M179.7 314.0h0.9M165.0 306.7h0.9M182.0 311.6h0.9M172.0 315.1h0.9M164.5 323.1h0.9M182.7 305.6h0.9M176.2 299.7h0.9M166.2 311.4h0.9M168.9 314.9h0.9M171.2 313.6h0.9M167.6 313.1h0.9M164.7 324.6h0.9M168.9 319.6h0.9M169.2 310.0h0.9M167.3 302.1h0.9M182.5 313.9h0.9M169.4 307.8h0.9M177.2 308.7h0.9M165.4 307.3h0.9M178.9 313.2h0.9M167.5 306.6h0.9M177.2 313.0h0.9M166.3 317.2h0.9M174.4 304.1h0.9M176.3 318.5h0.9M166.9 301.8h0.9M175.9 308.6h0.9M167.1 309.0h0.9M166.7 316.8h0.9M161.1 314.7h0.9M176.3 318.3h0.9M173.4 312.8h0.9M167.2 310.2h0.9M162.6 322.5h0.9M167.7 304.1h0.9M174.1 321.4h0.9M170.4 308.8h0.9M161.0 315.5h0.9M166.9 306.5h0.9M172.6 302.1h0.9M173.5 294.3h0.9M164.4 301.2h0.9M166.9 316.5h0.9M159.8 320.4h0.9M164.0 307.7h0.9M175.2 306.0h0.9M184.8 316.2h0.9M171.2 306.7h0.9M185.5 310.9h0.9M167.7 308.5h0.9M159.3 301.5h0.9M150.6 308.8h0.9M171.6 300.9h0.9M141.1 316.0h0.9M156.5 323.3h0.9M131.1 309.7h0.9M176.6 319.4h0.9M149.8 312.0h0.9M152.2 296.2h0.9M134.5 303.1h0.9M178.8 302.0h0.9M146.0 313.3h0.9M169.0 316.1h0.9M147.3 306.6h0.9M130.7 320.6h0.9M151.1 305.0h0.9M141.6 311.3h0.9M138.4 306.1h0.9M135.9 301.9h0.9M159.5 306.2h0.9M136.0 323.0h0.9M133.3 308.8h0.9M146.4 297.8h0.9M146.6 309.7h0.9M168.6 304.0h0.9M151.2 323.9h0.9M165.5 309.8h0.9M141.9 320.4h0.9M182.1 303.4h0.9M177.6 307.6h0.9M156.8 296.8h0.9M143.6 303.5h0.9M141.4 321.6h0.9M183.3 305.9h0.9M174.9 305.3h0.9M162.5 302.0h0.9M180.9 312.0h0.9M163.1 320.6h0.9M159.3 311.2h0.9M169.9 310.7h0.9M162.3 305.3h0.9M138.5 302.9h0.9M184.4 314.3h0.9M131.0 301.8h0.9M162.7 311.8h0.9M185.4 324.0h0.9M134.0 321.0h0.9M185.1 319.1h0.9M183.4 307.8h0.9M165.2 317.2h0.9M174.6 318.2h0.9M175.9 306.5h0.9M174.5 314.5h0.9M183.8 306.0h0.9M164.7 322.7h0.9M172.6 317.6h0.9M138.2 300.8h0.9M147.8 316.2h0.9M131.8 316.4h0.9M136.7 302.0h0.9M145.5 313.0h0.9M170.2 325.3h0.9M142.8 298.7h0.9M178.0 314.3h0.9M181.5 318.2h0.9M137.3 307.2h0.9M142.3 310.0h0.9M146.0 322.7h0.9M180.2 301.9h0.9M186.0 325.8h0.9M151.6 323.1h0.9M183.0 318.8h0.9M150.3 315.5h0.9M172.9 306.5h0.9M156.6 298.8h0.9M138.7 320.7h0.9M147.3 317.8h0.9M154.0 318.0h0.9M146.0 298.7h0.9M167.4 304.0h0.9M141.5 310.4h0.9M157.8 323.6h0.9M169.0 309.5h0.9M154.7 314.6h0.9M137.3 305.2h0.9M163.8 325.1h0.9M163.7 302.5h0.9M184.2 320.7h0.9M142.5 307.4h0.9M131.9 319.6h0.9M142.2 321.6h0.9M170.2 320.1h0.9M161.6 303.5h0.9M132.0 314.4h0.9M130.7 312.1h0.9M173.3 300.4h0.9M154.5 312.8h0.9M138.4 302.2h0.9M164.2 301.4h0.9M138.5 302.8h0.9M182.5 323.8h0.9M136.2 313.8h0.9M153.0 297.0h0.9M144.1 316.2h0.9M131.1 325.7h0.9M146.0 306.8h0.9M158.8 282.2h0.9M139.1 287.6h0.9M143.5 285.1h0.9M150.0 295.2h0.9M146.0 280.7h0.9M145.0 293.6h0.9M146.4 281.0h0.9M142.0 283.6h0.9M144.4 285.1h0.9M152.1 291.5h0.9M137.1 282.3h0.9M155.7 294.0h0.9M154.9 282.8h0.9M152.6 281.2h0.9M152.2 283.5h0.9M156.2 293.5h0.9M147.2 291.6h0.9M158.7 294.3h0.9M151.5 289.9h0.9M144.6 290.9h0.9M139.4 287.3h0.9M138.0 281.5h0.9M152.0 286.8h0.9M141.0 295.2h0.9M143.0 288.6h0.9M147.8 283.0h0.9M159.8 292.1h0.9M157.4 284.8h0.9M157.9 294.6h0.9M158.6 282.8h0.9M164.0 264.8h0.9M162.3 285.8h0.9M161.3 277.8h0.9M169.2 286.8h0.9M161.2 286.5h0.9M184.9 272.1h0.9M170.5 287.2h0.9M167.9 290.8h0.9M185.9 269.6h0.9M172.2 267.0h0.9M174.5 275.4h0.9M185.3 286.7h0.9M185.8 289.6h0.9M181.4 275.0h0.9M177.3 265.8h0.9M169.0 293.3h0.9M185.5 267.9h0.9M172.9 275.8h0.9" stroke="#767676" stroke-width="0.90" fill="none"/>
<rect x="127.9" y="217.5" width="119.4" height="109.6" fill="none" stroke="#111" stroke-width="1.3"/>
<path d="M158.7 217.5V327.1M127.9 296.0H247.3" stroke="#000" stroke-width="1.25" fill="none"/>
<path d="M127.90 327.1v4.6M127.9 327.10h-5.8M157.75 327.1v4.6M127.9 299.70h-5.8M187.60 327.1v4.6M127.9 272.30h-5.8M217.45 327.1v4.6M127.9 244.90h-5.8M247.30 327.1v4.6M127.9 217.50h-5.8" stroke="#111" stroke-width="1.3" fill="none"/>
<path d="M136.89 327.1v2.4M127.9 318.85h-2.9M142.14 327.1v2.4M127.9 314.03h-2.9M145.87 327.1v2.4M127.9 310.60h-2.9M148.76 327.1v2.4M127.9 307.95h-2.9M151.13 327.1v2.4M127.9 305.78h-2.9M153.13 327.1v2.4M127.9 303.94h-2.9M154.86 327.1v2.4M127.9 302.36h-2.9M156.38 327.1v2.4M127.9 300.95h-2.9M166.74 327.1v2.4M127.9 291.45h-2.9M171.99 327.1v2.4M127.9 286.63h-2.9M175.72 327.1v2.4M127.9 283.20h-2.9M178.61 327.1v2.4M127.9 280.55h-2.9M180.98 327.1v2.4M127.9 278.38h-2.9M182.98 327.1v2.4M127.9 276.54h-2.9M184.71 327.1v2.4M127.9 274.96h-2.9M186.23 327.1v2.4M127.9 273.55h-2.9M196.59 327.1v2.4M127.9 264.05h-2.9M201.84 327.1v2.4M127.9 259.23h-2.9M205.57 327.1v2.4M127.9 255.80h-2.9M208.46 327.1v2.4M127.9 253.15h-2.9M210.83 327.1v2.4M127.9 250.98h-2.9M212.83 327.1v2.4M127.9 249.14h-2.9M214.56 327.1v2.4M127.9 247.56h-2.9M216.08 327.1v2.4M127.9 246.15h-2.9M226.44 327.1v2.4M127.9 236.65h-2.9M231.69 327.1v2.4M127.9 231.83h-2.9M235.42 327.1v2.4M127.9 228.40h-2.9M238.31 327.1v2.4M127.9 225.75h-2.9M240.68 327.1v2.4M127.9 223.58h-2.9M242.68 327.1v2.4M127.9 221.74h-2.9M244.41 327.1v2.4M127.9 220.16h-2.9M245.93 327.1v2.4M127.9 218.75h-2.9" stroke="#111" stroke-width="1.1" fill="none"/>
<text transform="translate(121.9 344.0) scale(0.76 1)" font-family="Liberation Sans, sans-serif" font-size="11" fill="#111" stroke="#111" stroke-width="0.45">10</text>
<text x="130.5" y="337.7" font-family="Liberation Sans, sans-serif" font-size="9.2" fill="#111" stroke="#111" stroke-width="0.3">0</text>
<text transform="translate(120.7 335.3) rotate(-90) scale(0.8 1)" font-family="Liberation Sans, sans-serif" font-size="10" fill="#111" stroke="#111" stroke-width="0.5">10</text>
<text transform="translate(113.4 326.7) rotate(-90) scale(1.3 1)" font-family="Liberation Sans, sans-serif" font-size="8.8" fill="#111" stroke="#111" stroke-width="0.3">0</text>
<text transform="translate(151.8 344.0) scale(0.76 1)" font-family="Liberation Sans, sans-serif" font-size="11" fill="#111" stroke="#111" stroke-width="0.45">10</text>
<text x="160.3" y="337.7" font-family="Liberation Sans, sans-serif" font-size="9.2" fill="#111" stroke="#111" stroke-width="0.3">1</text>
<text transform="translate(120.7 307.9) rotate(-90) scale(0.8 1)" font-family="Liberation Sans, sans-serif" font-size="10" fill="#111" stroke="#111" stroke-width="0.5">10</text>
<text transform="translate(113.4 299.3) rotate(-90) scale(1.3 1)" font-family="Liberation Sans, sans-serif" font-size="8.8" fill="#111" stroke="#111" stroke-width="0.3">1</text>
<text transform="translate(181.6 344.0) scale(0.76 1)" font-family="Liberation Sans, sans-serif" font-size="11" fill="#111" stroke="#111" stroke-width="0.45">10</text>
<text x="190.2" y="337.7" font-family="Liberation Sans, sans-serif" font-size="9.2" fill="#111" stroke="#111" stroke-width="0.3">2</text>
<text transform="translate(120.7 280.5) rotate(-90) scale(0.8 1)" font-family="Liberation Sans, sans-serif" font-size="10" fill="#111" stroke="#111" stroke-width="0.5">10</text>
<text transform="translate(113.4 271.9) rotate(-90) scale(1.3 1)" font-family="Liberation Sans, sans-serif" font-size="8.8" fill="#111" stroke="#111" stroke-width="0.3">2</text>
<text transform="translate(211.5 344.0) scale(0.76 1)" font-family="Liberation Sans, sans-serif" font-size="11" fill="#111" stroke="#111" stroke-width="0.45">10</text>
<text x="220.1" y="337.7" font-family="Liberation Sans, sans-serif" font-size="9.2" fill="#111" stroke="#111" stroke-width="0.3">3</text>
<text transform="translate(120.7 253.1) rotate(-90) scale(0.8 1)" font-family="Liberation Sans, sans-serif" font-size="10" fill="#111" stroke="#111" stroke-width="0.5">10</text>
<text transform="translate(113.4 244.5) rotate(-90) scale(1.3 1)" font-family="Liberation Sans, sans-serif" font-size="8.8" fill="#111" stroke="#111" stroke-width="0.3">3</text>
<text transform="translate(241.3 344.0) scale(0.76 1)" font-family="Liberation Sans, sans-serif" font-size="11" fill="#111" stroke="#111" stroke-width="0.45">10</text>
<text x="249.9" y="337.7" font-family="Liberation Sans, sans-serif" font-size="9.2" fill="#111" stroke="#111" stroke-width="0.3">4</text>
<text transform="translate(120.7 225.7) rotate(-90) scale(0.8 1)" font-family="Liberation Sans, sans-serif" font-size="10" fill="#111" stroke="#111" stroke-width="0.5">10</text>
<text transform="translate(113.4 217.1) rotate(-90) scale(1.3 1)" font-family="Liberation Sans, sans-serif" font-size="8.8" fill="#111" stroke="#111" stroke-width="0.3">4</text>
<text x="161.6" y="233.9" font-family="Liberation Sans, sans-serif" font-size="13.7" fill="#111" stroke="#111" stroke-width="0.25">HIV+ Stage B</text>
<path d="M211.0 180.0V213.8M179.6 195.4H240.5" stroke="#111" stroke-width="1.1" fill="none"/>
<text x="205.9" y="190.8" font-family="Liberation Sans, sans-serif" font-size="13.2" fill="#111" stroke="#111" stroke-width="0.25" text-anchor="end">2</text>
<text x="221.6" y="190.8" font-family="Liberation Sans, sans-serif" font-size="13.2" fill="#111" stroke="#111" stroke-width="0.25" text-anchor="start">8</text>
<text x="205.7" y="210.2" font-family="Liberation Sans, sans-serif" font-size="13.2" fill="#111" stroke="#111" stroke-width="0.25" text-anchor="end">52</text>
<text x="214.5" y="210.2" font-family="Liberation Sans, sans-serif" font-size="13.2" fill="#111" stroke="#111" stroke-width="0.25" text-anchor="start">38</text>
<path d="M299.2 302.3h0.9M305.0 320.7h0.9M294.5 311.3h0.9M302.6 290.9h0.9M296.7 307.2h0.9M306.7 303.6h0.9M318.3 311.2h0.9M302.0 298.3h0.9M307.5 304.1h0.9M313.2 301.8h0.9M314.4 305.3h0.9M307.6 306.4h0.9M310.5 314.8h0.9M302.6 302.7h0.9M319.1 313.6h0.9M319.2 313.7h0.9M307.2 317.6h0.9M301.7 305.5h0.9M303.5 312.1h0.9M300.5 307.0h0.9M300.5 306.6h0.9M313.9 314.6h0.9M304.8 323.1h0.9M301.5 310.7h0.9M303.0 294.9h0.9M298.2 315.3h0.9M295.0 325.3h0.9M305.4 309.6h0.9M314.8 308.2h0.9M301.9 304.4h0.9M299.8 311.3h0.9M303.0 311.0h0.9M296.0 305.5h0.9M320.2 310.2h0.9M305.5 315.0h0.9M308.1 317.1h0.9M298.3 312.6h0.9M299.0 312.0h0.9M322.9 317.1h0.9M300.4 310.5h0.9M309.3 303.7h0.9M307.9 301.7h0.9M312.8 313.4h0.9M305.1 312.1h0.9M322.4 307.1h0.9M293.5 310.0h0.9M303.1 303.4h0.9M312.3 313.9h0.9M310.3 317.7h0.9M301.9 305.5h0.9M309.1 292.0h0.9M287.6 310.1h0.9M304.8 308.4h0.9M299.7 309.4h0.9M313.4 304.3h0.9M310.0 307.1h0.9M305.1 308.7h0.9M316.5 311.1h0.9M310.9 308.9h0.9M291.6 313.6h0.9M306.1 308.6h0.9M302.7 298.9h0.9M316.3 318.9h0.9M316.9 297.1h0.9M309.9 301.0h0.9M304.9 305.0h0.9M301.9 303.4h0.9M302.9 312.6h0.9M317.1 313.5h0.9M306.1 307.2h0.9M304.5 307.9h0.9M301.9 307.0h0.9M311.9 306.7h0.9M300.6 307.3h0.9M306.7 307.5h0.9M304.4 312.2h0.9M305.8 302.0h0.9M310.0 303.8h0.9M311.4 312.9h0.9M309.4 309.8h0.9M296.9 306.8h0.9M307.0 311.8h0.9M298.5 307.1h0.9M295.6 309.1h0.9M306.7 308.7h0.9M317.4 312.4h0.9M304.8 304.6h0.9M303.1 312.7h0.9M312.4 305.0h0.9M305.3 305.4h0.9M310.8 309.1h0.9M301.2 302.8h0.9M315.0 299.7h0.9M293.7 289.8h0.9M320.0 304.8h0.9M312.0 311.3h0.9M311.9 314.8h0.9M302.9 307.9h0.9M312.9 311.3h0.9M300.9 303.5h0.9M296.2 309.6h0.9M302.5 298.8h0.9M302.3 309.9h0.9M307.4 306.7h0.9M307.2 311.9h0.9M297.9 303.2h0.9M312.8 312.4h0.9M296.5 303.7h0.9M316.1 312.5h0.9M305.1 314.1h0.9M315.5 316.4h0.9M296.6 300.3h0.9M302.6 307.7h0.9M303.7 309.5h0.9M316.3 314.5h0.9M313.0 308.0h0.9M317.5 310.7h0.9M307.8 307.9h0.9M293.5 320.8h0.9M306.0 313.3h0.9M321.7 306.9h0.9M298.1 314.1h0.9M307.8 302.4h0.9M312.8 308.1h0.9M299.6 293.0h0.9M299.3 310.3h0.9M299.0 313.8h0.9M321.3 309.9h0.9M307.7 307.6h0.9M312.1 308.2h0.9M313.3 316.4h0.9M312.0 302.3h0.9M310.7 306.5h0.9M308.3 313.8h0.9M301.6 309.2h0.9M316.3 303.1h0.9M304.8 312.3h0.9M304.5 314.1h0.9M299.2 299.1h0.9M308.7 307.2h0.9M308.3 313.7h0.9M313.4 306.0h0.9M303.5 296.6h0.9M299.4 309.5h0.9M307.6 299.3h0.9M311.6 307.8h0.9M313.7 305.9h0.9M312.8 301.5h0.9M293.3 303.3h0.9M311.0 310.4h0.9M293.1 308.9h0.9M310.8 317.9h0.9M311.5 311.0h0.9M295.2 310.2h0.9M292.5 306.3h0.9M303.6 302.3h0.9M299.1 307.2h0.9M310.1 304.2h0.9M308.2 312.2h0.9M306.0 319.3h0.9M304.0 303.7h0.9M293.0 314.3h0.9M310.8 306.9h0.9M308.3 307.3h0.9M312.2 308.0h0.9M307.7 307.6h0.9M300.0 295.0h0.9M309.9 300.7h0.9M308.9 311.8h0.9M319.2 303.6h0.9M307.2 313.6h0.9M301.5 304.6h0.9M309.2 320.2h0.9M313.6 313.6h0.9M299.5 311.9h0.9M314.0 300.6h0.9M306.2 306.9h0.9M310.6 297.8h0.9M311.0 308.0h0.9M304.3 295.6h0.9M291.8 304.8h0.9M310.6 310.5h0.9M311.3 298.0h0.9M307.5 315.9h0.9M295.4 311.8h0.9M301.1 311.2h0.9M306.8 298.5h0.9M298.8 315.5h0.9M305.4 315.3h0.9M308.5 313.3h0.9M303.4 309.3h0.9M303.5 313.3h0.9M302.1 314.5h0.9M317.0 300.9h0.9M304.9 311.2h0.9M318.4 314.8h0.9M306.7 297.9h0.9M311.9 304.6h0.9M307.5 310.4h0.9M296.3 314.3h0.9M312.5 311.4h0.9M310.2 310.1h0.9M296.4 305.0h0.9M311.8 306.1h0.9M306.3 310.2h0.9M306.7 309.5h0.9M309.5 308.0h0.9M298.5 306.4h0.9M312.7 304.0h0.9M309.4 309.8h0.9M300.0 291.5h0.9M306.0 303.5h0.9M301.8 313.5h0.9M300.8 310.1h0.9M306.9 309.2h0.9M319.9 296.5h0.9M312.8 307.2h0.9M304.2 304.1h0.9M306.4 308.3h0.9M299.8 317.6h0.9M301.0 307.2h0.9M297.3 308.9h0.9M308.6 314.4h0.9M312.9 305.1h0.9M317.2 307.4h0.9M316.8 318.0h0.9M303.3 301.7h0.9M309.8 316.4h0.9M308.9 314.4h0.9M310.2 313.2h0.9M315.3 306.3h0.9M296.3 307.3h0.9M300.6 301.0h0.9M304.9 312.2h0.9M293.4 299.2h0.9M311.6 302.8h0.9M303.4 315.9h0.9M313.9 310.1h0.9M309.8 292.1h0.9M309.9 310.2h0.9M296.5 309.1h0.9M309.3 307.3h0.9M311.6 313.2h0.9M306.5 306.6h0.9M297.9 314.7h0.9M302.1 309.9h0.9M316.7 312.5h0.9M297.3 307.5h0.9M301.2 298.4h0.9M300.6 311.4h0.9M308.4 306.8h0.9M307.3 301.2h0.9M300.8 307.0h0.9M311.6 306.1h0.9M304.9 310.0h0.9M316.2 300.6h0.9M309.8 309.1h0.9M305.6 309.5h0.9M292.4 308.2h0.9M304.4 300.8h0.9M311.9 307.3h0.9M303.7 312.4h0.9M299.7 303.8h0.9M311.8 313.1h0.9M320.0 305.3h0.9M296.1 299.3h0.9M297.8 308.6h0.9M304.4 304.1h0.9M299.1 303.9h0.9M303.6 314.9h0.9M310.4 316.0h0.9M311.7 312.4h0.9M314.2 310.6h0.9M316.7 314.6h0.9M318.6 309.3h0.9M300.7 322.7h0.9M304.1 311.0h0.9M303.5 303.9h0.9M309.1 301.5h0.9M305.0 316.2h0.9M306.9 312.8h0.9M310.5 310.3h0.9M306.8 311.6h0.9M299.4 311.4h0.9M298.7 303.6h0.9M302.0 300.2h0.9M292.5 310.2h0.9M309.5 311.9h0.9M321.3 309.0h0.9M311.2 303.7h0.9M310.9 301.3h0.9M319.7 302.4h0.9M303.2 312.4h0.9M290.9 315.8h0.9M299.5 309.2h0.9M312.8 308.9h0.9M312.5 305.1h0.9M310.2 295.3h0.9M316.5 304.1h0.9M300.1 308.1h0.9M317.8 303.9h0.9M305.9 305.9h0.9M299.6 300.4h0.9M310.1 312.1h0.9M300.9 309.3h0.9M309.1 310.2h0.9M304.9 308.3h0.9M307.9 301.8h0.9M305.0 312.6h0.9M302.2 315.7h0.9M304.4 301.6h0.9M304.0 300.1h0.9M310.2 298.7h0.9M306.1 306.6h0.9M303.9 310.5h0.9M308.0 304.7h0.9M311.7 305.4h0.9M312.2 315.8h0.9M308.6 313.4h0.9M296.8 311.3h0.9M295.7 307.0h0.9M310.8 292.4h0.9M300.6 303.5h0.9M299.5 308.1h0.9M310.4 301.3h0.9M301.7 297.2h0.9M301.2 295.8h0.9M295.6 310.7h0.9M312.1 303.3h0.9M308.4 303.5h0.9M313.4 318.2h0.9M289.0 303.0h0.9M301.6 305.2h0.9M316.8 317.2h0.9M305.9 311.7h0.9M295.0 306.3h0.9M304.0 307.1h0.9M308.1 298.9h0.9M298.8 320.5h0.9M294.0 308.3h0.9M311.0 310.9h0.9M306.4 298.6h0.9M302.8 298.9h0.9M319.6 310.1h0.9M311.0 309.2h0.9M303.3 314.9h0.9M312.1 311.7h0.9M310.0 312.3h0.9M304.1 310.5h0.9M306.6 306.5h0.9M310.5 320.5h0.9M292.0 316.4h0.9M303.0 315.0h0.9M299.0 306.9h0.9M313.1 307.6h0.9M308.4 300.9h0.9M298.1 317.7h0.9M307.1 307.5h0.9M296.5 302.0h0.9M298.9 307.7h0.9M305.2 304.4h0.9M301.4 308.6h0.9M314.1 299.8h0.9M296.2 314.6h0.9M296.2 305.6h0.9M306.8 318.6h0.9M291.9 291.1h0.9M305.5 314.3h0.9M307.0 303.3h0.9M307.3 296.0h0.9M311.7 316.6h0.9M304.6 312.8h0.9M298.7 316.6h0.9M301.5 303.3h0.9M300.7 297.7h0.9M310.6 319.7h0.9M296.1 306.8h0.9M309.1 304.7h0.9M295.2 310.0h0.9M312.9 308.6h0.9M298.6 306.2h0.9M292.7 307.7h0.9M314.4 314.5h0.9M305.4 310.5h0.9M302.4 308.8h0.9M301.9 309.0h0.9M302.4 309.1h0.9M310.8 307.9h0.9M297.1 310.9h0.9M304.3 305.1h0.9M309.9 303.1h0.9M312.4 311.3h0.9M301.2 303.9h0.9M305.2 302.7h0.9M312.5 294.8h0.9M307.0 306.0h0.9M298.4 311.7h0.9M302.7 310.7h0.9M303.0 306.4h0.9M309.6 313.6h0.9M312.9 307.9h0.9M316.2 306.0h0.9M296.6 297.1h0.9M296.0 302.9h0.9M293.7 309.9h0.9M306.2 307.8h0.9M307.6 307.4h0.9M304.3 306.1h0.9M306.3 301.4h0.9M314.8 317.0h0.9M306.2 321.3h0.9M299.3 313.3h0.9M294.8 311.5h0.9M300.9 313.9h0.9M306.8 313.6h0.9M310.2 311.1h0.9M304.1 317.3h0.9M308.5 310.8h0.9M315.9 306.5h0.9M318.0 314.4h0.9M306.6 299.5h0.9M314.4 306.2h0.9M306.7 308.7h0.9M312.6 311.7h0.9M293.5 304.2h0.9M308.4 309.0h0.9M311.5 311.3h0.9M317.2 303.8h0.9M315.0 310.3h0.9M308.1 312.0h0.9M303.7 312.2h0.9M304.6 312.2h0.9M300.8 314.9h0.9M295.6 304.2h0.9M305.7 309.4h0.9M300.5 305.7h0.9M307.8 314.2h0.9M314.9 305.2h0.9M305.6 306.2h0.9M295.5 305.4h0.9M313.8 300.1h0.9M325.7 313.7h0.9M317.9 309.1h0.9M290.2 310.6h0.9M317.0 304.6h0.9M314.8 312.5h0.9M311.4 312.4h0.9M310.1 311.8h0.9M314.2 310.5h0.9M310.4 310.5h0.9M307.0 302.9h0.9M293.7 302.1h0.9M297.5 299.3h0.9M310.8 306.1h0.9M311.4 305.3h0.9M308.7 306.8h0.9M308.0 320.2h0.9M317.0 315.5h0.9M308.0 318.5h0.9M311.7 313.2h0.9M298.0 304.4h0.9M307.2 306.7h0.9M302.5 296.3h0.9M300.9 307.4h0.9M308.2 301.7h0.9M305.1 318.7h0.9M307.1 296.5h0.9M304.8 308.0h0.9M314.8 309.2h0.9M315.5 310.0h0.9M314.1 316.0h0.9M316.6 309.2h0.9M297.7 309.2h0.9M309.3 303.9h0.9M311.8 307.1h0.9M311.5 309.2h0.9M299.7 314.2h0.9M319.9 313.5h0.9M308.0 297.9h0.9M308.3 307.9h0.9M300.6 296.8h0.9M309.1 313.8h0.9M311.0 321.4h0.9M293.0 310.1h0.9M305.9 316.4h0.9M305.8 302.3h0.9M305.7 310.6h0.9M301.0 303.4h0.9M307.9 313.2h0.9M304.5 310.9h0.9M302.6 306.0h0.9M307.4 313.7h0.9M317.0 307.3h0.9M309.2 319.6h0.9M311.8 305.9h0.9M308.9 299.6h0.9M291.7 303.5h0.9M301.2 300.1h0.9M313.1 305.4h0.9M306.7 308.5h0.9M304.7 301.1h0.9M319.4 296.3h0.9M305.9 312.1h0.9M304.7 307.4h0.9M308.2 309.4h0.9M303.8 314.4h0.9M309.6 316.9h0.9M306.7 296.3h0.9M294.8 305.0h0.9M309.2 298.4h0.9M302.2 315.4h0.9M308.4 303.8h0.9M305.3 308.7h0.9M303.2 306.2h0.9M301.8 309.3h0.9M316.9 316.6h0.9M297.6 321.7h0.9M305.3 299.8h0.9M295.9 308.9h0.9M307.7 304.3h0.9M300.6 306.8h0.9M307.9 312.0h0.9M309.9 294.0h0.9M302.0 309.6h0.9M308.7 312.8h0.9M295.9 317.3h0.9M298.0 306.8h0.9M302.9 305.2h0.9M300.8 312.9h0.9M311.5 310.1h0.9M297.4 304.3h0.9M305.7 310.4h0.9M302.3 306.5h0.9M324.0 308.4h0.9M304.1 293.5h0.9M301.0 317.7h0.9M311.9 301.0h0.9M311.5 309.0h0.9M300.7 312.7h0.9M302.0 306.3h0.9M306.3 309.3h0.9M303.1 309.8h0.9M306.1 309.2h0.9M308.8 304.3h0.9M296.8 307.6h0.9M314.5 310.0h0.9M307.7 303.7h0.9M298.4 300.7h0.9M299.9 305.8h0.9M295.6 307.3h0.9M295.4 311.9h0.9M305.9 297.7h0.9M302.4 309.4h0.9M308.7 312.6h0.9M303.7 307.2h0.9M304.5 311.3h0.9M301.4 307.1h0.9M307.1 306.0h0.9M298.8 316.1h0.9M309.5 302.7h0.9M319.5 303.5h0.9M300.2 305.9h0.9M309.8 316.9h0.9M315.4 311.3h0.9M306.6 312.0h0.9M300.8 303.9h0.9M309.7 309.2h0.9M307.7 302.0h0.9M307.8 299.5h0.9M312.4 308.1h0.9M301.8 305.3h0.9M301.4 316.1h0.9M306.3 309.6h0.9M299.6 300.3h0.9M307.7 305.4h0.9M309.5 314.3h0.9M305.3 311.2h0.9M307.3 309.4h0.9M302.6 309.5h0.9M309.1 308.5h0.9M303.1 299.5h0.9M298.9 317.3h0.9M313.0 309.8h0.9M308.1 307.2h0.9M310.7 313.7h0.9M304.4 309.9h0.9M312.6 298.7h0.9M299.8 304.7h0.9M298.3 305.5h0.9M300.4 305.7h0.9M309.4 301.1h0.9M306.8 316.2h0.9M307.4 300.8h0.9M302.0 314.9h0.9M304.4 304.3h0.9M311.4 303.8h0.9M298.6 311.7h0.9M306.3 304.2h0.9M309.3 314.6h0.9M313.4 308.7h0.9M309.2 311.0h0.9M296.1 317.9h0.9M301.7 304.8h0.9M300.6 302.4h0.9M313.5 308.1h0.9M302.2 297.3h0.9M307.3 307.8h0.9M299.2 307.5h0.9M293.8 311.9h0.9M297.9 311.0h0.9M306.8 295.5h0.9M298.6 304.2h0.9M311.5 311.6h0.9M310.4 317.9h0.9M304.2 305.1h0.9M293.5 302.0h0.9M309.9 303.1h0.9M300.2 313.7h0.9M289.5 316.3h0.9M314.8 297.5h0.9M309.3 308.0h0.9M312.3 306.1h0.9M305.3 316.4h0.9M302.1 310.5h0.9M310.4 307.4h0.9M312.0 311.1h0.9M311.7 298.0h0.9M299.2 309.8h0.9M314.0 316.5h0.9M306.2 303.7h0.9M298.8 296.6h0.9M302.8 311.5h0.9M305.7 299.3h0.9M305.5 308.4h0.9M301.1 316.7h0.9M309.1 314.6h0.9M306.8 302.3h0.9M313.4 314.6h0.9M302.2 300.2h0.9M311.6 304.7h0.9M298.3 307.6h0.9M309.9 303.6h0.9M306.4 313.9h0.9M311.2 298.9h0.9M311.0 318.5h0.9M312.3 307.6h0.9M308.6 298.8h0.9M302.2 305.0h0.9M320.1 308.1h0.9M299.6 318.1h0.9M314.4 298.3h0.9M304.8 298.1h0.9M313.1 294.6h0.9M318.6 301.8h0.9M299.1 320.6h0.9M309.7 310.2h0.9M311.9 302.2h0.9M312.0 306.4h0.9M309.6 309.4h0.9M315.4 300.5h0.9M296.8 311.9h0.9M322.0 311.3h0.9M305.0 312.0h0.9M298.0 308.6h0.9M294.9 308.8h0.9M311.0 318.1h0.9M302.8 313.6h0.9M315.2 301.9h0.9M304.3 297.1h0.9M300.3 310.7h0.9M292.5 306.3h0.9M311.0 316.6h0.9M289.4 310.3h0.9M302.0 294.4h0.9M299.3 311.6h0.9M306.0 312.2h0.9M304.1 312.0h0.9M299.6 302.3h0.9M305.1 297.7h0.9M314.4 306.6h0.9M299.6 302.9h0.9M299.7 308.8h0.9M303.7 313.2h0.9M298.4 307.6h0.9M296.0 305.3h0.9M315.2 307.3h0.9M312.1 307.7h0.9M298.8 302.8h0.9M298.6 310.1h0.9M307.7 325.5h0.9M317.3 313.1h0.9M299.6 308.7h0.9M300.1 322.0h0.9M301.3 315.0h0.9M297.1 312.6h0.9M297.9 305.3h0.9M307.3 308.9h0.9M305.7 307.7h0.9M300.4 307.4h0.9M305.7 302.5h0.9M309.9 309.1h0.9M301.1 315.8h0.9M302.3 296.8h0.9M314.6 305.8h0.9M315.9 310.6h0.9M300.2 314.7h0.9M309.2 313.6h0.9M306.4 317.3h0.9M312.3 306.1h0.9M296.0 307.8h0.9M306.6 302.2h0.9M304.8 317.0h0.9M303.0 314.8h0.9M299.9 302.3h0.9M312.4 307.0h0.9M307.6 314.2h0.9M317.0 300.7h0.9M310.0 309.4h0.9M307.1 318.7h0.9M304.5 304.5h0.9M309.5 296.0h0.9M308.6 302.7h0.9M308.3 303.6h0.9M309.5 306.6h0.9M301.3 311.3h0.9M311.1 298.5h0.9M297.5 306.5h0.9M303.6 316.0h0.9M316.7 310.9h0.9M313.4 306.1h0.9M297.0 309.9h0.9M294.3 317.8h0.9M307.8 315.0h0.9M301.8 298.4h0.9M304.8 311.0h0.9M304.7 305.0h0.9M306.6 306.9h0.9M315.4 300.2h0.9M291.3 307.5h0.9M307.9 298.9h0.9M305.8 310.7h0.9M308.3 309.9h0.9M301.1 299.4h0.9M312.5 306.0h0.9M296.9 317.3h0.9M311.0 291.3h0.9M323.4 308.9h0.9M295.3 313.8h0.9M308.3 315.5h0.9M306.2 298.1h0.9M305.0 305.5h0.9M308.0 306.9h0.9M309.8 300.8h0.9M302.4 305.0h0.9M308.9 297.8h0.9M306.1 322.3h0.9M294.0 314.2h0.9M306.7 314.0h0.9M306.4 309.6h0.9M308.5 310.8h0.9M298.0 307.2h0.9M318.3 316.5h0.9M300.4 302.4h0.9M304.9 314.4h0.9M312.2 304.5h0.9M290.2 307.8h0.9M294.9 315.2h0.9M316.0 312.0h0.9M310.1 311.4h0.9M318.4 314.5h0.9M315.7 301.2h0.9M302.6 308.0h0.9M291.1 306.3h0.9M305.9 307.6h0.9M323.0 306.8h0.9M304.7 307.3h0.9M303.8 299.5h0.9M313.6 308.2h0.9M308.5 308.2h0.9M300.8 298.5h0.9M304.1 311.2h0.9M305.2 312.4h0.9M300.8 306.3h0.9M307.1 307.4h0.9M307.2 316.6h0.9M303.2 308.8h0.9M301.7 311.3h0.9M307.6 303.6h0.9M299.3 300.9h0.9M304.2 308.9h0.9M302.7 307.4h0.9M307.0 322.1h0.9M314.0 321.9h0.9M307.0 309.3h0.9M319.1 310.3h0.9M310.4 305.0h0.9M302.4 312.7h0.9M302.0 304.1h0.9M296.0 309.8h0.9M305.4 311.3h0.9M300.2 300.6h0.9M313.5 308.2h0.9M311.3 301.2h0.9M297.3 292.9h0.9M308.0 313.9h0.9M314.9 318.6h0.9M293.8 301.5h0.9M302.5 303.3h0.9M304.6 303.2h0.9M296.2 307.8h0.9M306.9 303.4h0.9M306.2 300.2h0.9M303.8 306.0h0.9M303.0 307.6h0.9M297.5 300.0h0.9M300.4 312.4h0.9M299.6 302.4h0.9M319.3 306.5h0.9M303.4 302.7h0.9M315.9 311.2h0.9M307.8 317.5h0.9M298.0 297.9h0.9M313.5 310.6h0.9M302.6 312.8h0.9M305.4 319.7h0.9M297.5 310.2h0.9M312.6 313.3h0.9M303.6 305.6h0.9M303.1 312.1h0.9M303.3 307.2h0.9M312.9 307.3h0.9M307.7 307.3h0.9M306.1 294.7h0.9M299.7 310.2h0.9M301.7 304.3h0.9M306.4 321.7h0.9M300.9 302.3h0.9M293.9 310.8h0.9M305.6 303.0h0.9M303.2 313.9h0.9M312.9 310.2h0.9M313.8 314.1h0.9M302.9 312.8h0.9M307.1 312.6h0.9M307.9 320.8h0.9M297.6 310.2h0.9M298.7 321.9h0.9M302.5 305.8h0.9M305.9 307.7h0.9M317.5 307.7h0.9M307.7 314.4h0.9M316.2 302.2h0.9M308.0 300.0h0.9M309.3 316.5h0.9M302.5 306.3h0.9M314.0 310.6h0.9M311.4 305.3h0.9M303.9 305.8h0.9M316.6 299.0h0.9M302.5 317.4h0.9M305.5 301.4h0.9M307.6 306.7h0.9M305.2 311.0h0.9M311.3 299.0h0.9M307.3 317.0h0.9M297.0 307.4h0.9M298.2 312.0h0.9M300.3 306.0h0.9M303.2 310.7h0.9M297.2 299.6h0.9M307.3 316.2h0.9M302.6 310.5h0.9M307.8 308.7h0.9M305.9 304.7h0.9M304.3 315.3h0.9M309.0 315.7h0.9M301.1 308.7h0.9M301.7 300.0h0.9M312.0 306.3h0.9M307.6 299.5h0.9M304.3 307.3h0.9M303.4 314.1h0.9M309.1 308.8h0.9M307.5 305.3h0.9M301.2 306.3h0.9M299.1 307.0h0.9M305.2 314.8h0.9M303.1 322.7h0.9M302.5 308.8h0.9M305.8 304.3h0.9M305.6 297.3h0.9M313.5 304.5h0.9M305.8 297.0h0.9M309.8 300.2h0.9M315.1 301.7h0.9M301.0 312.0h0.9M314.6 296.0h0.9M294.6 317.8h0.9M308.9 298.8h0.9M303.0 312.2h0.9M303.4 317.1h0.9M301.2 309.0h0.9M313.7 317.0h0.9M307.6 311.5h0.9M303.7 307.6h0.9M302.1 310.4h0.9M311.6 301.9h0.9M298.1 308.3h0.9M319.4 309.4h0.9M306.8 307.7h0.9M294.7 303.7h0.9M316.1 295.2h0.9M318.0 300.7h0.9M319.6 323.9h0.9M316.0 307.1h0.9M309.9 304.7h0.9M302.9 309.2h0.9M303.8 301.4h0.9M304.1 311.9h0.9M300.8 310.2h0.9M296.9 308.6h0.9M298.2 312.7h0.9M299.0 311.7h0.9M292.6 309.1h0.9M313.3 302.9h0.9M306.3 302.7h0.9M309.2 312.6h0.9M313.7 316.1h0.9M314.7 303.5h0.9M306.7 311.2h0.9M307.2 300.0h0.9M319.5 323.5h0.9M306.3 292.1h0.9M318.2 306.9h0.9M321.1 301.6h0.9M309.5 312.8h0.9M296.3 306.0h0.9M309.2 312.0h0.9M308.5 292.0h0.9M289.9 310.2h0.9M316.6 298.6h0.9M308.6 313.7h0.9M299.4 298.3h0.9M307.7 305.3h0.9M305.3 306.7h0.9M305.1 309.9h0.9M302.4 307.8h0.9M302.1 302.7h0.9M308.3 302.9h0.9M309.5 307.8h0.9M313.2 311.6h0.9M292.5 307.8h0.9M310.4 308.7h0.9M306.2 314.6h0.9M310.5 299.7h0.9M306.6 314.1h0.9M307.0 300.1h0.9M311.2 311.7h0.9M313.6 309.0h0.9M306.7 313.2h0.9M298.5 318.5h0.9M308.6 309.3h0.9M311.0 312.8h0.9M291.1 313.7h0.9M305.2 303.1h0.9M312.0 313.7h0.9M308.5 304.2h0.9M306.6 302.1h0.9M322.8 303.9h0.9M311.8 318.0h0.9M300.2 304.7h0.9M290.9 306.5h0.9M297.0 308.9h0.9M304.4 308.0h0.9M306.2 305.1h0.9M306.7 307.6h0.9M301.1 306.0h0.9M302.1 300.0h0.9M305.7 296.5h0.9M309.5 307.8h0.9M307.0 315.1h0.9M312.3 305.3h0.9M308.3 315.3h0.9M304.9 310.3h0.9M308.7 301.6h0.9M307.8 305.6h0.9M304.2 310.6h0.9M310.3 302.4h0.9M304.2 306.8h0.9M299.5 310.3h0.9M304.5 303.6h0.9M312.2 307.5h0.9M298.1 307.4h0.9M304.7 309.8h0.9M321.0 311.3h0.9M315.6 306.9h0.9M309.1 311.0h0.9M305.2 309.5h0.9M302.9 312.2h0.9M299.8 318.5h0.9M305.1 310.2h0.9M306.9 298.0h0.9M308.8 302.5h0.9M307.3 305.4h0.9M304.1 298.6h0.9M297.1 304.6h0.9M298.8 309.5h0.9M296.5 309.3h0.9M309.6 303.4h0.9M299.5 305.8h0.9M311.2 316.5h0.9M320.4 308.5h0.9M310.1 309.2h0.9M305.8 301.4h0.9M303.5 314.8h0.9M315.2 304.3h0.9M295.1 319.6h0.9M306.1 310.8h0.9M304.7 296.9h0.9M308.0 302.0h0.9M304.0 304.1h0.9M304.1 322.7h0.9M316.0 296.0h0.9M295.6 304.9h0.9M301.4 312.7h0.9M316.4 303.5h0.9M309.7 306.7h0.9M292.6 315.2h0.9M317.6 302.9h0.9M310.1 304.8h0.9M305.3 305.1h0.9M305.0 308.2h0.9M301.8 309.7h0.9M297.2 313.0h0.9M299.5 296.5h0.9M311.5 305.9h0.9M302.3 313.6h0.9M305.7 319.9h0.9M308.8 299.2h0.9M302.5 303.9h0.9M304.0 318.3h0.9M324.1 318.5h0.9M308.9 311.3h0.9M307.0 294.4h0.9M315.2 320.2h0.9M302.4 307.8h0.9M301.1 306.7h0.9M300.1 301.0h0.9M314.0 296.0h0.9M312.8 300.9h0.9M304.2 295.6h0.9M310.3 301.8h0.9M322.6 302.2h0.9M307.6 312.0h0.9M299.4 302.9h0.9M298.7 311.4h0.9M307.9 314.2h0.9M296.3 302.3h0.9M305.1 305.2h0.9M308.0 314.9h0.9M306.8 303.1h0.9M305.6 303.5h0.9M301.5 319.4h0.9M310.4 319.2h0.9M304.5 307.6h0.9M297.4 309.4h0.9M310.8 312.2h0.9M298.1 308.6h0.9M312.1 305.1h0.9M310.6 304.9h0.9M305.9 304.4h0.9M296.0 302.8h0.9M307.1 306.2h0.9M305.8 304.4h0.9M311.8 306.9h0.9M308.5 305.0h0.9M314.7 307.3h0.9M308.8 321.5h0.9M308.8 298.4h0.9M301.4 310.0h0.9M297.1 298.9h0.9M305.1 298.3h0.9M313.2 310.6h0.9M303.8 315.4h0.9M301.4 300.7h0.9M312.0 308.1h0.9M304.4 314.3h0.9M305.0 312.0h0.9M307.4 315.1h0.9M309.6 305.1h0.9M316.0 305.8h0.9M317.6 300.2h0.9M306.3 294.2h0.9M309.4 316.2h0.9M303.3 310.9h0.9M304.4 316.8h0.9M308.2 310.2h0.9M313.3 298.6h0.9M310.6 308.8h0.9M314.6 308.2h0.9M310.0 307.6h0.9M299.3 304.9h0.9M304.7 299.8h0.9M305.6 305.1h0.9M318.2 306.5h0.9M306.8 308.6h0.9M310.6 298.1h0.9M294.2 317.7h0.9M300.3 302.5h0.9M313.8 309.8h0.9M300.6 312.6h0.9M298.4 318.0h0.9M303.8 310.0h0.9M305.9 319.8h0.9M299.5 307.4h0.9M320.3 295.4h0.9M302.7 309.7h0.9M304.5 310.7h0.9M313.7 301.0h0.9M301.6 316.1h0.9M319.0 291.6h0.9M309.6 314.1h0.9M301.4 302.6h0.9M298.4 306.8h0.9M298.3 312.4h0.9M301.4 311.2h0.9M295.5 313.4h0.9M310.5 313.8h0.9M307.8 322.1h0.9M312.5 308.3h0.9M316.7 305.8h0.9M307.0 318.1h0.9M302.9 308.0h0.9M307.7 309.1h0.9M304.4 314.2h0.9M320.4 305.6h0.9M296.1 305.1h0.9M296.7 300.2h0.9M299.0 314.5h0.9M307.0 312.4h0.9M305.3 314.3h0.9M303.3 316.0h0.9M311.9 309.3h0.9M296.2 301.2h0.9M307.7 301.6h0.9M304.9 307.0h0.9M315.2 303.8h0.9M306.9 305.2h0.9M300.9 310.7h0.9M312.5 299.2h0.9M316.0 321.7h0.9M307.0 311.2h0.9M299.0 305.5h0.9M308.1 307.5h0.9M315.2 302.6h0.9M304.3 311.2h0.9M305.5 306.5h0.9M305.2 310.5h0.9M293.1 323.9h0.9M311.0 301.5h0.9M299.9 301.1h0.9M308.9 296.6h0.9M322.4 304.6h0.9M296.6 320.6h0.9M306.0 311.0h0.9M304.7 306.4h0.9M319.8 295.9h0.9M307.7 303.5h0.9M303.7 307.6h0.9M293.7 311.8h0.9M307.4 311.4h0.9M302.0 312.6h0.9M302.9 312.7h0.9M315.1 311.8h0.9M296.4 308.5h0.9M299.1 319.9h0.9M307.4 300.2h0.9M295.8 316.1h0.9M299.3 310.5h0.9M303.8 307.1h0.9M303.1 308.1h0.9M316.8 302.7h0.9M309.5 311.0h0.9M301.5 301.3h0.9M300.1 311.5h0.9M307.1 314.3h0.9M308.5 308.7h0.9M306.1 309.4h0.9M306.3 312.1h0.9M300.3 314.6h0.9M316.9 307.5h0.9M309.8 300.8h0.9M306.7 299.3h0.9M312.7 308.3h0.9M313.3 314.9h0.9M301.1 313.0h0.9M316.4 321.6h0.9M305.3 311.4h0.9M301.8 311.9h0.9M310.0 316.9h0.9M305.0 308.4h0.9M309.4 307.0h0.9M319.9 294.5h0.9M294.6 305.0h0.9M310.7 308.1h0.9M308.9 298.8h0.9M310.0 311.3h0.9M317.0 313.0h0.9M301.9 303.5h0.9M298.5 305.1h0.9M305.4 315.7h0.9M317.1 308.5h0.9M310.0 307.0h0.9M297.4 311.3h0.9M301.2 298.2h0.9M300.4 317.1h0.9M298.3 316.3h0.9M296.9 307.6h0.9M309.4 305.6h0.9M299.5 308.1h0.9M317.3 312.0h0.9M307.4 311.5h0.9M314.0 316.1h0.9M304.2 302.7h0.9M299.4 308.4h0.9M304.0 308.1h0.9M301.9 323.2h0.9M301.4 316.7h0.9M300.3 303.3h0.9M298.2 301.4h0.9M295.1 303.0h0.9M304.4 312.3h0.9M294.1 310.7h0.9M305.3 308.0h0.9M291.5 311.0h0.9M310.5 315.0h0.9M304.1 315.6h0.9M306.5 302.5h0.9M309.6 314.0h0.9M307.6 307.8h0.9M304.4 312.1h0.9M293.9 309.9h0.9M297.4 304.9h0.9M307.4 315.5h0.9M306.0 302.4h0.9M324.4 310.0h0.9M287.8 307.5h0.9M301.1 304.4h0.9M313.1 321.0h0.9M306.7 299.9h0.9M311.9 308.6h0.9M303.3 309.3h0.9M298.2 309.2h0.9M308.4 315.3h0.9M319.6 304.2h0.9M308.6 303.2h0.9M306.9 315.0h0.9M310.4 306.3h0.9M318.2 313.4h0.9M314.4 308.5h0.9M315.1 307.2h0.9M311.9 308.3h0.9M306.0 298.7h0.9M312.7 311.5h0.9M301.8 308.4h0.9M310.1 311.9h0.9M292.0 317.1h0.9M299.1 319.6h0.9M313.8 308.9h0.9M307.4 309.8h0.9M303.3 317.2h0.9M301.5 304.8h0.9M304.5 298.4h0.9M313.1 300.9h0.9M316.3 313.8h0.9M319.8 304.4h0.9M304.0 305.3h0.9M311.5 302.6h0.9M303.9 294.0h0.9M306.4 309.3h0.9M319.6 303.0h0.9M312.6 311.5h0.9M312.1 301.3h0.9M312.6 309.1h0.9M315.9 321.2h0.9M301.3 305.6h0.9M316.5 297.9h0.9M288.9 309.7h0.9M308.3 317.3h0.9M311.1 307.8h0.9M302.2 296.9h0.9M309.6 304.3h0.9M303.4 310.0h0.9M292.1 307.5h0.9M301.8 320.2h0.9M305.2 315.0h0.9M299.3 298.4h0.9M312.1 305.9h0.9M296.8 314.6h0.9M309.5 297.5h0.9M304.5 320.3h0.9M306.8 299.7h0.9M300.3 316.6h0.9M316.4 312.3h0.9M295.7 313.2h0.9M300.4 304.9h0.9M302.6 314.7h0.9M309.6 311.6h0.9M303.0 304.9h0.9M313.5 304.3h0.9M304.1 311.5h0.9M304.8 314.1h0.9M309.9 312.0h0.9M322.0 304.7h0.9M320.5 300.1h0.9M300.6 292.6h0.9M301.4 303.1h0.9M311.0 315.9h0.9M322.1 304.8h0.9M313.5 306.9h0.9M293.3 282.2h0.9M303.6 296.0h0.9M312.1 302.2h0.9M310.6 303.9h0.9M309.4 302.1h0.9M308.8 319.3h0.9M308.7 299.5h0.9M300.6 308.9h0.9M311.7 300.3h0.9M299.7 297.9h0.9M318.3 309.8h0.9M308.3 305.3h0.9M319.4 311.6h0.9M305.4 315.6h0.9M310.1 306.3h0.9M303.5 308.1h0.9M315.7 299.2h0.9M294.5 312.3h0.9M313.4 317.1h0.9M310.1 298.6h0.9M311.8 309.1h0.9M299.1 298.0h0.9M295.3 308.5h0.9M297.1 310.3h0.9M305.0 312.1h0.9M312.1 302.3h0.9M303.5 312.7h0.9M301.6 314.4h0.9M310.2 313.7h0.9M301.9 313.0h0.9M304.6 309.4h0.9M310.5 304.5h0.9M305.8 293.1h0.9M301.3 311.9h0.9M298.5 294.7h0.9M296.1 306.1h0.9M310.7 311.4h0.9M296.2 310.6h0.9M297.6 314.9h0.9M308.8 304.0h0.9M302.8 307.5h0.9M302.1 315.4h0.9M308.2 304.4h0.9M309.2 299.3h0.9M307.1 305.9h0.9M302.1 307.6h0.9M307.6 298.8h0.9M311.5 304.3h0.9M308.5 318.5h0.9M298.6 318.5h0.9M303.6 320.0h0.9M300.4 314.6h0.9M302.1 315.9h0.9M312.2 310.1h0.9M300.3 314.6h0.9M308.6 301.2h0.9M309.9 306.9h0.9M305.3 301.8h0.9M307.5 313.4h0.9M300.3 313.1h0.9M293.6 308.7h0.9M307.9 302.0h0.9M307.1 299.7h0.9M318.8 310.5h0.9M313.5 302.1h0.9M290.7 307.5h0.9M315.2 307.0h0.9M313.9 310.5h0.9M308.3 314.6h0.9M302.0 305.4h0.9M313.5 310.9h0.9M302.4 301.2h0.9M316.1 287.6h0.9M312.2 307.1h0.9M297.3 310.6h0.9M309.3 322.4h0.9M308.0 292.1h0.9M299.8 312.8h0.9M302.8 307.6h0.9M305.5 317.1h0.9M308.3 307.0h0.9M301.7 314.4h0.9M301.4 310.6h0.9M308.9 312.7h0.9M311.3 309.8h0.9M319.3 312.9h0.9M301.0 302.3h0.9M301.4 316.4h0.9M298.7 317.9h0.9M308.9 304.3h0.9M299.4 307.4h0.9M311.1 307.5h0.9M310.8 309.1h0.9M315.1 304.9h0.9M305.2 300.8h0.9M303.9 301.7h0.9M296.0 306.6h0.9M310.6 293.8h0.9M297.6 299.2h0.9M308.5 311.6h0.9M308.2 306.8h0.9M300.9 309.2h0.9M300.3 306.5h0.9M308.7 306.4h0.9M314.0 294.2h0.9M295.5 314.3h0.9M302.3 305.0h0.9M302.4 307.6h0.9M305.0 310.3h0.9M312.2 319.7h0.9M292.0 307.3h0.9M300.2 309.3h0.9M299.4 308.4h0.9M307.9 307.7h0.9M307.6 312.1h0.9M299.1 307.7h0.9M313.0 313.9h0.9M312.5 302.7h0.9M301.7 314.2h0.9M306.1 309.8h0.9M303.7 313.7h0.9M307.2 301.7h0.9M308.5 305.8h0.9M304.3 311.6h0.9M307.0 304.4h0.9M298.3 305.2h0.9M305.1 300.5h0.9M301.9 322.7h0.9M301.8 308.4h0.9M297.9 305.9h0.9M307.7 309.0h0.9M294.9 308.2h0.9M299.6 314.9h0.9M305.4 318.0h0.9M308.4 300.6h0.9M312.3 304.9h0.9M305.3 308.6h0.9M297.5 315.4h0.9M307.0 301.5h0.9M297.0 310.9h0.9M314.0 310.5h0.9M308.1 305.4h0.9M313.2 311.4h0.9M300.8 304.1h0.9M291.8 315.3h0.9M325.7 307.3h0.9M308.9 312.8h0.9M304.6 321.5h0.9M299.4 302.7h0.9M316.7 313.7h0.9M311.0 307.3h0.9M305.7 308.9h0.9M308.8 304.2h0.9M312.9 319.0h0.9M302.5 302.0h0.9M306.8 323.5h0.9M299.7 316.5h0.9M301.6 303.3h0.9M313.2 306.9h0.9M305.7 312.4h0.9M313.5 309.5h0.9M316.3 303.8h0.9M302.6 312.3h0.9M310.3 297.1h0.9M304.0 312.3h0.9M305.0 319.3h0.9M295.6 309.3h0.9M300.5 298.0h0.9M304.5 307.6h0.9M303.3 304.1h0.9M311.7 301.5h0.9M301.9 299.3h0.9M313.7 298.8h0.9M317.4 302.3h0.9M305.7 318.3h0.9M299.0 316.3h0.9M297.4 305.1h0.9M309.7 310.2h0.9M308.2 310.0h0.9M316.4 298.0h0.9M301.5 313.5h0.9M296.3 303.7h0.9M322.1 316.5h0.9M309.4 308.6h0.9M304.9 302.5h0.9M300.3 301.9h0.9M297.6 308.9h0.9M308.8 302.2h0.9M306.9 299.8h0.9M308.5 306.1h0.9M305.6 309.3h0.9M314.6 309.4h0.9M301.7 309.1h0.9M308.6 311.4h0.9M313.0 303.0h0.9M298.1 312.0h0.9M298.6 310.9h0.9M324.0 315.9h0.9M296.3 302.9h0.9M308.6 306.3h0.9M310.6 309.6h0.9M308.2 311.6h0.9M295.7 315.3h0.9M296.6 302.6h0.9M290.1 308.1h0.9M308.7 305.8h0.9M298.1 294.4h0.9M309.7 300.9h0.9M303.6 309.6h0.9M305.6 310.7h0.9M317.0 312.6h0.9M299.3 307.8h0.9M304.5 302.7h0.9M310.4 305.7h0.9M307.6 312.1h0.9M319.9 304.3h0.9M310.8 321.6h0.9M316.6 310.0h0.9M301.1 309.1h0.9M301.9 305.5h0.9M294.6 306.3h0.9M292.7 314.3h0.9M328.5 306.1h0.9M325.3 310.1h0.9M323.3 311.4h0.9M323.9 312.6h0.9M319.6 309.7h0.9M336.2 303.0h0.9M319.7 316.3h0.9M327.1 310.4h0.9M326.3 306.1h0.9M321.5 313.1h0.9M326.2 314.1h0.9M325.6 319.9h0.9M331.6 303.5h0.9M335.6 304.9h0.9M331.8 303.5h0.9M327.4 310.4h0.9M334.6 292.9h0.9M312.2 316.7h0.9M330.1 305.4h0.9M325.7 296.0h0.9M322.5 304.3h0.9M331.0 311.2h0.9M324.0 318.1h0.9M320.7 315.0h0.9M323.5 312.8h0.9M323.1 319.9h0.9M322.1 324.6h0.9M330.4 303.0h0.9M322.1 319.5h0.9M334.9 300.1h0.9M326.2 314.0h0.9M341.0 314.4h0.9M323.7 316.4h0.9M325.6 302.8h0.9M324.8 307.6h0.9M323.6 310.0h0.9M327.5 303.4h0.9M329.6 297.4h0.9M329.5 313.1h0.9M327.9 298.0h0.9M321.7 310.9h0.9M328.2 315.1h0.9M314.8 309.5h0.9M332.3 300.6h0.9M316.9 305.8h0.9M323.3 307.4h0.9M333.4 311.5h0.9M312.3 315.4h0.9M325.7 315.9h0.9M324.9 319.9h0.9M326.0 305.7h0.9M317.0 316.5h0.9M324.1 296.2h0.9M330.7 319.3h0.9M311.1 313.8h0.9M329.5 322.5h0.9M333.3 303.8h0.9M328.1 315.1h0.9M315.2 320.4h0.9M328.4 315.8h0.9M319.1 315.8h0.9M324.8 307.2h0.9M325.3 312.1h0.9M314.9 309.5h0.9M327.5 297.2h0.9M329.6 309.5h0.9M318.1 301.1h0.9M316.8 316.2h0.9M319.2 310.9h0.9M322.1 316.3h0.9M333.6 316.5h0.9M329.5 317.6h0.9M336.5 302.9h0.9M326.8 304.6h0.9M325.4 307.9h0.9M325.8 314.9h0.9M316.3 289.9h0.9M326.9 317.6h0.9M322.4 320.7h0.9M340.2 310.1h0.9M323.6 313.5h0.9M330.2 298.2h0.9M328.4 294.0h0.9M317.9 311.3h0.9M327.2 300.6h0.9M325.4 319.3h0.9M314.0 313.8h0.9M333.6 299.4h0.9M333.1 313.0h0.9M323.0 309.8h0.9M324.8 309.9h0.9M323.7 304.0h0.9M331.1 322.5h0.9M323.8 320.3h0.9M319.9 299.9h0.9M329.3 311.4h0.9M328.1 302.3h0.9M322.4 317.3h0.9M335.8 311.6h0.9M327.6 289.6h0.9M320.7 319.5h0.9M337.8 303.3h0.9M308.0 313.5h0.9M316.3 306.4h0.9M321.0 306.8h0.9M318.6 314.6h0.9M327.1 299.6h0.9M314.4 325.4h0.9M328.8 311.2h0.9M318.1 310.6h0.9M327.3 304.1h0.9M325.9 306.2h0.9M311.2 299.1h0.9M320.8 305.6h0.9M327.9 322.2h0.9M322.1 310.5h0.9M323.5 296.8h0.9M324.5 308.1h0.9M319.4 315.3h0.9M327.7 307.3h0.9M319.1 311.9h0.9M319.6 303.2h0.9M321.6 316.8h0.9M323.1 308.4h0.9M322.7 314.2h0.9M323.9 315.9h0.9M323.9 316.1h0.9M323.0 304.0h0.9M327.7 308.1h0.9M321.9 320.6h0.9M321.6 303.7h0.9M322.7 320.6h0.9M316.0 318.5h0.9M328.4 306.6h0.9M322.6 304.2h0.9M311.4 302.6h0.9M315.5 297.5h0.9M321.9 314.2h0.9M318.6 307.2h0.9M319.7 308.1h0.9M327.5 318.9h0.9M328.8 312.5h0.9M334.0 315.2h0.9M328.1 314.0h0.9M330.3 301.9h0.9M318.9 310.4h0.9M312.9 307.6h0.9M322.6 312.1h0.9M329.4 319.7h0.9M309.0 311.4h0.9M327.0 320.7h0.9M320.6 312.9h0.9M323.7 302.5h0.9M326.4 317.1h0.9M322.4 310.4h0.9M332.0 308.3h0.9M322.6 312.0h0.9M327.7 312.8h0.9M333.0 313.1h0.9M316.7 297.4h0.9M324.1 322.5h0.9M325.0 306.4h0.9M326.5 313.8h0.9M333.0 300.0h0.9M329.8 311.2h0.9M330.2 318.0h0.9M309.8 316.7h0.9M328.0 303.8h0.9M323.8 317.8h0.9M314.7 316.4h0.9M330.0 323.1h0.9M319.1 305.0h0.9M331.3 307.6h0.9M327.4 289.9h0.9M340.6 295.6h0.9M313.7 313.5h0.9M328.0 303.6h0.9M309.9 313.9h0.9M326.2 302.7h0.9M325.5 305.3h0.9M317.8 315.1h0.9M324.6 310.0h0.9M316.4 304.3h0.9M322.8 305.1h0.9M326.9 310.0h0.9M323.1 308.4h0.9M327.3 317.5h0.9M317.4 317.0h0.9M330.6 315.7h0.9M320.9 311.3h0.9M338.7 299.6h0.9M330.2 307.7h0.9M335.7 310.8h0.9M330.3 305.0h0.9M321.3 322.0h0.9M316.1 305.7h0.9M322.9 300.2h0.9M328.8 300.3h0.9M324.9 307.9h0.9M309.9 310.9h0.9M314.3 309.9h0.9M309.1 305.6h0.9M330.1 311.8h0.9M332.1 322.1h0.9M329.5 308.2h0.9M323.8 314.5h0.9M316.3 301.7h0.9M324.5 323.0h0.9M317.2 311.6h0.9M319.9 315.2h0.9M326.9 309.4h0.9M330.7 307.8h0.9M313.5 325.8h0.9M323.9 312.1h0.9M329.8 303.5h0.9M321.5 303.9h0.9M328.4 312.8h0.9M325.9 299.7h0.9M319.1 298.6h0.9M315.5 304.0h0.9M326.6 313.5h0.9M312.6 314.5h0.9M327.0 321.9h0.9M330.3 298.2h0.9M327.9 311.5h0.9M326.8 304.1h0.9M334.2 310.4h0.9M320.7 295.8h0.9M322.9 299.1h0.9M314.8 322.2h0.9M324.2 317.2h0.9M332.0 315.3h0.9M321.7 300.7h0.9M323.5 310.6h0.9M323.6 307.3h0.9M325.5 298.6h0.9M331.7 300.6h0.9M325.4 302.9h0.9M333.7 305.4h0.9M318.4 306.8h0.9M330.5 300.2h0.9M315.9 305.6h0.9M329.7 287.0h0.9M323.4 316.8h0.9M323.7 295.3h0.9M321.7 314.4h0.9M317.1 307.4h0.9M320.2 312.7h0.9M341.2 310.3h0.9M315.9 322.5h0.9M322.6 306.4h0.9M327.9 315.5h0.9M326.1 312.3h0.9M325.8 300.3h0.9M329.9 316.4h0.9M319.3 296.1h0.9M320.6 311.0h0.9M334.1 311.4h0.9M302.7 304.8h0.9M325.0 311.5h0.9M314.4 306.8h0.9M325.5 315.0h0.9M330.1 322.4h0.9M320.0 306.3h0.9M321.6 313.4h0.9M338.1 311.0h0.9M325.7 302.5h0.9M316.0 323.4h0.9M324.0 320.6h0.9M330.2 305.8h0.9M326.3 302.6h0.9M328.9 308.5h0.9M329.9 319.3h0.9M320.7 315.9h0.9M327.6 305.5h0.9M326.5 319.3h0.9M325.7 317.2h0.9M327.0 319.4h0.9M323.8 307.0h0.9M328.9 291.9h0.9M321.2 321.5h0.9M319.6 324.0h0.9M335.5 305.8h0.9M319.6 312.7h0.9M330.8 323.2h0.9M335.0 304.1h0.9M330.5 305.7h0.9M332.0 313.2h0.9M334.4 308.9h0.9M330.3 299.7h0.9M318.1 313.6h0.9M325.4 316.5h0.9M340.3 304.8h0.9M316.7 301.4h0.9M320.5 318.6h0.9M327.3 307.3h0.9M329.3 308.3h0.9M326.4 309.5h0.9M315.5 315.9h0.9M325.4 304.9h0.9M325.9 303.9h0.9M324.5 306.7h0.9M327.0 302.4h0.9M324.0 306.4h0.9M318.1 309.0h0.9M329.4 315.2h0.9M326.9 308.6h0.9M331.2 307.4h0.9M329.3 296.0h0.9M316.6 303.8h0.9M332.5 307.5h0.9M327.9 301.0h0.9M336.0 323.3h0.9M324.8 304.3h0.9M326.5 307.6h0.9M321.6 290.2h0.9M326.3 292.3h0.9M321.3 297.5h0.9M338.4 299.5h0.9M322.1 312.4h0.9M322.6 311.4h0.9M331.1 304.5h0.9M328.3 308.5h0.9M315.8 311.7h0.9M317.5 317.6h0.9M324.8 310.8h0.9M331.6 303.0h0.9M319.4 320.7h0.9M329.7 312.8h0.9M311.2 309.6h0.9M318.3 304.7h0.9M313.6 296.6h0.9M321.8 312.4h0.9M321.3 308.0h0.9M325.4 320.0h0.9M320.8 310.4h0.9M343.8 309.2h0.9M330.5 300.1h0.9M317.6 305.9h0.9M346.0 304.5h0.9M334.6 305.5h0.9M316.2 294.7h0.9M326.0 317.7h0.9M319.4 306.2h0.9M317.2 303.7h0.9M331.9 305.1h0.9M317.6 314.2h0.9M326.7 309.0h0.9M339.1 311.7h0.9M332.9 299.7h0.9M324.4 319.3h0.9M330.1 316.6h0.9M314.6 307.2h0.9M336.6 320.9h0.9M303.4 294.5h0.9M334.4 315.6h0.9M334.2 287.4h0.9M325.5 315.6h0.9M333.5 301.7h0.9M332.3 315.6h0.9M321.3 321.8h0.9M333.8 316.4h0.9M321.7 311.6h0.9M324.7 322.4h0.9M342.2 302.6h0.9M339.0 312.8h0.9M320.1 303.7h0.9M335.8 311.9h0.9M320.2 307.8h0.9M322.2 308.3h0.9M337.7 304.0h0.9M322.7 285.5h0.9M328.5 316.8h0.9M339.5 304.5h0.9M322.8 306.2h0.9M316.1 309.3h0.9M319.4 307.6h0.9M326.0 315.3h0.9M327.3 313.5h0.9M328.7 308.6h0.9M331.8 310.5h0.9M315.4 305.2h0.9M335.5 296.7h0.9M337.5 310.2h0.9M326.8 319.1h0.9M326.6 305.6h0.9M309.4 304.5h0.9M316.6 314.8h0.9M325.7 301.9h0.9M333.4 316.3h0.9M340.9 311.4h0.9M329.2 274.4h0.9M327.9 275.1h0.9M322.9 288.1h0.9M335.6 267.1h0.9M335.8 265.9h0.9M341.1 260.1h0.9M323.3 280.4h0.9M320.3 280.2h0.9M322.6 280.2h0.9M326.8 280.5h0.9M341.3 270.1h0.9M325.5 276.3h0.9M334.4 267.9h0.9M326.2 273.6h0.9M327.0 279.9h0.9M320.9 284.0h0.9M333.9 270.7h0.9M334.1 270.6h0.9M325.9 284.9h0.9M327.8 284.9h0.9M333.2 277.1h0.9M330.0 273.7h0.9M322.0 286.7h0.9M326.8 277.9h0.9M332.5 275.0h0.9M337.2 270.2h0.9M327.4 280.7h0.9M331.5 273.5h0.9M332.9 271.8h0.9M335.9 265.2h0.9M331.2 261.4h0.9M329.7 281.0h0.9M331.6 276.2h0.9M322.1 277.8h0.9M336.3 265.3h0.9M323.1 283.4h0.9M335.0 267.4h0.9M334.1 262.9h0.9M336.0 262.5h0.9M332.5 270.0h0.9M322.6 280.8h0.9M329.6 268.0h0.9M327.0 283.5h0.9M334.7 263.7h0.9M330.8 273.5h0.9M318.9 282.6h0.9M327.0 273.8h0.9M335.8 272.5h0.9M333.3 271.5h0.9M325.6 289.1h0.9M322.5 282.6h0.9M332.5 270.7h0.9M335.9 270.2h0.9M330.3 267.4h0.9M331.2 266.0h0.9M322.1 283.2h0.9M333.0 275.7h0.9M334.4 266.9h0.9M335.9 259.1h0.9M330.8 278.9h0.9M332.9 269.6h0.9M323.3 275.4h0.9M324.1 275.2h0.9M333.7 265.4h0.9M336.3 267.4h0.9M336.0 265.6h0.9M335.9 264.2h0.9M326.4 289.1h0.9M331.6 267.9h0.9M330.3 270.6h0.9M323.1 289.6h0.9M334.7 268.3h0.9M328.8 276.9h0.9M333.9 275.7h0.9M341.3 271.4h0.9M334.6 269.3h0.9M325.9 273.7h0.9M328.5 273.6h0.9M323.0 284.4h0.9M331.1 278.9h0.9M336.4 263.5h0.9M323.0 282.8h0.9M342.4 265.3h0.9M336.4 268.2h0.9M333.8 281.2h0.9M333.4 277.2h0.9M342.2 269.4h0.9M332.5 274.8h0.9M336.4 274.3h0.9M334.6 274.0h0.9M336.3 274.0h0.9M337.5 271.9h0.9M338.0 273.0h0.9M338.8 267.3h0.9M336.1 272.0h0.9M334.7 279.9h0.9M341.0 266.0h0.9M334.8 276.5h0.9M337.0 276.2h0.9M333.9 272.9h0.9M338.6 271.8h0.9M336.4 275.8h0.9M336.1 275.1h0.9M333.9 273.7h0.9M335.6 274.8h0.9M334.0 271.8h0.9M336.8 268.0h0.9M338.6 273.0h0.9M334.6 269.7h0.9M340.2 267.6h0.9M334.3 271.1h0.9M336.6 276.0h0.9M335.6 274.7h0.9M338.1 278.6h0.9M339.0 270.4h0.9M307.3 276.4h0.9M312.9 280.4h0.9M313.3 279.7h0.9M307.2 288.8h0.9M308.7 293.1h0.9M311.2 284.6h0.9M305.0 282.9h0.9M306.2 291.5h0.9M298.5 281.1h0.9M310.6 277.2h0.9M312.4 282.1h0.9M313.9 279.7h0.9M311.9 292.2h0.9M303.9 286.3h0.9M312.0 293.8h0.9M308.3 292.9h0.9M314.0 294.4h0.9M301.7 284.1h0.9M309.1 287.2h0.9M299.8 286.5h0.9M314.6 285.8h0.9M301.3 281.2h0.9M314.4 283.4h0.9M299.5 280.7h0.9M308.3 278.3h0.9M306.8 284.7h0.9M310.0 280.5h0.9M301.4 284.3h0.9M301.3 286.2h0.9M305.1 292.0h0.9M301.3 285.6h0.9M303.0 277.8h0.9M300.4 286.2h0.9M307.3 287.4h0.9M310.2 276.5h0.9M315.5 293.8h0.9M302.7 278.4h0.9M312.3 276.7h0.9M309.5 281.2h0.9M315.4 277.7h0.9M306.8 277.5h0.9M300.3 289.3h0.9M312.2 278.1h0.9M315.9 278.0h0.9M303.3 280.0h0.9M302.6 286.9h0.9M298.2 291.1h0.9M312.7 294.1h0.9M309.7 277.7h0.9M303.2 277.6h0.9M338.4 314.5h0.9M326.6 319.4h0.9M328.5 325.5h0.9M297.9 307.1h0.9M313.5 314.6h0.9M315.0 303.6h0.9M305.0 316.6h0.9M292.1 321.2h0.9M292.7 309.0h0.9M335.2 301.6h0.9M316.0 302.4h0.9M294.1 314.7h0.9M336.6 308.5h0.9M337.5 305.9h0.9M324.7 322.5h0.9M297.6 318.3h0.9M303.2 308.1h0.9M295.8 323.4h0.9M303.6 308.2h0.9M333.7 308.4h0.9M319.1 313.9h0.9M330.6 309.7h0.9M335.8 303.0h0.9M341.6 296.3h0.9M331.9 311.8h0.9M335.3 300.8h0.9M292.9 319.5h0.9M310.3 304.4h0.9M333.7 314.3h0.9M299.3 313.6h0.9M320.4 297.5h0.9M316.2 314.2h0.9M298.1 323.4h0.9M308.3 313.1h0.9M305.1 309.2h0.9M340.9 307.6h0.9M313.2 303.8h0.9M310.0 304.7h0.9M339.9 324.5h0.9M295.8 319.5h0.9M336.3 316.4h0.9M338.8 304.3h0.9M337.3 319.9h0.9M324.8 310.1h0.9M327.1 324.8h0.9M297.6 296.8h0.9M322.4 298.0h0.9M336.5 322.0h0.9M341.8 300.0h0.9M311.2 297.9h0.9M325.9 299.5h0.9M294.0 302.2h0.9M296.7 322.6h0.9M337.7 317.4h0.9M325.8 309.2h0.9M299.0 301.9h0.9M292.4 298.7h0.9M303.2 312.9h0.9M291.8 313.2h0.9M314.9 305.3h0.9M292.2 308.3h0.9M334.0 318.5h0.9M326.3 305.2h0.9M297.2 319.5h0.9M292.6 310.1h0.9M307.4 301.8h0.9M290.7 305.2h0.9M318.9 311.3h0.9M332.0 315.5h0.9M340.0 302.9h0.9M304.4 306.7h0.9M295.8 304.6h0.9M315.0 307.8h0.9M303.8 319.7h0.9M327.3 324.1h0.9M317.4 313.8h0.9M320.2 324.2h0.9M305.8 322.0h0.9M315.4 319.4h0.9M330.3 304.9h0.9M320.0 309.8h0.9M296.9 307.7h0.9M339.5 306.3h0.9M295.1 316.9h0.9M313.5 314.6h0.9M294.9 312.0h0.9M312.2 313.5h0.9M313.6 312.9h0.9M341.4 299.5h0.9M290.9 306.7h0.9M294.4 297.0h0.9M328.4 321.5h0.9M288.3 301.7h0.9M299.4 307.6h0.9M341.5 298.4h0.9M309.0 312.1h0.9M298.9 306.3h0.9M326.0 316.8h0.9M331.0 317.3h0.9M306.1 300.2h0.9M288.9 316.3h0.9M331.0 317.4h0.9M320.6 308.5h0.9M290.6 309.7h0.9M294.0 305.0h0.9M329.3 313.9h0.9M336.2 322.2h0.9M327.0 324.5h0.9M296.2 318.6h0.9M322.2 312.8h0.9M294.5 311.2h0.9M336.9 317.8h0.9M338.2 319.8h0.9M291.6 308.2h0.9M333.6 318.0h0.9M314.5 309.9h0.9M309.2 307.2h0.9M307.1 310.4h0.9M319.9 300.7h0.9M297.1 315.2h0.9M319.0 310.9h0.9M316.1 306.8h0.9M341.9 305.1h0.9M316.7 305.1h0.9M320.5 305.3h0.9M310.8 297.5h0.9M306.4 309.8h0.9M321.3 319.5h0.9M290.7 305.8h0.9M301.1 310.1h0.9M337.0 324.4h0.9M327.1 324.5h0.9M315.0 314.8h0.9M295.3 318.1h0.9M302.3 312.9h0.9M300.5 311.6h0.9M309.4 322.8h0.9M316.2 319.4h0.9M301.9 311.4h0.9M316.5 305.5h0.9M310.3 296.6h0.9M296.1 306.1h0.9M324.7 313.7h0.9M326.5 298.8h0.9M299.8 324.3h0.9M295.4 301.3h0.9M318.0 310.1h0.9M335.1 322.1h0.9M319.5 309.7h0.9M294.0 310.7h0.9M329.2 316.5h0.9M293.2 320.8h0.9M338.1 318.8h0.9M297.3 323.4h0.9M295.8 296.5h0.9M325.9 317.1h0.9M330.1 312.1h0.9M291.8 297.2h0.9M322.9 319.2h0.9M306.7 319.3h0.9M308.4 309.9h0.9M325.1 317.0h0.9M323.0 300.2h0.9M325.2 319.8h0.9M328.6 315.2h0.9M320.0 303.4h0.9M341.8 325.6h0.9M302.0 316.0h0.9M328.6 310.4h0.9M303.6 306.7h0.9M296.4 320.5h0.9M299.5 326.0h0.9M323.0 312.8h0.9M293.8 298.0h0.9M314.9 299.7h0.9M322.2 303.2h0.9M337.8 315.7h0.9M290.6 322.3h0.9M324.8 302.6h0.9M308.2 316.6h0.9M336.2 308.2h0.9M331.7 324.7h0.9M339.4 314.9h0.9M332.3 298.3h0.9M326.5 322.0h0.9M306.7 321.9h0.9M306.9 321.4h0.9M305.8 312.9h0.9M294.2 303.1h0.9M288.8 309.1h0.9M292.3 316.6h0.9M297.6 324.5h0.9M289.3 318.4h0.9M289.2 301.7h0.9M289.0 323.3h0.9M295.1 313.5h0.9M293.8 316.3h0.9M289.0 312.4h0.9M297.1 300.8h0.9M295.1 301.9h0.9M293.3 304.6h0.9M288.7 301.7h0.9M292.3 325.3h0.9M289.5 311.5h0.9M291.1 309.5h0.9M290.2 310.3h0.9M297.8 303.6h0.9M296.3 320.7h0.9M292.6 318.0h0.9M293.5 325.8h0.9M288.5 319.7h0.9M296.2 317.0h0.9M297.7 301.4h0.9M294.1 319.4h0.9M288.7 313.9h0.9M296.2 317.5h0.9M291.8 321.3h0.9M297.1 305.9h0.9M290.5 321.4h0.9M295.6 311.2h0.9M297.9 325.4h0.9M293.9 309.9h0.9M288.9 300.3h0.9M291.9 311.2h0.9M288.9 305.8h0.9M296.7 319.4h0.9M291.6 302.8h0.9M297.3 323.5h0.9" stroke="#767676" stroke-width="0.90" fill="none"/>
<rect x="286.7" y="216.3" width="120.0" height="110.5" fill="none" stroke="#111" stroke-width="1.3"/>
<path d="M318.0 216.3V326.8M286.7 294.8H406.7" stroke="#000" stroke-width="1.25" fill="none"/>
<path d="M286.70 326.8v4.6M286.7 326.80h-5.8M316.70 326.8v4.6M286.7 299.18h-5.8M346.70 326.8v4.6M286.7 271.55h-5.8M376.70 326.8v4.6M286.7 243.93h-5.8M406.70 326.8v4.6M286.7 216.30h-5.8" stroke="#111" stroke-width="1.3" fill="none"/>
<path d="M295.73 326.8v2.4M286.7 318.48h-2.9M301.01 326.8v2.4M286.7 313.62h-2.9M304.76 326.8v2.4M286.7 310.17h-2.9M307.67 326.8v2.4M286.7 307.49h-2.9M310.04 326.8v2.4M286.7 305.30h-2.9M312.05 326.8v2.4M286.7 303.45h-2.9M313.79 326.8v2.4M286.7 301.85h-2.9M315.33 326.8v2.4M286.7 300.44h-2.9M325.73 326.8v2.4M286.7 290.86h-2.9M331.01 326.8v2.4M286.7 285.99h-2.9M334.76 326.8v2.4M286.7 282.54h-2.9M337.67 326.8v2.4M286.7 279.87h-2.9M340.04 326.8v2.4M286.7 277.68h-2.9M342.05 326.8v2.4M286.7 275.83h-2.9M343.79 326.8v2.4M286.7 274.23h-2.9M345.33 326.8v2.4M286.7 272.81h-2.9M355.73 326.8v2.4M286.7 263.23h-2.9M361.01 326.8v2.4M286.7 258.37h-2.9M364.76 326.8v2.4M286.7 254.92h-2.9M367.67 326.8v2.4M286.7 252.24h-2.9M370.04 326.8v2.4M286.7 250.05h-2.9M372.05 326.8v2.4M286.7 248.20h-2.9M373.79 326.8v2.4M286.7 246.60h-2.9M375.33 326.8v2.4M286.7 245.19h-2.9M385.73 326.8v2.4M286.7 235.61h-2.9M391.01 326.8v2.4M286.7 230.74h-2.9M394.76 326.8v2.4M286.7 227.29h-2.9M397.67 326.8v2.4M286.7 224.62h-2.9M400.04 326.8v2.4M286.7 222.43h-2.9M402.05 326.8v2.4M286.7 220.58h-2.9M403.79 326.8v2.4M286.7 218.98h-2.9M405.33 326.8v2.4M286.7 217.56h-2.9" stroke="#111" stroke-width="1.1" fill="none"/>
<text transform="translate(280.7 343.7) scale(0.76 1)" font-family="Liberation Sans, sans-serif" font-size="11" fill="#111" stroke="#111" stroke-width="0.45">10</text>
<text x="289.3" y="337.4" font-family="Liberation Sans, sans-serif" font-size="9.2" fill="#111" stroke="#111" stroke-width="0.3">0</text>
<text transform="translate(279.5 335.0) rotate(-90) scale(0.8 1)" font-family="Liberation Sans, sans-serif" font-size="10" fill="#111" stroke="#111" stroke-width="0.5">10</text>
<text transform="translate(272.2 326.4) rotate(-90) scale(1.3 1)" font-family="Liberation Sans, sans-serif" font-size="8.8" fill="#111" stroke="#111" stroke-width="0.3">0</text>
<text transform="translate(310.7 343.7) scale(0.76 1)" font-family="Liberation Sans, sans-serif" font-size="11" fill="#111" stroke="#111" stroke-width="0.45">10</text>
<text x="319.3" y="337.4" font-family="Liberation Sans, sans-serif" font-size="9.2" fill="#111" stroke="#111" stroke-width="0.3">1</text>
<text transform="translate(279.5 307.4) rotate(-90) scale(0.8 1)" font-family="Liberation Sans, sans-serif" font-size="10" fill="#111" stroke="#111" stroke-width="0.5">10</text>
<text transform="translate(272.2 298.8) rotate(-90) scale(1.3 1)" font-family="Liberation Sans, sans-serif" font-size="8.8" fill="#111" stroke="#111" stroke-width="0.3">1</text>
<text transform="translate(340.7 343.7) scale(0.76 1)" font-family="Liberation Sans, sans-serif" font-size="11" fill="#111" stroke="#111" stroke-width="0.45">10</text>
<text x="349.3" y="337.4" font-family="Liberation Sans, sans-serif" font-size="9.2" fill="#111" stroke="#111" stroke-width="0.3">2</text>
<text transform="translate(279.5 279.8) rotate(-90) scale(0.8 1)" font-family="Liberation Sans, sans-serif" font-size="10" fill="#111" stroke="#111" stroke-width="0.5">10</text>
<text transform="translate(272.2 271.2) rotate(-90) scale(1.3 1)" font-family="Liberation Sans, sans-serif" font-size="8.8" fill="#111" stroke="#111" stroke-width="0.3">2</text>
<text transform="translate(370.7 343.7) scale(0.76 1)" font-family="Liberation Sans, sans-serif" font-size="11" fill="#111" stroke="#111" stroke-width="0.45">10</text>
<text x="379.3" y="337.4" font-family="Liberation Sans, sans-serif" font-size="9.2" fill="#111" stroke="#111" stroke-width="0.3">3</text>
<text transform="translate(279.5 252.1) rotate(-90) scale(0.8 1)" font-family="Liberation Sans, sans-serif" font-size="10" fill="#111" stroke="#111" stroke-width="0.5">10</text>
<text transform="translate(272.2 243.5) rotate(-90) scale(1.3 1)" font-family="Liberation Sans, sans-serif" font-size="8.8" fill="#111" stroke="#111" stroke-width="0.3">3</text>
<text transform="translate(400.7 343.7) scale(0.76 1)" font-family="Liberation Sans, sans-serif" font-size="11" fill="#111" stroke="#111" stroke-width="0.45">10</text>
<text x="409.3" y="337.4" font-family="Liberation Sans, sans-serif" font-size="9.2" fill="#111" stroke="#111" stroke-width="0.3">4</text>
<text transform="translate(279.5 224.5) rotate(-90) scale(0.8 1)" font-family="Liberation Sans, sans-serif" font-size="10" fill="#111" stroke="#111" stroke-width="0.5">10</text>
<text transform="translate(272.2 215.9) rotate(-90) scale(1.3 1)" font-family="Liberation Sans, sans-serif" font-size="8.8" fill="#111" stroke="#111" stroke-width="0.3">4</text>
<text x="320.6" y="233.9" font-family="Liberation Sans, sans-serif" font-size="13.7" fill="#111" stroke="#111" stroke-width="0.25">HIV+ Stage C</text>
<path d="M368.2 180.0V214.5M336.5 194.5H398.7" stroke="#111" stroke-width="1.1" fill="none"/>
<text x="363.9" y="189.8" font-family="Liberation Sans, sans-serif" font-size="13.2" fill="#111" stroke="#111" stroke-width="0.25" text-anchor="end">2</text>
<text x="379.2" y="189.8" font-family="Liberation Sans, sans-serif" font-size="13.2" fill="#111" stroke="#111" stroke-width="0.25" text-anchor="start">3</text>
<text x="365.3" y="209.2" font-family="Liberation Sans, sans-serif" font-size="13.2" fill="#111" stroke="#111" stroke-width="0.25" text-anchor="end">55</text>
<text x="373.0" y="209.2" font-family="Liberation Sans, sans-serif" font-size="13.2" fill="#111" stroke="#111" stroke-width="0.25" text-anchor="start">41</text>
<text transform="translate(92.8 208.8) rotate(-90)" font-family="Liberation Sans, sans-serif" font-size="21" fill="#111">CCR7</text>
<text x="227.6" y="361.6" font-family="Liberation Sans, sans-serif" font-size="21" fill="#111">CD45RA</text>
<polygon points="63.4,375.2 516.9,374.5 519.0,973.8 65.4,974.0" fill="none" stroke="#3a3a3a" stroke-width="1.25"/>
<text x="53.8" y="979.6" font-family="Liberation Sans, sans-serif" font-size="15.7" fill="#111" text-anchor="end">0</text>
<text x="53.6" y="919.7" font-family="Liberation Sans, sans-serif" font-size="15.7" fill="#111" text-anchor="end">10</text>
<text x="53.4" y="859.8" font-family="Liberation Sans, sans-serif" font-size="15.7" fill="#111" text-anchor="end">20</text>
<text x="53.2" y="799.2" font-family="Liberation Sans, sans-serif" font-size="15.7" fill="#111" text-anchor="end">30</text>
<text x="53.0" y="740.1" font-family="Liberation Sans, sans-serif" font-size="15.7" fill="#111" text-anchor="end">40</text>
<text x="52.8" y="680.2" font-family="Liberation Sans, sans-serif" font-size="15.7" fill="#111" text-anchor="end">50</text>
<text x="52.6" y="620.3" font-family="Liberation Sans, sans-serif" font-size="15.7" fill="#111" text-anchor="end">60</text>
<text x="52.4" y="560.4" font-family="Liberation Sans, sans-serif" font-size="15.7" fill="#111" text-anchor="end">70</text>
<text x="52.2" y="500.6" font-family="Liberation Sans, sans-serif" font-size="15.7" fill="#111" text-anchor="end">80</text>
<text x="52.0" y="440.7" font-family="Liberation Sans, sans-serif" font-size="15.7" fill="#111" text-anchor="end">90</text>
<text x="51.8" y="380.8" font-family="Liberation Sans, sans-serif" font-size="15.7" fill="#111" text-anchor="end">100</text>
<path d="M65.4 974.0h-4.6M65.2 914.1h-4.6M65.0 854.2h-4.6M64.8 793.6h-4.6M64.6 734.5h-4.6M64.4 674.6h-4.6M64.2 614.7h-4.6M64.0 554.8h-4.6M63.8 495.0h-4.6M63.6 435.1h-4.6M63.4 375.2h-4.6" stroke="#333" stroke-width="0.9" fill="none"/>
<text transform="translate(17.8 799.3) rotate(-90)" font-family="Liberation Sans, sans-serif" font-size="21" fill="#111" textLength="249.6" lengthAdjust="spacingAndGlyphs">Percent of CD8 T Cells</text>
<rect x="113.7" y="402.1" width="8.6" height="8.2" fill="#fff" stroke="#111" stroke-width="1.1"/>
<rect x="113.2" y="424.8" width="9.5" height="8.7" fill="#000"/>
<path d="M118.1 447.3L122.9 456.1H113.3Z" fill="#000"/>
<path d="M118.5 472L123.4 476.8L118.5 481.6L113.6 476.8Z" fill="#000"/>
<text transform="translate(133.2 413.4) scale(1.075 1)" font-family="Liberation Sans, sans-serif" font-size="17" fill="#111">Normal</text>
<text transform="translate(133.2 436.2) scale(1.075 1)" font-family="Liberation Sans, sans-serif" font-size="17" fill="#111">Stage A</text>
<text transform="translate(133.2 459.4) scale(1.075 1)" font-family="Liberation Sans, sans-serif" font-size="17" fill="#111">Stage B</text>
<text transform="translate(133.2 482.1) scale(1.075 1)" font-family="Liberation Sans, sans-serif" font-size="17" fill="#111">Stage C</text>
<rect x="104.7" y="569.3" width="4.8" height="4.8" fill="#fff" stroke="#222" stroke-width="1"/>
<rect x="104.7" y="611.6" width="4.8" height="4.8" fill="#fff" stroke="#222" stroke-width="1"/>
<rect x="104.7" y="629.2" width="4.8" height="4.8" fill="#fff" stroke="#222" stroke-width="1"/>
<rect x="104.7" y="671.3" width="4.8" height="4.8" fill="#fff" stroke="#222" stroke-width="1"/>
<rect x="104.7" y="707.0" width="4.8" height="4.8" fill="#fff" stroke="#222" stroke-width="1"/>
<rect x="104.7" y="761.3" width="4.8" height="4.8" fill="#fff" stroke="#222" stroke-width="1"/>
<path d="M116.5 595.8V728.1M113.3 595.8h6.4M113.3 728.1h6.4" stroke="#222" stroke-width="1" fill="none"/>
<path d="M110.1 661.7h12.8" stroke="#111" stroke-width="1.4" fill="none"/>
<path d="M151.4 773.6L154.7 779.8H148.1Z" fill="#000"/>
<path d="M151.4 803.1L154.7 809.3H148.1Z" fill="#000"/>
<rect x="148.5" y="820.7" width="5.8" height="5.8" fill="#000"/>
<rect x="148.5" y="850.8" width="5.8" height="5.8" fill="#000"/>
<rect x="148.5" y="880.7" width="5.8" height="5.8" fill="#000"/>
<path d="M151.4 899.0L154.7 905.2H148.1Z" fill="#000"/>
<rect x="148.5" y="923.0" width="5.8" height="5.8" fill="#000"/>
<path d="M151.4 935.0L154.7 938.3L151.4 941.6L148.1 938.3Z" fill="#000"/>
<path d="M151.4 952.6L154.7 955.9L151.4 959.2L148.1 955.9Z" fill="#000"/>
<path d="M151.4 964.5L154.7 967.8L151.4 971.1L148.1 967.8Z" fill="#000"/>
<path d="M151.4 971.0L154.7 974.3L151.4 977.6L148.1 974.3Z" fill="#000"/>
<path d="M161.0 830.1V949.4M157.8 830.1h6.4M157.8 949.4h6.4" stroke="#222" stroke-width="1" fill="none"/>
<path d="M154.6 889.7h12.8" stroke="#111" stroke-width="1.4" fill="none"/>
<rect x="213.6" y="881.6" width="4.8" height="4.8" fill="#fff" stroke="#222" stroke-width="1"/>
<rect x="213.6" y="917.2" width="4.8" height="4.8" fill="#fff" stroke="#222" stroke-width="1"/>
<rect x="213.6" y="935.5" width="4.8" height="4.8" fill="#fff" stroke="#222" stroke-width="1"/>
<rect x="213.6" y="941.6" width="4.8" height="4.8" fill="#fff" stroke="#222" stroke-width="1"/>
<path d="M224.8 906.7V943.0M221.6 906.7h6.4M221.6 943.0h6.4" stroke="#222" stroke-width="1" fill="none"/>
<path d="M218.4 925.0h12.8" stroke="#111" stroke-width="1.4" fill="none"/>
<rect x="256.5" y="935" width="5.9" height="23.8" fill="#000"/>
<path d="M259.4 958.0L262.6 963.0H256.2Z" fill="#000"/>
<path d="M259.4 961.0L262.9 964.5L259.4 968.0L255.9 964.5Z" fill="#000"/>
<path d="M259.4 965.5L262.9 969.0L259.4 972.5L255.9 969.0Z" fill="#000"/>
<path d="M259.4 970.0L262.9 973.5L259.4 977.0L255.9 973.5Z" fill="#000"/>
<path d="M268.5 944.6V969.0M265.3 944.6h6.4M265.3 969.0h6.4" stroke="#222" stroke-width="1" fill="none"/>
<path d="M262.1 955.8h12.8" stroke="#111" stroke-width="1.4" fill="none"/>
<rect x="321.3" y="887.4" width="4.8" height="4.8" fill="#fff" stroke="#222" stroke-width="1"/>
<rect x="321.3" y="892.5" width="4.8" height="4.8" fill="#fff" stroke="#222" stroke-width="1"/>
<rect x="321.3" y="904.8" width="4.8" height="4.8" fill="#fff" stroke="#222" stroke-width="1"/>
<rect x="321.3" y="910.9" width="4.8" height="4.8" fill="#fff" stroke="#222" stroke-width="1"/>
<rect x="321.3" y="941.3" width="4.8" height="4.8" fill="#fff" stroke="#222" stroke-width="1"/>
<rect x="321.3" y="947.0" width="4.8" height="4.8" fill="#fff" stroke="#222" stroke-width="1"/>
<path d="M332.7 892.1V940.2M329.5 892.1h6.4M329.5 940.2h6.4" stroke="#222" stroke-width="1" fill="none"/>
<path d="M326.3 916.3h12.8" stroke="#111" stroke-width="1.4" fill="none"/>
<path d="M366.5 721.2L369.8 727.4H363.2Z" fill="#000"/>
<rect x="363.6" y="724.7" width="5.8" height="5.8" fill="#000"/>
<path d="M366.5 742.9L369.8 749.1H363.2Z" fill="#000"/>
<path d="M366.5 754.6L369.8 757.9L366.5 761.2L363.2 757.9Z" fill="#000"/>
<rect x="363.6" y="772.8" width="5.8" height="5.8" fill="#000"/>
<path d="M366.5 797.1L369.8 803.3H363.2Z" fill="#000"/>
<path d="M366.5 803.2L369.8 809.4H363.2Z" fill="#000"/>
<path d="M366.5 820.7L369.8 824.0L366.5 827.3L363.2 824.0Z" fill="#000"/>
<rect x="363.6" y="826.8" width="5.8" height="5.8" fill="#000"/>
<rect x="363.6" y="862.9" width="5.8" height="5.8" fill="#000"/>
<rect x="363.6" y="887.1" width="5.8" height="5.8" fill="#000"/>
<path d="M366.5 892.8L369.8 899.0H363.2Z" fill="#000"/>
<path d="M366.5 905.1L369.8 911.3H363.2Z" fill="#000"/>
<path d="M375.1 757.9V877.9M371.9 757.9h6.4M371.9 877.9h6.4" stroke="#222" stroke-width="1" fill="none"/>
<path d="M368.7 817.6h12.8" stroke="#111" stroke-width="1.4" fill="none"/>
<rect x="428.4" y="700.8" width="4.8" height="4.8" fill="#fff" stroke="#222" stroke-width="1"/>
<rect x="428.4" y="767.0" width="4.8" height="4.8" fill="#fff" stroke="#222" stroke-width="1"/>
<rect x="428.4" y="790.6" width="4.8" height="4.8" fill="#fff" stroke="#222" stroke-width="1"/>
<rect x="428.4" y="821.2" width="4.8" height="4.8" fill="#fff" stroke="#222" stroke-width="1"/>
<rect x="428.4" y="827.3" width="4.8" height="4.8" fill="#fff" stroke="#222" stroke-width="1"/>
<rect x="428.4" y="833.3" width="4.8" height="4.8" fill="#fff" stroke="#222" stroke-width="1"/>
<path d="M439.7 744.6V840.5M436.5 744.6h6.4M436.5 840.5h6.4" stroke="#222" stroke-width="1" fill="none"/>
<path d="M433.3 792.4h12.8" stroke="#111" stroke-width="1.4" fill="none"/>
<path d="M474.1 484.9L477.4 488.2L474.1 491.5L470.8 488.2Z" fill="#000"/>
<path d="M474.1 519.9L477.4 523.2L474.1 526.5L470.8 523.2Z" fill="#000"/>
<rect x="471.2" y="526.5" width="5.8" height="5.8" fill="#000"/>
<path d="M474.1 532.8L477.4 539.0H470.8Z" fill="#000"/>
<path d="M474.1 568.7L477.4 574.9H470.8Z" fill="#000"/>
<rect x="471.2" y="628.3" width="5.8" height="5.8" fill="#000"/>
<path d="M474.1 639.7L477.4 643.0L474.1 646.3L470.8 643.0Z" fill="#000"/>
<rect x="471.2" y="645.6" width="5.8" height="5.8" fill="#000"/>
<path d="M474.1 651.4L477.4 654.7L474.1 658.0L470.8 654.7Z" fill="#000"/>
<path d="M474.1 658.0L477.4 664.2H470.8Z" fill="#000"/>
<rect x="471.2" y="681.7" width="5.8" height="5.8" fill="#000"/>
<path d="M474.1 725.1L477.4 731.3H470.8Z" fill="#000"/>
<path d="M474.1 748.0L477.4 754.2H470.8Z" fill="#000"/>
<rect x="471.7" y="904.1" width="5.8" height="5.8" fill="#000"/>
<path d="M482.7 533.2V748.3M479.5 533.2h6.4M479.5 748.3h6.4" stroke="#222" stroke-width="1" fill="none"/>
<path d="M476.3 640.1h12.8" stroke="#111" stroke-width="1.4" fill="none"/>
<path d="M99.2 986.9H169.8M110.8 980.8L99.2 986.9L110.8 993.0M158.2 980.8L169.8 986.9L158.2 993.0" stroke="#111" stroke-width="1.3" fill="none" stroke-linejoin="miter"/>
<path d="M210.0 986.5H280.8M221.6 980.4L210.0 986.5L221.6 992.6M269.2 980.4L280.8 986.5L269.2 992.6" stroke="#111" stroke-width="1.3" fill="none" stroke-linejoin="miter"/>
<path d="M316.2 986.2H387.1M327.8 980.1L316.2 986.2L327.8 992.3M375.5 980.1L387.1 986.2L375.5 992.3" stroke="#111" stroke-width="1.3" fill="none" stroke-linejoin="miter"/>
<path d="M429.6 986.2H500.4M441.2 980.1L429.6 986.2L441.2 992.3M488.8 980.1L500.4 986.2L488.8 992.3" stroke="#111" stroke-width="1.3" fill="none" stroke-linejoin="miter"/>
<path d="M129.0 1004.8h12.4M135.2 998.6v12.4" stroke="#111" stroke-width="1.3" fill="none"/>
<path d="M132.5 1027.9h12.4M138.7 1021.7v12.4" stroke="#111" stroke-width="1.3" fill="none"/>
<path d="M235.7 1004.8h12.4M241.9 998.6v12.4" stroke="#111" stroke-width="1.3" fill="none"/>
<path d="M236.9 1029.4H241.9" stroke="#111" stroke-width="1.5" fill="none"/>
<path d="M359.2 1005.8H364.6" stroke="#111" stroke-width="2.0" fill="none"/>
<path d="M359.0 1027.3h12.4M365.2 1021.1v12.4" stroke="#111" stroke-width="1.3" fill="none"/>
<path d="M460.8 1005.8H466.2" stroke="#111" stroke-width="2.0" fill="none"/>
<path d="M457.9 1029.2H462.7" stroke="#111" stroke-width="1.4" fill="none"/>
<text x="6.5" y="1010" font-family="Liberation Sans, sans-serif" font-size="21" fill="#111">CCR7</text>
<text x="6.5" y="1035" font-family="Liberation Sans, sans-serif" font-size="21" fill="#111" textLength="85.6" lengthAdjust="spacingAndGlyphs">CD45RA</text>
</svg>
</body></html>
